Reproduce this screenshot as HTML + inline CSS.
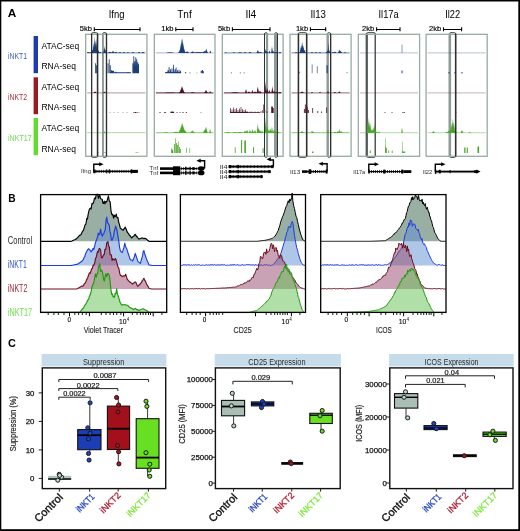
<!DOCTYPE html>
<html><head><meta charset="utf-8"><style>
html,body{margin:0;padding:0;background:#fff;}
svg{display:block;will-change:transform;}
text{font-family:"Liberation Sans", sans-serif;}
</style></head><body>
<svg width="520" height="531" viewBox="0 0 520 531">
<rect x="0" y="0" width="520" height="531" fill="#fff"/>
<text x="7.80" y="16.70" font-size="11.8" fill="#000" font-weight="bold" >A</text>
<text x="108.75" y="17.75" font-size="10" fill="#000" textLength="15.75" lengthAdjust="spacingAndGlyphs" >Ifng</text>
<text x="92.00" y="31.00" font-size="8.0" fill="#000" text-anchor="end" textLength="12.20" lengthAdjust="spacingAndGlyphs" stroke="#000" stroke-width="0.15">5kb</text>
<line x1="94.30" y1="29.50" x2="140.00" y2="29.50" stroke="#000" stroke-width="1.0" />
<line x1="94.30" y1="27.30" x2="94.30" y2="31.30" stroke="#000" stroke-width="1.1" />
<line x1="140.00" y1="27.30" x2="140.00" y2="31.30" stroke="#000" stroke-width="1.1" />
<text x="177.20" y="17.75" font-size="10" fill="#000" textLength="14.50" lengthAdjust="spacingAndGlyphs" >Tnf</text>
<text x="173.50" y="31.00" font-size="8.0" fill="#000" text-anchor="end" textLength="12.20" lengthAdjust="spacingAndGlyphs" stroke="#000" stroke-width="0.15">1kb</text>
<line x1="175.80" y1="29.50" x2="193.00" y2="29.50" stroke="#000" stroke-width="1.0" />
<line x1="175.80" y1="27.30" x2="175.80" y2="31.30" stroke="#000" stroke-width="1.1" />
<line x1="193.00" y1="27.30" x2="193.00" y2="31.30" stroke="#000" stroke-width="1.1" />
<text x="245.50" y="17.75" font-size="10" fill="#000" textLength="10.80" lengthAdjust="spacingAndGlyphs" >Il4</text>
<text x="230.10" y="31.00" font-size="8.0" fill="#000" text-anchor="end" textLength="12.20" lengthAdjust="spacingAndGlyphs" stroke="#000" stroke-width="0.15">5kb</text>
<line x1="232.40" y1="29.50" x2="270.00" y2="29.50" stroke="#000" stroke-width="1.0" />
<line x1="232.40" y1="27.30" x2="232.40" y2="31.30" stroke="#000" stroke-width="1.1" />
<line x1="270.00" y1="27.30" x2="270.00" y2="31.30" stroke="#000" stroke-width="1.1" />
<text x="310.40" y="17.75" font-size="10" fill="#000" textLength="15.60" lengthAdjust="spacingAndGlyphs" >Il13</text>
<text x="308.10" y="31.00" font-size="8.0" fill="#000" text-anchor="end" textLength="12.20" lengthAdjust="spacingAndGlyphs" stroke="#000" stroke-width="0.15">1kb</text>
<line x1="310.40" y1="29.50" x2="325.70" y2="29.50" stroke="#000" stroke-width="1.0" />
<line x1="310.40" y1="27.30" x2="310.40" y2="31.30" stroke="#000" stroke-width="1.1" />
<line x1="325.70" y1="27.30" x2="325.70" y2="31.30" stroke="#000" stroke-width="1.1" />
<text x="378.50" y="17.75" font-size="10" fill="#000" textLength="20.20" lengthAdjust="spacingAndGlyphs" >Il17a</text>
<text x="374.30" y="31.00" font-size="8.0" fill="#000" text-anchor="end" textLength="12.20" lengthAdjust="spacingAndGlyphs" stroke="#000" stroke-width="0.15">2kb</text>
<line x1="376.60" y1="29.50" x2="400.00" y2="29.50" stroke="#000" stroke-width="1.0" />
<line x1="376.60" y1="27.30" x2="376.60" y2="31.30" stroke="#000" stroke-width="1.1" />
<line x1="400.00" y1="27.30" x2="400.00" y2="31.30" stroke="#000" stroke-width="1.1" />
<text x="445.20" y="17.75" font-size="10" fill="#000" textLength="15.00" lengthAdjust="spacingAndGlyphs" >Il22</text>
<text x="441.20" y="31.00" font-size="8.0" fill="#000" text-anchor="end" textLength="12.20" lengthAdjust="spacingAndGlyphs" stroke="#000" stroke-width="0.15">2kb</text>
<line x1="443.50" y1="29.50" x2="461.60" y2="29.50" stroke="#000" stroke-width="1.0" />
<line x1="443.50" y1="27.30" x2="443.50" y2="31.30" stroke="#000" stroke-width="1.1" />
<line x1="461.60" y1="27.30" x2="461.60" y2="31.30" stroke="#000" stroke-width="1.1" />
<text x="7.90" y="59.00" font-size="9.6" fill="#3f63b8" textLength="19.10" lengthAdjust="spacingAndGlyphs" >iNKT1</text>
<rect x="33.60" y="36.00" width="4.40" height="37.20" fill="#1b3caa" stroke="none" stroke-width="1" rx="0" />
<text x="7.90" y="100.40" font-size="9.6" fill="#a8303f" textLength="19.10" lengthAdjust="spacingAndGlyphs" >iNKT2</text>
<rect x="33.60" y="77.30" width="4.40" height="36.90" fill="#9a1a22" stroke="none" stroke-width="1" rx="0" />
<text x="7.90" y="141.40" font-size="9.6" fill="#77d858" textLength="23.80" lengthAdjust="spacingAndGlyphs" >iNKT17</text>
<rect x="33.60" y="118.00" width="4.40" height="37.20" fill="#5fdc2e" stroke="none" stroke-width="1" rx="0" />
<text x="41.50" y="48.60" font-size="8.7" fill="#000" textLength="37.70" lengthAdjust="spacingAndGlyphs" >ATAC-seq</text>
<text x="41.50" y="69.20" font-size="8.7" fill="#000" textLength="34.40" lengthAdjust="spacingAndGlyphs" >RNA-seq</text>
<text x="41.50" y="89.80" font-size="8.7" fill="#000" textLength="37.70" lengthAdjust="spacingAndGlyphs" >ATAC-seq</text>
<text x="41.50" y="110.40" font-size="8.7" fill="#000" textLength="34.40" lengthAdjust="spacingAndGlyphs" >RNA-seq</text>
<text x="41.50" y="131.00" font-size="8.7" fill="#000" textLength="37.70" lengthAdjust="spacingAndGlyphs" >ATAC-seq</text>
<text x="41.50" y="151.60" font-size="8.7" fill="#000" textLength="34.40" lengthAdjust="spacingAndGlyphs" >RNA-seq</text>
<rect x="91.50" y="32.70" width="6.20" height="124.60" fill="none" stroke="#3a3a3a" stroke-width="1.0" rx="1.4" />
<rect x="102.50" y="32.70" width="4.10" height="124.60" fill="none" stroke="#3a3a3a" stroke-width="1.0" rx="1.4" />
<rect x="102.00" y="33.40" width="1.90" height="123.20" fill="#8c9a98" stroke="none" stroke-width="1" rx="0" />
<rect x="264.50" y="32.70" width="3.05" height="124.60" fill="none" stroke="#3a3a3a" stroke-width="1.0" rx="1.4" />
<rect x="265.95" y="33.40" width="2.10" height="123.20" fill="#8c9a98" stroke="none" stroke-width="1" rx="0" />
<rect x="274.50" y="32.70" width="2.90" height="124.60" fill="none" stroke="#3a3a3a" stroke-width="1.0" rx="1.4" />
<rect x="274.00" y="33.40" width="2.90" height="123.20" fill="#8c9a98" stroke="none" stroke-width="1" rx="0" />
<rect x="298.30" y="32.70" width="8.50" height="124.60" fill="none" stroke="#3a3a3a" stroke-width="1.0" rx="1.4" />
<rect x="327.30" y="32.70" width="3.40" height="124.60" fill="none" stroke="#3a3a3a" stroke-width="1.0" rx="1.4" />
<rect x="326.80" y="33.40" width="2.10" height="123.20" fill="#8c9a98" stroke="none" stroke-width="1" rx="0" />
<rect x="366.30" y="32.70" width="9.20" height="124.60" fill="none" stroke="#3a3a3a" stroke-width="1.0" rx="1.4" />
<rect x="365.80" y="33.40" width="2.10" height="123.20" fill="#505858" stroke="none" stroke-width="1" rx="0" />
<rect x="374.50" y="33.40" width="1.50" height="123.20" fill="#505858" stroke="none" stroke-width="1" rx="0" />
<rect x="449.30" y="32.70" width="6.50" height="124.60" fill="none" stroke="#3a3a3a" stroke-width="1.0" rx="1.4" />
<rect x="448.80" y="33.40" width="2.30" height="123.20" fill="#8c9a98" stroke="none" stroke-width="1" rx="0" />
<line x1="87.20" y1="52.90" x2="145.40" y2="52.90" stroke="#1c3f78" stroke-width="1.3" opacity="0.5"/>
<path d="M87.20,52.90L87.20,52.30L87.45,52.20L87.70,52.13L87.95,52.10L88.20,52.11L88.45,52.17L88.70,52.26L88.95,52.36L89.20,52.48L89.45,52.59L89.70,52.68L89.95,52.74L90.20,52.67L90.45,52.57L90.70,52.35L90.95,51.90L91.20,51.32L91.45,50.68L91.70,50.16L91.95,49.91L92.20,50.02L92.45,50.22L92.70,49.70L92.95,48.58L93.20,45.11L93.45,42.97L93.70,43.95L93.95,46.95L94.20,41.04L94.45,36.07L94.70,38.41L94.95,43.65L95.20,40.26L95.45,40.69L95.70,44.56L95.95,41.22L96.20,37.90L96.45,41.22L96.70,46.67L96.95,44.96L97.20,45.74L97.45,48.34L97.70,50.16L97.95,49.91L98.20,50.02L98.45,50.45L98.70,51.06L98.95,51.68L99.20,52.19L99.45,52.16L99.70,51.99L99.95,51.90L100.20,51.94L100.45,52.08L100.70,52.29L100.95,52.49L101.20,52.66L101.45,52.78L101.45,52.90ZM103.45,52.90L103.45,52.51L103.70,51.24L103.95,48.61L104.20,46.17L104.45,46.50L104.70,49.21L104.95,48.91L105.20,49.09L105.45,49.78L105.70,50.72L105.95,51.59L106.20,52.22L106.45,52.60L106.45,52.90ZM108.20,52.90L108.20,52.77L108.45,52.67L108.70,52.53L108.95,52.34L109.20,52.13L109.45,51.93L109.70,51.77L109.95,51.70L110.20,51.73L110.45,51.86L110.70,52.05L110.95,52.26L111.20,52.46L111.45,52.62L111.70,52.53L111.95,52.24L112.20,51.85L112.45,51.42L112.70,51.07L112.95,50.90L113.20,50.98L113.45,51.27L113.70,51.67L113.95,52.09L114.20,52.43L114.45,52.66L114.70,52.72L114.95,52.57L115.20,52.37L115.45,52.16L115.70,51.99L115.95,51.90L116.20,51.94L116.45,52.08L116.70,52.29L116.95,52.49L117.20,52.66L117.45,52.78L117.45,52.90ZM118.70,52.90L118.70,52.75L118.95,52.63L119.20,52.48L119.45,52.31L119.70,52.17L119.95,52.10L120.20,52.13L120.45,52.25L120.70,52.41L120.95,52.58L121.20,52.71L121.20,52.90ZM122.70,52.90L122.70,52.75L122.95,52.63L123.20,52.48L123.45,52.31L123.70,52.17L123.95,52.10L124.20,52.13L124.45,52.25L124.70,52.41L124.95,52.58L125.20,52.71L125.20,52.90ZM126.95,52.90L126.95,52.70L127.20,52.58L127.45,52.46L127.70,52.35L127.95,52.30L128.20,52.32L128.45,52.41L128.70,52.53L128.95,52.66L129.20,52.76L129.20,52.90ZM131.70,52.90L131.70,52.75L131.95,52.63L132.20,52.48L132.45,52.31L132.70,52.17L132.95,52.10L133.20,52.13L133.45,52.25L133.70,52.41L133.95,52.58L134.20,52.71L134.20,52.90ZM137.70,52.90L137.70,52.75L137.95,52.63L138.20,52.48L138.45,52.31L138.70,52.17L138.95,52.10L139.20,52.13L139.45,52.25L139.70,52.41L139.95,52.58L140.20,52.71L140.20,52.90ZM141.70,52.90L141.70,52.72L141.95,52.57L142.20,52.37L142.45,52.16L142.70,51.99L142.95,51.90L143.20,51.94L143.45,52.08L143.70,52.29L143.95,52.49L144.20,52.66L144.45,52.78L144.45,52.90Z" fill="#1c3f78" opacity="0.7"/>
<path d="M87.20,52.90L87.20,52.47L87.45,52.40L87.70,52.35L87.95,52.32L88.20,52.33L88.45,52.37L88.70,52.44L88.95,52.51L89.20,52.60L89.45,52.67L89.70,52.74L89.95,52.78L90.20,52.73L90.45,52.66L90.70,52.50L90.95,52.18L91.20,51.76L91.45,51.30L91.70,50.93L91.95,50.75L92.20,50.82L92.45,50.97L92.70,50.60L92.95,49.79L93.20,47.29L93.45,45.75L93.70,46.46L93.95,48.62L94.20,44.36L94.45,40.78L94.70,42.47L94.95,46.24L95.20,43.80L95.45,44.11L95.70,46.90L95.95,44.49L96.20,42.10L96.45,44.49L96.70,48.41L96.95,47.18L97.20,47.75L97.45,49.62L97.70,50.93L97.95,50.75L98.20,50.82L98.45,51.14L98.70,51.58L98.95,52.02L99.20,52.39L99.45,52.37L99.70,52.24L99.95,52.18L100.20,52.21L100.45,52.31L100.70,52.46L100.95,52.61L101.20,52.73L101.45,52.81L101.45,52.90ZM103.45,52.90L103.45,52.62L103.70,51.71L103.95,49.81L104.20,48.06L104.45,48.29L104.70,50.24L104.95,50.03L105.20,50.16L105.45,50.66L105.70,51.33L105.95,51.95L106.20,52.41L106.45,52.69L106.45,52.90ZM108.20,52.90L108.20,52.81L108.45,52.74L108.70,52.63L108.95,52.50L109.20,52.35L109.45,52.20L109.70,52.09L109.95,52.04L110.20,52.06L110.45,52.15L110.70,52.29L110.95,52.44L111.20,52.58L111.45,52.70L111.70,52.63L111.95,52.42L112.20,52.14L112.45,51.84L112.70,51.58L112.95,51.46L113.20,51.52L113.45,51.72L113.70,52.02L113.95,52.32L114.20,52.56L114.45,52.72L114.70,52.77L114.95,52.66L115.20,52.52L115.45,52.37L115.70,52.24L115.95,52.18L116.20,52.21L116.45,52.31L116.70,52.46L116.95,52.61L117.20,52.73L117.45,52.81L117.45,52.90ZM118.70,52.90L118.70,52.79L118.95,52.71L119.20,52.60L119.45,52.47L119.70,52.37L119.95,52.33L120.20,52.35L120.45,52.43L120.70,52.55L120.95,52.67L121.20,52.76L121.20,52.90ZM122.70,52.90L122.70,52.79L122.95,52.71L123.20,52.60L123.45,52.47L123.70,52.37L123.95,52.33L124.20,52.35L124.45,52.43L124.70,52.55L124.95,52.67L125.20,52.76L125.20,52.90ZM126.95,52.90L126.95,52.76L127.20,52.67L127.45,52.58L127.70,52.51L127.95,52.47L128.20,52.48L128.45,52.55L128.70,52.64L128.95,52.72L129.20,52.80L129.20,52.90ZM131.70,52.90L131.70,52.79L131.95,52.71L132.20,52.60L132.45,52.47L132.70,52.37L132.95,52.33L133.20,52.35L133.45,52.43L133.70,52.55L133.95,52.67L134.20,52.76L134.20,52.90ZM137.70,52.90L137.70,52.79L137.95,52.71L138.20,52.60L138.45,52.47L138.70,52.37L138.95,52.33L139.20,52.35L139.45,52.43L139.70,52.55L139.95,52.67L140.20,52.76L140.20,52.90ZM141.70,52.90L141.70,52.77L141.95,52.66L142.20,52.52L142.45,52.37L142.70,52.24L142.95,52.18L143.20,52.21L143.45,52.31L143.70,52.46L143.95,52.61L144.20,52.73L144.45,52.81L144.45,52.90Z" fill="#1c3f78" opacity="1"/>
<path d="M95.00,73.20L95.00,63.20L95.10,63.20L95.20,63.20L95.30,63.20L95.40,63.20L95.50,63.20L95.60,63.20L95.70,63.20L95.80,63.20L95.80,73.20ZM96.00,73.20L96.00,65.20L96.10,65.20L96.20,65.20L96.30,65.20L96.40,65.20L96.50,65.20L96.60,65.20L96.70,65.20L96.80,65.20L96.80,73.20ZM107.60,73.20L107.60,63.20L107.70,63.20L107.80,63.20L107.90,63.20L108.00,63.20L108.10,63.20L108.20,63.20L108.30,63.20L108.40,63.20L108.40,73.20ZM108.80,73.20L108.80,59.20L108.90,59.20L109.00,59.20L109.10,59.20L109.20,59.20L109.30,59.20L109.40,59.20L109.50,59.20L109.60,59.20L109.60,73.20ZM109.90,73.20L109.90,65.20L110.00,65.20L110.10,65.20L110.20,65.20L110.30,65.20L110.40,65.20L110.50,65.20L110.60,65.20L110.70,65.20L110.80,72.20L110.90,72.20L111.00,70.20L111.10,70.20L111.20,70.20L111.30,70.20L111.40,70.20L111.50,70.20L111.60,70.20L111.70,70.20L111.80,70.20L111.90,70.20L112.00,70.20L112.10,70.70L112.20,70.70L112.30,70.70L112.40,70.70L112.50,70.70L112.60,70.70L112.70,70.70L112.80,70.70L112.90,70.70L113.00,70.70L113.10,70.70L113.20,70.70L113.30,70.70L113.40,70.70L113.50,70.70L113.60,70.70L113.70,70.70L113.80,70.70L113.90,70.70L114.00,70.70L114.10,72.20L114.20,72.20L114.30,72.20L114.40,72.20L114.50,72.20L114.60,72.20L114.70,72.20L114.80,72.20L114.90,72.20L115.00,72.20L115.10,72.20L115.20,72.20L115.30,72.20L115.40,71.70L115.50,71.70L115.60,71.70L115.70,71.70L115.80,71.70L115.90,71.70L116.00,71.70L116.10,71.70L116.20,71.70L116.30,71.70L116.40,71.70L116.50,71.70L116.60,71.70L116.70,72.20L116.80,72.20L116.90,72.20L117.00,72.20L117.10,72.20L117.20,72.20L117.30,72.20L117.40,72.20L117.50,72.20L117.60,72.20L117.70,72.20L117.80,72.20L117.90,72.20L118.00,72.20L118.10,72.20L118.20,72.20L118.30,72.20L118.40,72.20L118.50,72.20L118.60,72.20L118.70,72.20L118.80,72.20L118.90,72.20L119.00,72.20L119.10,72.20L119.20,72.20L119.30,72.20L119.40,72.20L119.50,72.20L119.60,72.20L119.70,72.20L119.80,72.20L119.90,72.20L120.00,72.20L120.10,72.20L120.20,72.20L120.30,72.20L120.40,72.20L120.50,72.20L120.60,72.20L120.70,72.20L120.80,72.20L120.90,72.20L121.00,72.20L121.10,72.20L121.20,72.20L121.30,72.20L121.40,72.20L121.50,72.20L121.60,72.20L121.70,72.20L121.80,72.20L121.90,72.20L122.00,72.20L122.10,72.20L122.20,72.20L122.30,72.20L122.40,72.20L122.50,72.20L122.60,72.20L122.70,72.20L122.80,72.20L122.90,72.20L123.00,72.20L123.10,72.20L123.20,72.20L123.30,72.20L123.40,72.20L123.50,72.20L123.60,72.20L123.70,72.20L123.80,72.20L123.90,72.20L124.00,72.20L124.10,72.20L124.20,72.20L124.30,72.20L124.40,72.20L124.50,72.20L124.60,72.20L124.70,72.20L124.80,72.20L124.90,72.20L125.00,72.20L125.10,72.20L125.20,72.20L125.30,72.20L125.40,72.20L125.50,72.20L125.60,72.20L125.70,72.20L125.80,72.20L125.90,72.20L126.00,72.20L126.10,72.20L126.20,72.20L126.30,72.20L126.40,72.20L126.50,72.20L126.60,72.20L126.70,72.20L126.80,72.20L126.90,72.20L127.00,72.20L127.10,72.20L127.20,72.20L127.30,72.20L127.40,72.20L127.50,72.00L127.60,72.00L127.70,72.00L127.80,72.00L127.90,72.00L128.00,72.00L128.10,72.00L128.20,72.00L128.30,72.00L128.40,72.00L128.50,72.00L128.60,72.20L128.70,72.20L128.80,72.20L128.90,72.20L129.00,72.20L129.10,72.20L129.20,72.20L129.30,72.20L129.40,72.20L129.50,72.20L129.60,72.20L129.70,72.20L129.80,72.20L129.90,72.20L130.00,72.20L130.10,72.20L130.20,72.20L130.30,72.20L130.40,72.20L130.50,72.20L130.60,72.20L130.70,72.20L130.80,72.20L130.90,72.20L131.00,72.20L131.00,73.20ZM132.40,73.20L132.40,63.20L132.50,63.20L132.60,63.20L132.70,63.20L132.80,63.20L132.90,63.20L133.00,63.20L133.10,63.20L133.20,63.20L133.30,67.20L133.40,56.20L133.50,56.20L133.60,56.20L133.70,56.20L133.80,56.20L133.90,56.20L134.00,56.20L134.10,56.20L134.20,56.20L134.30,67.20L134.40,61.20L134.50,61.20L134.60,61.20L134.70,61.20L134.80,61.20L134.90,61.20L135.00,61.20L135.10,61.20L135.20,61.20L135.30,67.20L135.40,57.20L135.50,57.20L135.60,57.20L135.70,57.20L135.80,57.20L135.90,57.20L136.00,57.20L136.10,57.20L136.20,57.20L136.30,67.20L136.40,59.20L136.50,59.20L136.60,59.20L136.70,59.20L136.80,59.20L136.90,59.20L137.00,59.20L137.10,59.20L137.20,59.20L137.30,67.20L137.40,62.20L137.50,62.20L137.60,62.20L137.70,62.20L137.80,62.20L137.90,62.20L138.00,62.20L138.10,62.20L138.20,62.20L138.30,64.20L138.40,64.20L138.50,64.20L138.60,64.20L138.70,64.20L138.80,64.20L138.90,64.20L139.00,64.20L139.00,73.20Z" fill="#1c3f78" opacity="1.0"/>
<line x1="87.20" y1="92.90" x2="145.40" y2="92.90" stroke="#4d1224" stroke-width="1.3" opacity="0.35"/>
<path d="M93.45,92.90L93.45,92.76L93.70,92.62L93.95,92.40L94.20,92.11L94.45,91.79L94.70,91.53L94.95,91.40L95.20,91.46L95.45,91.67L95.70,91.98L95.95,92.29L96.20,92.54L96.45,92.72L96.45,92.90ZM103.45,92.90L103.45,92.69L103.70,92.46L103.95,92.15L104.20,91.86L104.45,91.70L104.70,91.77L104.95,92.03L105.20,92.34L105.45,92.61L105.70,92.77L105.70,92.90Z" fill="#4d1224" opacity="0.7"/>
<path d="M93.45,92.90L93.45,92.80L93.70,92.70L93.95,92.54L94.20,92.33L94.45,92.10L94.70,91.91L94.95,91.82L95.20,91.86L95.45,92.02L95.70,92.24L95.95,92.46L96.20,92.64L96.45,92.77L96.45,92.90ZM103.45,92.90L103.45,92.75L103.70,92.58L103.95,92.36L104.20,92.15L104.45,92.04L104.70,92.09L104.95,92.27L105.20,92.50L105.45,92.69L105.70,92.81L105.70,92.90Z" fill="#4d1224" opacity="1"/>
<path d="M97.60,112.90L97.60,112.50L97.70,112.50L97.80,112.50L97.90,112.50L98.00,112.50L98.10,112.50L98.20,112.50L98.30,112.50L98.40,112.50L98.40,112.90ZM109.60,112.90L109.60,112.40L109.70,112.40L109.80,112.40L109.90,112.40L110.00,112.40L110.10,112.40L110.20,112.40L110.30,112.40L110.40,112.40L110.40,112.90ZM113.60,112.90L113.60,112.50L113.70,112.50L113.80,112.50L113.90,112.50L114.00,112.50L114.10,112.50L114.20,112.50L114.30,112.50L114.40,112.50L114.40,112.90ZM117.60,112.90L117.60,112.50L117.70,112.50L117.80,112.50L117.90,112.50L118.00,112.50L118.10,112.50L118.20,112.50L118.30,112.50L118.40,112.50L118.40,112.90ZM122.60,112.90L122.60,112.50L122.70,112.50L122.80,112.50L122.90,112.50L123.00,112.50L123.10,112.50L123.20,112.50L123.30,112.50L123.40,112.50L123.40,112.90ZM126.60,112.90L126.60,112.50L126.70,112.50L126.80,112.50L126.90,112.50L127.00,112.50L127.10,112.50L127.20,112.50L127.30,112.50L127.40,112.50L127.40,112.90ZM133.50,112.90L133.50,112.10L133.60,112.10L133.70,112.10L133.80,112.10L133.90,112.10L134.00,112.10L134.10,112.10L134.20,112.10L134.30,112.10L134.40,112.10L134.50,112.10L134.50,112.90ZM135.00,112.90L135.00,111.90L135.10,111.90L135.20,111.90L135.30,111.90L135.40,111.90L135.50,111.90L135.60,111.90L135.70,111.90L135.80,111.90L135.90,111.90L136.00,111.90L136.00,112.90ZM136.50,112.90L136.50,112.10L136.60,112.10L136.70,112.10L136.80,112.10L136.90,112.10L137.00,112.10L137.10,112.10L137.20,112.10L137.30,112.10L137.40,112.10L137.50,112.10L137.50,112.90ZM138.50,112.90L138.50,112.40L138.60,112.40L138.70,112.40L138.80,112.40L138.90,112.40L139.00,112.40L139.10,112.40L139.20,112.40L139.30,112.40L139.40,112.40L139.50,112.40L139.50,112.90Z" fill="#4d1224" opacity="1.0"/>
<line x1="87.20" y1="132.70" x2="145.40" y2="132.70" stroke="#48a626" stroke-width="1.3" opacity="0.35"/>
<path d="M103.95,132.70L103.95,132.25L104.20,131.65L104.45,131.21L104.70,131.42L104.95,132.03L105.20,132.49L105.20,132.70Z" fill="#48a626" opacity="0.7"/>
<path d="M103.95,132.70L103.95,132.38L104.20,131.95L104.45,131.63L104.70,131.78L104.95,132.22L105.20,132.55L105.20,132.70Z" fill="#48a626" opacity="1"/>
<path d="M97.00,152.90L97.00,152.60L97.10,152.60L97.20,152.60L97.30,152.60L97.40,152.60L97.50,152.60L97.60,152.60L97.70,152.60L97.80,152.60L97.90,152.60L98.00,152.60L98.10,152.60L98.20,152.60L98.30,152.60L98.40,152.60L98.50,152.60L98.60,152.60L98.70,152.60L98.80,152.60L98.90,152.60L99.00,152.60L99.00,152.90ZM104.00,152.90L104.00,152.60L104.10,152.60L104.20,152.60L104.30,152.60L104.40,152.60L104.50,152.60L104.60,152.60L104.70,152.60L104.80,152.60L104.90,152.60L105.00,152.60L105.10,152.60L105.20,152.60L105.30,152.60L105.40,152.60L105.50,152.60L105.60,152.60L105.70,152.60L105.80,152.60L105.90,152.60L106.00,152.60L106.00,152.90ZM135.50,152.90L135.50,152.60L135.60,152.60L135.70,152.60L135.80,152.60L135.90,152.60L136.00,152.60L136.10,152.60L136.20,152.60L136.30,152.60L136.40,152.60L136.50,152.60L136.60,152.60L136.70,152.60L136.80,152.60L136.90,152.60L137.00,152.60L137.10,152.60L137.20,152.60L137.30,152.60L137.40,152.60L137.50,152.60L137.60,152.60L137.70,152.60L137.80,152.60L137.90,152.60L138.00,152.60L138.10,152.60L138.20,152.60L138.30,152.60L138.40,152.60L138.50,152.60L138.50,152.90Z" fill="#48a626" opacity="1.0"/>
<rect x="85.70" y="34.30" width="61.20" height="122.00" fill="none" stroke="#97aca2" stroke-width="1.3" rx="0" />
<line x1="155.80" y1="52.90" x2="213.50" y2="52.90" stroke="#1c3f78" stroke-width="1.3" opacity="0.3"/>
<path d="M166.55,52.90L166.55,52.77L166.80,52.74L167.05,52.71L167.30,52.68L167.55,52.64L167.80,52.61L168.05,52.57L168.30,52.54L168.55,52.50L168.80,52.47L169.05,52.45L169.30,52.43L169.55,52.41L169.80,52.40L170.05,52.40L170.30,52.40L170.55,52.42L170.80,52.43L171.05,52.46L171.30,52.49L171.55,52.52L171.80,52.55L172.05,52.59L172.30,52.62L172.55,52.66L172.80,52.69L173.05,52.72L173.30,52.75L173.55,52.78L173.55,52.90ZM178.05,52.90L178.05,52.75L178.30,52.65L178.55,52.48L178.80,52.22L179.05,51.85L179.30,51.33L179.55,50.62L179.80,49.71L180.05,48.59L180.30,47.28L180.55,45.81L180.80,44.26L181.05,42.73L181.30,41.34L181.55,40.21L181.80,39.44L182.05,39.11L182.30,39.25L182.55,39.85L182.80,40.85L183.05,42.15L183.30,43.64L183.55,45.19L183.80,46.70L184.05,48.09L184.30,49.01L184.55,50.05L184.80,51.06L185.05,51.66L185.30,52.09L185.55,52.31L185.80,52.11L186.05,51.90L186.30,51.69L186.55,51.53L186.80,51.43L187.05,51.40L187.30,51.46L187.55,51.59L187.80,51.77L188.05,51.98L188.30,52.19L188.55,52.38L188.80,52.54L189.05,52.67L189.30,52.76L189.30,52.90ZM190.30,52.90L190.30,52.76L190.55,52.67L190.80,52.54L191.05,52.38L191.30,52.19L191.55,51.98L191.80,51.77L192.05,51.59L192.30,51.46L192.55,51.40L192.80,51.43L193.05,51.53L193.30,51.69L193.55,51.90L193.80,52.11L194.05,52.31L194.30,52.48L194.55,52.45L194.80,52.41L195.05,52.36L195.30,52.32L195.55,52.28L195.80,52.24L196.05,52.19L196.30,52.15L196.55,52.11L196.80,52.08L197.05,52.04L197.30,52.01L197.55,51.98L197.80,51.96L198.05,51.94L198.30,51.92L198.55,51.91L198.80,51.90L199.05,51.90L199.30,51.90L199.55,51.91L199.80,51.93L200.05,51.94L200.30,51.97L200.55,51.99L200.80,52.02L201.05,52.05L201.30,52.09L201.55,52.13L201.80,52.17L202.05,52.21L202.30,52.25L202.55,52.30L202.80,52.34L203.05,52.32L203.30,52.05L203.55,51.73L203.80,51.40L204.05,51.13L204.30,50.95L204.55,50.90L204.80,51.00L205.05,51.23L205.30,51.53L205.55,50.85L205.80,49.89L206.05,49.10L206.30,48.80L206.55,49.10L206.80,49.89L207.05,50.85L207.30,51.71L207.55,52.30L207.80,52.65L207.80,52.90ZM209.55,52.90L209.55,52.76L209.80,52.31L210.05,51.37L210.30,50.50L210.55,50.62L210.80,51.58L211.05,52.44L211.05,52.90Z" fill="#1c3f78" opacity="0.7"/>
<path d="M166.55,52.90L166.55,52.80L166.80,52.78L167.05,52.76L167.30,52.74L167.55,52.72L167.80,52.69L168.05,52.66L168.30,52.64L168.55,52.61L168.80,52.59L169.05,52.57L169.30,52.56L169.55,52.55L169.80,52.54L170.05,52.54L170.30,52.54L170.55,52.55L170.80,52.56L171.05,52.58L171.30,52.60L171.55,52.62L171.80,52.65L172.05,52.67L172.30,52.70L172.55,52.73L172.80,52.75L173.05,52.77L173.30,52.79L173.55,52.81L173.55,52.90ZM178.05,52.90L178.05,52.79L178.30,52.72L178.55,52.60L178.80,52.41L179.05,52.14L179.30,51.77L179.55,51.26L179.80,50.60L180.05,49.80L180.30,48.85L180.55,47.79L180.80,46.68L181.05,45.58L181.30,44.58L181.55,43.76L181.80,43.21L182.05,42.97L182.30,43.07L182.55,43.51L182.80,44.23L183.05,45.16L183.30,46.23L183.55,47.35L183.80,48.44L184.05,49.43L184.30,50.10L184.55,50.85L184.80,51.58L185.05,52.01L185.30,52.32L185.55,52.48L185.80,52.33L186.05,52.18L186.30,52.03L186.55,51.91L186.80,51.84L187.05,51.82L187.30,51.86L187.55,51.96L187.80,52.09L188.05,52.24L188.30,52.39L188.55,52.53L188.80,52.64L189.05,52.73L189.30,52.80L189.30,52.90ZM190.30,52.90L190.30,52.80L190.55,52.73L190.80,52.64L191.05,52.53L191.30,52.39L191.55,52.24L191.80,52.09L192.05,51.96L192.30,51.86L192.55,51.82L192.80,51.84L193.05,51.91L193.30,52.03L193.55,52.18L193.80,52.33L194.05,52.48L194.30,52.60L194.55,52.57L194.80,52.54L195.05,52.51L195.30,52.48L195.55,52.45L195.80,52.42L196.05,52.39L196.30,52.36L196.55,52.33L196.80,52.31L197.05,52.28L197.30,52.26L197.55,52.24L197.80,52.22L198.05,52.21L198.30,52.19L198.55,52.19L198.80,52.18L199.05,52.18L199.30,52.18L199.55,52.19L199.80,52.20L200.05,52.21L200.30,52.23L200.55,52.25L200.80,52.27L201.05,52.29L201.30,52.32L201.55,52.34L201.80,52.37L202.05,52.40L202.30,52.43L202.55,52.47L202.80,52.50L203.05,52.48L203.30,52.29L203.55,52.06L203.80,51.82L204.05,51.62L204.30,51.49L204.55,51.46L204.80,51.53L205.05,51.70L205.30,51.91L205.55,51.43L205.80,50.73L206.05,50.17L206.30,49.95L206.55,50.17L206.80,50.73L207.05,51.43L207.30,52.04L207.55,52.47L207.80,52.72L207.80,52.90ZM209.55,52.90L209.55,52.80L209.80,52.47L210.05,51.80L210.30,51.17L210.55,51.25L210.80,51.95L211.05,52.57L211.05,52.90Z" fill="#1c3f78" opacity="1"/>
<path d="M165.00,73.20L165.00,72.20L165.10,72.20L165.20,72.20L165.30,72.20L165.40,72.20L165.50,72.20L165.60,72.20L165.70,72.20L165.80,72.20L165.90,72.00L166.00,72.00L166.10,72.00L166.20,72.00L166.30,72.00L166.40,72.00L166.50,72.00L166.60,72.00L166.70,72.00L166.80,72.00L166.90,72.00L167.00,72.00L167.10,72.00L167.20,72.00L167.30,72.00L167.40,72.00L167.50,70.20L167.60,70.20L167.70,70.20L167.80,70.20L167.90,70.20L168.00,70.20L168.10,70.20L168.20,70.20L168.30,70.20L168.40,70.20L168.50,70.20L168.60,72.00L168.70,66.90L168.80,66.90L168.90,66.90L169.00,66.90L169.10,66.90L169.20,66.90L169.30,66.90L169.40,66.90L169.50,66.90L169.60,72.00L169.70,72.00L169.80,72.00L169.90,72.00L170.00,72.00L170.10,69.20L170.20,69.20L170.30,69.20L170.40,69.20L170.50,69.20L170.60,69.20L170.70,69.20L170.80,69.20L170.90,69.20L171.00,72.00L171.10,72.00L171.20,72.00L171.30,72.00L171.40,72.00L171.50,72.00L171.60,68.20L171.70,68.20L171.80,68.20L171.90,68.20L172.00,68.20L172.10,68.20L172.20,68.20L172.30,68.20L172.40,68.20L172.50,72.00L172.60,72.00L172.70,72.00L172.80,72.00L172.90,72.00L173.00,72.00L173.10,72.00L173.20,64.70L173.30,64.70L173.40,64.70L173.50,64.70L173.60,64.70L173.70,64.70L173.80,64.70L173.90,64.70L174.00,64.70L174.10,72.00L174.20,72.00L174.30,72.00L174.40,72.00L174.50,72.00L174.60,69.20L174.70,69.20L174.80,69.20L174.90,69.20L175.00,69.20L175.10,69.20L175.20,69.20L175.30,69.20L175.40,69.20L175.50,72.00L175.60,72.00L175.70,67.50L175.80,67.50L175.90,67.50L176.00,67.50L176.10,67.50L176.20,67.50L176.30,67.50L176.40,67.50L176.50,67.50L176.60,72.00L176.70,72.00L176.80,72.00L176.90,72.00L177.00,72.00L177.10,70.20L177.20,70.20L177.30,70.20L177.40,70.20L177.50,70.20L177.60,70.20L177.70,70.20L177.80,70.20L177.90,70.20L178.00,72.00L178.10,72.00L178.20,72.00L178.30,72.00L178.40,72.00L178.50,72.00L178.60,69.70L178.70,69.70L178.80,69.70L178.90,69.70L179.00,69.70L179.10,69.70L179.20,69.70L179.30,69.70L179.40,69.70L179.50,72.00L179.60,72.00L179.70,72.00L179.80,72.00L179.90,72.00L180.00,72.00L180.10,70.70L180.20,70.70L180.30,70.70L180.40,70.70L180.50,70.70L180.60,70.70L180.70,70.70L180.80,70.70L180.90,70.70L181.00,72.00L181.10,72.00L181.10,73.20ZM185.10,73.20L185.10,72.00L185.20,72.00L185.30,72.00L185.40,72.00L185.50,72.00L185.60,72.00L185.70,72.00L185.80,72.00L185.90,72.00L186.00,72.00L186.10,72.00L186.10,73.20ZM189.50,73.20L189.50,72.40L189.60,72.40L189.70,72.40L189.80,72.40L189.90,72.40L190.00,72.40L190.10,72.40L190.20,72.40L190.30,72.40L190.40,72.40L190.50,72.40L190.50,73.20ZM196.50,73.20L196.50,72.70L196.60,72.70L196.70,72.70L196.80,72.70L196.90,72.70L197.00,72.70L197.10,72.70L197.20,72.70L197.30,72.70L197.40,72.70L197.50,72.70L197.50,73.20ZM200.70,73.20L200.70,70.70L200.80,70.70L200.90,70.70L201.00,70.70L201.10,70.70L201.20,70.70L201.30,70.70L201.40,70.70L201.50,70.70L201.60,70.70L201.70,70.70L201.70,73.20ZM201.90,73.20L201.90,70.00L202.00,70.00L202.10,70.00L202.20,70.00L202.30,70.00L202.40,70.00L202.50,70.00L202.60,70.00L202.70,70.00L202.80,70.00L202.90,70.00L203.00,71.20L203.10,71.20L203.20,71.20L203.30,71.20L203.40,71.20L203.50,71.20L203.60,71.20L203.70,71.20L203.80,71.20L203.80,73.20Z" fill="#1c3f78" opacity="1.0"/>
<line x1="155.80" y1="92.90" x2="213.50" y2="92.90" stroke="#4d1224" stroke-width="1.3" opacity="0.75"/>
<path d="M165.05,92.90L165.05,92.77L165.30,92.76L165.55,92.74L165.80,92.73L166.05,92.71L166.30,92.70L166.55,92.68L166.80,92.67L167.05,92.65L167.30,92.64L167.55,92.62L167.80,92.61L168.05,92.60L168.30,92.59L168.55,92.58L168.80,92.57L169.05,92.56L169.30,92.56L169.55,92.55L169.80,92.55L170.05,92.55L170.30,92.55L170.55,92.55L170.80,92.56L171.05,92.57L171.30,92.57L171.55,92.58L171.80,92.59L172.05,92.60L172.30,92.62L172.55,92.63L172.80,92.64L173.05,92.66L173.30,92.67L173.55,92.69L173.80,92.70L174.05,92.72L174.30,92.73L174.55,92.75L174.80,92.76L175.05,92.77L175.05,92.90ZM178.80,92.90L178.80,92.72L179.05,92.55L179.30,92.29L179.55,91.95L179.80,91.57L180.05,91.21L180.30,90.83L180.55,90.08L180.80,89.25L181.05,88.40L181.30,87.61L181.55,86.99L181.80,86.60L182.05,86.51L182.30,86.72L182.55,87.21L182.80,87.92L183.05,88.74L183.30,89.59L183.55,90.40L183.80,91.09L184.05,91.66L184.30,92.09L184.55,92.40L184.80,92.60L185.05,92.73L185.05,92.90ZM190.80,92.90L190.80,92.76L191.05,92.69L191.30,92.62L191.55,92.53L191.80,92.45L192.05,92.38L192.30,92.32L192.55,92.30L192.80,92.31L193.05,92.35L193.30,92.42L193.55,92.50L193.80,92.58L194.05,92.66L194.30,92.73L194.30,92.90ZM204.05,92.90L204.05,92.77L204.30,92.63L204.55,92.39L204.80,92.02L205.05,91.52L205.30,90.97L205.55,90.45L205.80,90.09L206.05,90.01L206.30,90.21L206.55,90.64L206.80,91.19L207.05,91.73L207.30,92.18L207.55,92.50L207.80,92.70L207.80,92.90ZM209.30,92.90L209.30,92.66L209.55,92.16L209.80,91.41L210.05,90.92L210.30,91.15L210.55,91.88L210.80,92.50L210.80,92.90Z" fill="#4d1224" opacity="0.7"/>
<path d="M165.05,92.90L165.05,92.81L165.30,92.80L165.55,92.79L165.80,92.78L166.05,92.76L166.30,92.75L166.55,92.74L166.80,92.73L167.05,92.72L167.30,92.71L167.55,92.70L167.80,92.69L168.05,92.68L168.30,92.68L168.55,92.67L168.80,92.66L169.05,92.66L169.30,92.65L169.55,92.65L169.80,92.65L170.05,92.65L170.30,92.65L170.55,92.65L170.80,92.65L171.05,92.66L171.30,92.66L171.55,92.67L171.80,92.68L172.05,92.69L172.30,92.70L172.55,92.71L172.80,92.72L173.05,92.73L173.30,92.74L173.55,92.75L173.80,92.76L174.05,92.77L174.30,92.78L174.55,92.79L174.80,92.80L175.05,92.81L175.05,92.90ZM178.80,92.90L178.80,92.77L179.05,92.65L179.30,92.46L179.55,92.22L179.80,91.94L180.05,91.68L180.30,91.41L180.55,90.87L180.80,90.27L181.05,89.66L181.30,89.09L181.55,88.64L181.80,88.36L182.05,88.30L182.30,88.45L182.55,88.81L182.80,89.31L183.05,89.90L183.30,90.52L183.55,91.10L183.80,91.60L184.05,92.01L184.30,92.32L184.55,92.54L184.80,92.68L185.05,92.78L185.05,92.90ZM190.80,92.90L190.80,92.80L191.05,92.75L191.30,92.70L191.55,92.64L191.80,92.57L192.05,92.52L192.30,92.48L192.55,92.47L192.80,92.48L193.05,92.51L193.30,92.55L193.55,92.61L193.80,92.67L194.05,92.73L194.30,92.78L194.30,92.90ZM204.05,92.90L204.05,92.81L204.30,92.71L204.55,92.53L204.80,92.26L205.05,91.91L205.30,91.51L205.55,91.13L205.80,90.88L206.05,90.82L206.30,90.96L206.55,91.27L206.80,91.67L207.05,92.06L207.30,92.38L207.55,92.61L207.80,92.76L207.80,92.90ZM209.30,92.90L209.30,92.73L209.55,92.37L209.80,91.83L210.05,91.47L210.30,91.64L210.55,92.16L210.80,92.61L210.80,92.90Z" fill="#4d1224" opacity="1"/>
<path d="M159.00,112.90L159.00,112.40L159.10,112.40L159.20,112.40L159.30,112.40L159.40,112.40L159.50,112.40L159.60,112.40L159.70,112.40L159.80,112.40L159.90,112.40L160.00,112.40L160.10,112.40L160.20,112.40L160.30,112.40L160.40,112.40L160.50,112.40L160.60,112.40L160.70,112.40L160.80,112.40L160.90,112.40L161.00,112.40L161.00,112.90ZM164.00,112.90L164.00,112.30L164.10,112.30L164.20,112.30L164.30,112.30L164.40,112.30L164.50,112.30L164.60,112.30L164.70,112.30L164.80,112.30L164.90,112.30L165.00,112.30L165.10,112.30L165.20,112.30L165.30,112.30L165.40,112.30L165.50,112.30L165.60,112.30L165.70,112.30L165.80,112.30L165.90,112.30L166.00,112.30L166.00,112.90ZM170.40,112.90L170.40,111.70L170.50,111.70L170.60,111.70L170.70,111.70L170.80,111.70L170.90,111.70L171.00,111.70L171.10,111.70L171.20,111.70L171.30,111.70L171.40,111.70L171.50,111.70L171.60,111.70L171.70,111.40L171.80,111.40L171.90,111.40L172.00,111.40L172.10,111.40L172.20,111.40L172.30,111.40L172.40,111.40L172.50,111.40L172.60,111.40L172.70,111.40L172.80,111.40L172.90,111.40L173.00,111.70L173.10,111.70L173.20,111.70L173.30,111.70L173.40,111.70L173.50,111.70L173.60,111.70L173.70,111.70L173.80,111.70L173.90,111.70L174.00,111.70L174.10,111.70L174.10,112.90ZM176.50,112.90L176.50,112.30L176.60,112.30L176.70,112.30L176.80,112.30L176.90,112.30L177.00,112.30L177.10,112.30L177.20,112.30L177.30,112.30L177.40,112.30L177.50,112.30L177.50,112.90ZM179.50,112.90L179.50,112.20L179.60,112.20L179.70,112.20L179.80,112.20L179.90,112.20L180.00,112.20L180.10,112.20L180.20,112.20L180.30,112.20L180.40,112.20L180.50,112.20L180.50,112.90ZM182.50,112.90L182.50,112.10L182.60,112.10L182.70,112.10L182.80,112.10L182.90,112.10L183.00,112.10L183.10,112.10L183.20,112.10L183.30,112.10L183.40,112.10L183.50,112.10L183.50,112.90ZM185.80,112.90L185.80,112.10L185.90,112.10L186.00,112.10L186.10,112.10L186.20,112.10L186.30,112.10L186.40,112.10L186.50,112.10L186.60,112.10L186.70,112.10L186.80,112.10L186.80,112.90ZM200.50,112.90L200.50,112.40L200.60,112.40L200.70,112.40L200.80,112.40L200.90,112.40L201.00,112.40L201.10,112.40L201.20,112.40L201.30,112.40L201.40,112.40L201.50,112.40L201.50,112.90Z" fill="#4d1224" opacity="1.0"/>
<line x1="155.80" y1="132.70" x2="213.50" y2="132.70" stroke="#48a626" stroke-width="1.3" opacity="0.5"/>
<path d="M164.05,132.70L164.05,132.55L164.30,132.51L164.55,132.46L164.80,132.42L165.05,132.38L165.30,132.35L165.55,132.32L165.80,132.30L166.05,132.30L166.30,132.31L166.55,132.33L166.80,132.36L167.05,132.40L167.30,132.44L167.55,132.48L167.80,132.52L168.05,132.56L168.05,132.70ZM173.30,132.70L173.30,132.54L173.55,132.48L173.80,132.40L174.05,132.31L174.30,132.21L174.55,132.11L174.80,132.00L175.05,131.90L175.30,131.82L175.55,131.75L175.80,131.71L176.05,131.70L176.30,131.72L176.55,131.77L176.80,131.85L177.05,131.94L177.30,132.04L177.55,132.15L177.80,132.26L178.05,132.35L178.30,132.43L178.55,132.28L178.80,131.98L179.05,131.55L179.30,130.99L179.55,130.36L179.80,129.71L180.05,129.15L180.30,128.79L180.55,128.04L180.80,127.06L181.05,126.09L181.30,125.19L181.55,124.42L181.80,123.86L182.05,123.55L182.30,123.52L182.55,123.78L182.80,124.29L183.05,125.02L183.30,125.90L183.55,126.87L183.80,127.85L184.05,128.79L184.30,129.65L184.55,129.70L184.80,129.86L185.05,130.19L185.30,130.65L185.55,131.14L185.80,131.60L186.05,131.98L186.30,132.26L186.55,132.45L186.80,132.57L186.80,132.70ZM190.30,132.70L190.30,132.55L190.55,132.42L190.80,132.24L191.05,131.99L191.30,131.67L191.55,131.33L191.80,131.00L192.05,130.75L192.30,130.61L192.55,130.63L192.80,130.79L193.05,131.06L193.30,131.40L193.55,131.74L193.80,132.04L194.05,132.28L194.30,132.45L194.55,132.56L194.55,132.70ZM203.05,132.70L203.05,132.48L203.30,132.19L203.55,131.72L203.80,131.06L204.05,130.36L204.30,129.84L204.55,129.71L204.80,130.02L205.05,130.31L205.30,129.09L205.55,127.88L205.80,127.03L206.05,126.81L206.30,127.31L206.55,128.34L206.80,129.59L207.05,130.74L207.30,131.61L207.55,132.17L207.80,132.47L207.80,132.70ZM209.30,132.70L209.30,132.53L209.55,131.80L209.80,130.14L210.05,128.75L210.30,129.42L210.55,131.23L210.80,132.34L210.80,132.70Z" fill="#48a626" opacity="0.7"/>
<path d="M164.05,132.70L164.05,132.59L164.30,132.56L164.55,132.53L164.80,132.50L165.05,132.47L165.30,132.45L165.55,132.43L165.80,132.41L166.05,132.41L166.30,132.42L166.55,132.43L166.80,132.45L167.05,132.48L167.30,132.51L167.55,132.54L167.80,132.57L168.05,132.60L168.05,132.70ZM173.30,132.70L173.30,132.58L173.55,132.54L173.80,132.49L174.05,132.42L174.30,132.35L174.55,132.27L174.80,132.20L175.05,132.13L175.30,132.06L175.55,132.02L175.80,131.99L176.05,131.98L176.30,132.00L176.55,132.03L176.80,132.09L177.05,132.15L177.30,132.23L177.55,132.31L177.80,132.38L178.05,132.45L178.30,132.51L178.55,132.40L178.80,132.18L179.05,131.87L179.30,131.47L179.55,131.01L179.80,130.54L180.05,130.15L180.30,129.89L180.55,129.35L180.80,128.64L181.05,127.94L181.30,127.29L181.55,126.74L181.80,126.34L182.05,126.11L182.30,126.09L182.55,126.28L182.80,126.65L183.05,127.17L183.30,127.81L183.55,128.50L183.80,129.21L184.05,129.88L184.30,130.50L184.55,130.54L184.80,130.65L185.05,130.89L185.30,131.22L185.55,131.58L185.80,131.91L186.05,132.18L186.30,132.38L186.55,132.52L186.80,132.61L186.80,132.70ZM190.30,132.70L190.30,132.59L190.55,132.50L190.80,132.37L191.05,132.19L191.30,131.96L191.55,131.71L191.80,131.48L192.05,131.29L192.30,131.20L192.55,131.21L192.80,131.32L193.05,131.52L193.30,131.76L193.55,132.01L193.80,132.23L194.05,132.40L194.30,132.52L194.55,132.60L194.55,132.70ZM203.05,132.70L203.05,132.54L203.30,132.33L203.55,131.99L203.80,131.52L204.05,131.02L204.30,130.64L204.55,130.55L204.80,130.77L205.05,130.98L205.30,130.10L205.55,129.23L205.80,128.62L206.05,128.46L206.30,128.82L206.55,129.56L206.80,130.46L207.05,131.29L207.30,131.92L207.55,132.32L207.80,132.53L207.80,132.70ZM209.30,132.70L209.30,132.58L209.55,132.05L209.80,130.85L210.05,129.86L210.30,130.34L210.55,131.64L210.80,132.44L210.80,132.70Z" fill="#48a626" opacity="1"/>
<path d="M171.20,152.90L171.20,148.50L171.30,148.50L171.40,148.50L171.50,148.50L171.60,148.50L171.70,148.50L171.80,148.50L171.90,148.50L172.00,148.50L172.10,148.50L172.20,148.50L172.30,149.90L172.40,149.90L172.50,149.90L172.60,149.90L172.70,149.90L172.80,149.90L172.90,149.90L173.00,149.90L173.10,149.90L173.20,149.90L173.20,152.90ZM174.10,152.90L174.10,143.90L174.20,143.90L174.30,143.90L174.40,143.90L174.50,143.90L174.60,143.90L174.70,143.90L174.80,143.90L174.90,143.90L174.90,152.90ZM175.20,152.90L175.20,138.30L175.30,138.30L175.40,138.30L175.50,138.30L175.60,138.30L175.70,138.30L175.80,138.30L175.80,152.90ZM176.10,152.90L176.10,142.90L176.20,142.90L176.30,142.90L176.40,142.90L176.50,142.90L176.60,142.90L176.70,142.90L176.80,142.90L176.90,142.90L176.90,152.90ZM177.10,152.90L177.10,144.90L177.20,144.90L177.30,144.90L177.40,144.90L177.50,144.90L177.60,144.90L177.70,144.90L177.80,144.90L177.90,144.90L177.90,152.90ZM178.30,152.90L178.30,141.50L178.40,141.50L178.50,141.50L178.60,141.50L178.70,141.50L178.80,141.50L178.90,141.50L178.90,152.90ZM179.10,152.90L179.10,146.90L179.20,146.90L179.30,146.90L179.40,146.90L179.50,146.90L179.60,146.90L179.70,146.90L179.80,146.90L179.90,146.90L179.90,152.90ZM180.10,152.90L180.10,148.90L180.20,148.90L180.30,148.90L180.40,148.90L180.50,148.90L180.60,148.90L180.70,148.90L180.80,148.90L180.90,148.90L180.90,152.90ZM186.00,152.90L186.00,147.40L186.10,147.40L186.20,147.40L186.30,147.40L186.40,147.40L186.50,147.40L186.60,147.40L186.60,152.90ZM189.50,152.90L189.50,148.00L189.60,148.00L189.70,148.00L189.80,148.00L189.90,148.00L190.00,148.00L190.10,148.00L190.10,152.90Z" fill="#48a626" opacity="1.0"/>
<rect x="154.30" y="34.30" width="60.70" height="122.00" fill="none" stroke="#97aca2" stroke-width="1.3" rx="0" />
<line x1="223.80" y1="52.90" x2="281.60" y2="52.90" stroke="#1c3f78" stroke-width="1.3" opacity="0.5"/>
<path d="M225.30,52.90L225.30,52.75L225.55,52.56L225.80,52.36L226.05,52.30L226.30,52.43L226.55,52.64L226.55,52.90ZM233.05,52.90L233.05,52.70L233.30,52.59L233.55,52.49L233.80,52.42L234.05,52.40L234.30,52.44L234.55,52.53L234.80,52.64L235.05,52.73L235.05,52.90ZM238.30,52.90L238.30,52.73L238.55,52.66L238.80,52.58L239.05,52.50L239.30,52.42L239.55,52.35L239.80,52.31L240.05,52.30L240.30,52.32L240.55,52.38L240.80,52.45L241.05,52.53L241.30,52.62L241.55,52.69L241.80,52.76L241.80,52.90ZM243.80,52.90L243.80,52.71L244.05,52.58L244.30,52.41L244.55,52.25L244.80,52.13L245.05,52.10L245.30,52.17L245.55,52.31L245.80,52.48L246.05,52.63L246.30,52.75L246.30,52.90ZM248.55,52.90L248.55,52.78L248.80,52.66L249.05,52.49L249.30,52.29L249.55,52.08L249.80,51.94L250.05,51.90L250.30,51.99L250.55,52.16L250.80,52.37L251.05,52.57L251.30,52.72L251.30,52.90ZM256.55,52.90L256.55,52.66L256.80,52.31L257.05,51.74L257.30,51.01L257.55,50.36L257.80,50.10L258.05,50.36L258.30,51.01L258.55,51.74L258.80,52.31L259.05,52.23L259.30,52.10L259.55,51.99L259.80,51.92L260.05,51.90L260.30,51.94L260.55,52.03L260.80,52.15L261.05,52.29L261.30,52.43L261.55,52.56L261.80,52.66L262.05,52.75L262.05,52.90ZM264.80,52.90L264.80,52.74L265.05,52.16L265.30,50.79L265.55,49.24L265.80,49.06L266.05,50.45L266.30,50.98L266.55,50.90L266.80,51.07L267.05,51.42L267.30,51.85L267.55,52.24L267.80,52.53L268.05,52.72L268.05,52.90ZM268.55,52.90L268.55,52.70L268.80,52.28L269.05,51.53L269.30,50.75L269.55,50.52L269.80,51.03L270.05,51.86L270.30,52.49L270.30,52.90ZM271.30,52.90L271.30,52.26L271.55,50.25L271.80,46.99L272.05,45.79L272.30,48.28L272.55,51.27L272.80,50.98L273.05,50.90L273.30,51.07L273.55,51.42L273.80,51.85L274.05,52.24L274.30,52.53L274.55,52.72L274.80,52.66L275.05,52.49L275.30,52.29L275.55,52.08L275.80,51.94L276.05,51.90L276.30,51.99L276.55,52.16L276.80,52.37L277.05,52.57L277.30,52.72L277.30,52.90ZM278.80,52.90L278.80,52.71L279.05,52.58L279.30,52.41L279.55,52.25L279.80,52.13L280.05,52.10L280.30,52.17L280.55,52.31L280.80,52.48L281.05,52.63L281.30,52.75L281.30,52.90Z" fill="#1c3f78" opacity="0.7"/>
<path d="M225.30,52.90L225.30,52.79L225.55,52.65L225.80,52.51L226.05,52.47L226.30,52.56L226.55,52.71L226.55,52.90ZM233.05,52.90L233.05,52.75L233.30,52.68L233.55,52.61L233.80,52.55L234.05,52.54L234.30,52.57L234.55,52.63L234.80,52.71L235.05,52.78L235.05,52.90ZM238.30,52.90L238.30,52.78L238.55,52.73L238.80,52.67L239.05,52.61L239.30,52.55L239.55,52.51L239.80,52.48L240.05,52.47L240.30,52.48L240.55,52.52L240.80,52.57L241.05,52.64L241.30,52.70L241.55,52.75L241.80,52.80L241.80,52.90ZM243.80,52.90L243.80,52.76L244.05,52.67L244.30,52.55L244.55,52.43L244.80,52.35L245.05,52.33L245.30,52.37L245.55,52.47L245.80,52.60L246.05,52.71L246.30,52.79L246.30,52.90ZM248.55,52.90L248.55,52.81L248.80,52.73L249.05,52.61L249.30,52.46L249.55,52.31L249.80,52.21L250.05,52.18L250.30,52.24L250.55,52.37L250.80,52.52L251.05,52.66L251.30,52.77L251.30,52.90ZM256.55,52.90L256.55,52.72L256.80,52.48L257.05,52.06L257.30,51.54L257.55,51.07L257.80,50.88L258.05,51.07L258.30,51.54L258.55,52.06L258.80,52.48L259.05,52.42L259.30,52.32L259.55,52.24L259.80,52.19L260.05,52.18L260.30,52.21L260.55,52.27L260.80,52.36L261.05,52.46L261.30,52.56L261.55,52.65L261.80,52.73L262.05,52.79L262.05,52.90ZM264.80,52.90L264.80,52.79L265.05,52.37L265.30,51.38L265.55,50.27L265.80,50.13L266.05,51.14L266.30,51.52L266.55,51.46L266.80,51.58L267.05,51.84L267.30,52.14L267.55,52.42L267.80,52.63L268.05,52.77L268.05,52.90ZM268.55,52.90L268.55,52.76L268.80,52.46L269.05,51.92L269.30,51.35L269.55,51.18L269.80,51.55L270.05,52.15L270.30,52.61L270.30,52.90ZM271.30,52.90L271.30,52.44L271.55,50.99L271.80,48.65L272.05,47.78L272.30,49.58L272.55,51.72L272.80,51.52L273.05,51.46L273.30,51.58L273.55,51.84L273.80,52.14L274.05,52.42L274.30,52.63L274.55,52.77L274.80,52.73L275.05,52.61L275.30,52.46L275.55,52.31L275.80,52.21L276.05,52.18L276.30,52.24L276.55,52.37L276.80,52.52L277.05,52.66L277.30,52.77L277.30,52.90ZM278.80,52.90L278.80,52.76L279.05,52.67L279.30,52.55L279.55,52.43L279.80,52.35L280.05,52.33L280.30,52.37L280.55,52.47L280.80,52.60L281.05,52.71L281.30,52.79L281.30,52.90Z" fill="#1c3f78" opacity="1"/>
<path d="M230.90,73.20L230.90,72.40L231.00,72.40L231.10,72.40L231.20,72.40L231.30,72.40L231.40,72.40L231.50,72.40L231.60,72.40L231.70,72.40L231.80,72.40L231.90,72.40L231.90,73.20ZM239.80,73.20L239.80,72.40L239.90,72.40L240.00,72.40L240.10,72.40L240.20,72.40L240.30,72.40L240.40,72.40L240.50,72.40L240.60,72.40L240.70,72.40L240.80,72.40L240.80,73.20ZM243.60,73.20L243.60,72.40L243.70,72.40L243.80,72.40L243.90,72.40L244.00,72.40L244.10,72.40L244.20,72.40L244.30,72.40L244.40,72.40L244.50,72.40L244.60,72.40L244.60,73.20Z" fill="#1c3f78" opacity="1.0"/>
<line x1="223.80" y1="92.90" x2="281.60" y2="92.90" stroke="#4d1224" stroke-width="1.3" opacity="0.75"/>
<path d="M231.30,92.90L231.30,92.77L231.55,92.74L231.80,92.71L232.05,92.67L232.30,92.63L232.55,92.59L232.80,92.55L233.05,92.51L233.30,92.46L233.55,92.42L233.80,92.39L234.05,92.36L234.30,92.33L234.55,92.31L234.80,92.30L235.05,92.30L235.30,92.31L235.55,92.32L235.80,92.34L236.05,92.37L236.30,92.40L236.55,92.44L236.80,92.48L237.05,92.52L237.30,92.57L237.55,92.61L237.80,92.65L238.05,92.69L238.30,92.72L238.55,92.75L238.80,92.78L238.80,92.90ZM245.05,92.90L245.05,92.58L245.30,91.90L245.55,90.68L245.80,89.41L246.05,89.03L246.30,89.86L246.55,91.22L246.80,92.24L247.05,92.72L247.05,92.90ZM247.55,92.90L247.55,92.72L247.80,92.54L248.05,92.29L248.30,91.98L248.55,91.67L248.80,91.46L249.05,91.40L249.30,91.53L249.55,91.79L249.80,92.11L250.05,92.40L250.30,92.62L250.55,92.76L250.55,92.90ZM251.55,92.90L251.55,92.47L251.80,91.72L252.05,90.62L252.30,89.79L252.55,89.89L252.80,90.85L253.05,91.91L253.30,92.56L253.55,92.72L253.80,92.54L254.05,92.29L254.30,91.98L254.55,91.67L254.80,91.46L255.05,91.40L255.30,91.53L255.55,91.79L255.80,92.11L256.05,92.40L256.30,92.62L256.55,92.64L256.80,92.07L257.05,90.87L257.30,89.06L257.55,87.27L257.80,86.50L258.05,87.27L258.30,89.06L258.55,90.87L258.80,92.07L259.05,92.09L259.30,91.67L259.55,91.27L259.80,90.98L260.05,90.90L260.30,91.07L260.55,91.42L260.80,91.85L261.05,92.24L261.30,92.53L261.55,92.72L261.55,92.90ZM264.55,92.90L264.55,92.76L264.80,92.58L265.05,92.04L265.30,88.49L265.55,82.47L265.80,81.63L266.05,87.32L266.30,89.90L266.55,90.08L266.80,90.56L267.05,91.19L267.30,89.41L267.55,87.95L267.80,88.64L268.05,90.68L268.30,92.20L268.55,92.66L268.80,92.13L269.05,91.19L269.30,90.22L269.55,89.92L269.80,90.56L270.05,91.61L270.30,92.39L270.55,92.76L270.55,92.90ZM271.30,92.90L271.30,92.77L271.55,92.16L271.80,90.32L272.05,87.45L272.30,85.90L272.55,87.45L272.80,90.32L273.05,92.16L273.30,92.26L273.55,91.48L273.80,90.66L274.05,90.42L274.30,90.95L274.55,91.82L274.80,92.48L274.80,92.90ZM275.55,92.90L275.55,92.72L275.80,92.54L276.05,92.29L276.30,91.98L276.55,91.67L276.80,91.46L277.05,91.40L277.30,91.53L277.55,91.79L277.80,92.11L278.05,92.40L278.30,92.62L278.55,92.76L278.80,92.66L279.05,92.49L279.30,92.29L279.55,92.08L279.80,91.94L280.05,91.90L280.30,91.99L280.55,92.16L280.80,92.37L281.05,92.57L281.30,92.72L281.30,92.90Z" fill="#4d1224" opacity="0.7"/>
<path d="M231.30,92.90L231.30,92.81L231.55,92.78L231.80,92.76L232.05,92.74L232.30,92.71L232.55,92.68L232.80,92.65L233.05,92.62L233.30,92.59L233.55,92.56L233.80,92.53L234.05,92.51L234.30,92.49L234.55,92.48L234.80,92.47L235.05,92.47L235.30,92.47L235.55,92.48L235.80,92.50L236.05,92.52L236.30,92.54L236.55,92.57L236.80,92.60L237.05,92.63L237.30,92.66L237.55,92.69L237.80,92.72L238.05,92.75L238.30,92.77L238.55,92.79L238.80,92.81L238.80,92.90ZM245.05,92.90L245.05,92.67L245.30,92.18L245.55,91.30L245.80,90.39L246.05,90.11L246.30,90.71L246.55,91.69L246.80,92.43L247.05,92.77L247.05,92.90ZM247.55,92.90L247.55,92.77L247.80,92.64L248.05,92.46L248.30,92.24L248.55,92.02L248.80,91.86L249.05,91.82L249.30,91.91L249.55,92.10L249.80,92.33L250.05,92.54L250.30,92.70L250.55,92.80L250.55,92.90ZM251.55,92.90L251.55,92.59L251.80,92.05L252.05,91.26L252.30,90.66L252.55,90.74L252.80,91.42L253.05,92.19L253.30,92.66L253.55,92.77L253.80,92.64L254.05,92.46L254.30,92.24L254.55,92.02L254.80,91.86L255.05,91.82L255.30,91.91L255.55,92.10L255.80,92.33L256.05,92.54L256.30,92.70L256.55,92.71L256.80,92.30L257.05,91.44L257.30,90.13L257.55,88.84L257.80,88.29L258.05,88.84L258.30,90.13L258.55,91.44L258.80,92.30L259.05,92.32L259.30,92.02L259.55,91.72L259.80,91.52L260.05,91.46L260.30,91.58L260.55,91.84L260.80,92.14L261.05,92.42L261.30,92.63L261.55,92.77L261.55,92.90ZM264.55,92.90L264.55,92.80L264.80,92.67L265.05,92.28L265.30,89.72L265.55,85.39L265.80,84.78L266.05,88.88L266.30,90.74L266.55,90.87L266.80,91.22L267.05,91.67L267.30,90.39L267.55,89.34L267.80,89.83L268.05,91.30L268.30,92.39L268.55,92.72L268.80,92.35L269.05,91.67L269.30,90.97L269.55,90.75L269.80,91.22L270.05,91.97L270.30,92.53L270.55,92.80L270.55,92.90ZM271.30,92.90L271.30,92.81L271.55,92.37L271.80,91.05L272.05,88.97L272.30,87.86L272.55,88.97L272.80,91.05L273.05,92.37L273.30,92.44L273.55,91.87L273.80,91.29L274.05,91.11L274.30,91.50L274.55,92.12L274.80,92.60L274.80,92.90ZM275.55,92.90L275.55,92.77L275.80,92.64L276.05,92.46L276.30,92.24L276.55,92.02L276.80,91.86L277.05,91.82L277.30,91.91L277.55,92.10L277.80,92.33L278.05,92.54L278.30,92.70L278.55,92.80L278.80,92.73L279.05,92.61L279.30,92.46L279.55,92.31L279.80,92.21L280.05,92.18L280.30,92.24L280.55,92.37L280.80,92.52L281.05,92.66L281.30,92.77L281.30,92.90Z" fill="#4d1224" opacity="1"/>
<path d="M230.00,112.90L230.00,112.00L230.10,112.00L230.20,112.00L230.30,107.90L230.40,107.90L230.50,107.90L230.60,107.90L230.70,107.90L230.80,107.90L230.90,107.90L231.00,112.00L231.10,112.00L231.20,112.00L231.30,112.00L231.40,112.00L231.50,112.00L231.60,112.00L231.70,109.40L231.80,109.40L231.90,109.40L232.00,109.40L232.10,109.40L232.20,109.40L232.30,109.40L232.40,112.00L232.50,112.00L232.60,112.00L232.70,112.00L232.80,112.00L232.90,112.00L233.00,112.00L233.10,112.00L233.20,107.40L233.30,107.40L233.40,107.40L233.50,107.40L233.60,107.40L233.70,107.40L233.80,107.40L233.90,112.00L234.00,112.00L234.10,112.00L234.20,112.00L234.30,112.00L234.40,112.00L234.50,112.00L234.60,112.00L234.70,108.90L234.80,108.90L234.90,108.90L235.00,108.90L235.10,108.90L235.20,108.90L235.30,108.90L235.40,112.00L235.50,112.00L235.60,112.00L235.70,112.00L235.80,112.00L235.90,112.00L236.00,112.00L236.10,112.00L236.20,107.90L236.30,107.90L236.40,107.90L236.50,107.90L236.60,107.90L236.70,107.90L236.80,107.90L236.90,112.00L237.00,112.00L237.10,112.00L237.20,112.00L237.30,112.00L237.40,112.00L237.50,112.00L237.60,112.00L237.70,109.90L237.80,109.90L237.90,109.90L238.00,109.90L238.10,109.90L238.20,109.90L238.30,109.90L238.40,112.00L238.50,112.00L238.60,112.00L238.70,112.00L238.80,112.00L238.90,112.00L239.00,112.00L239.10,112.00L239.20,108.40L239.30,108.40L239.40,108.40L239.50,108.40L239.60,108.40L239.70,108.40L239.80,108.40L239.90,112.00L240.00,112.00L240.10,112.00L240.20,112.00L240.30,112.00L240.40,112.00L240.50,112.00L240.60,112.00L240.70,107.00L240.80,107.00L240.90,107.00L241.00,107.00L241.10,107.00L241.20,107.00L241.30,107.00L241.40,112.00L241.50,112.00L241.60,112.00L241.70,112.00L241.80,112.00L241.90,112.00L242.00,112.00L242.10,112.00L242.20,108.90L242.30,108.90L242.40,108.90L242.50,108.90L242.60,108.90L242.70,108.90L242.80,108.90L242.90,112.00L243.00,112.00L243.10,112.00L243.20,112.00L243.30,112.00L243.40,112.00L243.50,112.00L243.60,112.00L243.70,109.90L243.80,109.90L243.90,109.90L244.00,109.90L244.10,109.90L244.20,109.90L244.30,109.90L244.40,112.00L244.50,112.00L244.60,112.00L244.70,112.00L244.80,112.00L244.90,112.00L245.00,112.00L245.10,112.00L245.20,109.40L245.30,109.40L245.40,109.40L245.50,109.40L245.60,109.40L245.70,109.40L245.80,109.40L245.90,112.00L246.00,112.00L246.10,112.00L246.20,112.00L246.30,112.00L246.40,112.00L246.50,112.00L246.60,112.00L246.70,110.90L246.80,110.90L246.90,110.90L247.00,110.90L247.10,110.90L247.20,110.90L247.30,110.90L247.40,112.00L247.50,112.00L247.60,112.00L247.70,112.00L247.80,112.00L247.90,112.00L248.00,112.00L248.10,112.20L248.20,112.20L248.30,112.20L248.40,112.20L248.50,112.20L248.60,112.20L248.70,112.20L248.80,112.20L248.90,112.20L249.00,112.20L249.10,112.20L249.20,112.20L249.30,112.20L249.40,112.20L249.50,112.20L249.60,112.20L249.70,111.40L249.80,111.40L249.90,111.40L250.00,111.40L250.10,111.40L250.20,111.40L250.30,111.40L250.40,112.20L250.50,112.20L250.60,112.20L250.70,112.20L250.80,112.20L250.90,112.20L251.00,112.20L251.10,112.20L251.20,112.20L251.30,112.20L251.40,112.20L251.50,112.20L251.60,112.20L251.70,111.40L251.80,111.40L251.90,111.40L252.00,111.40L252.10,111.40L252.20,111.40L252.30,111.40L252.40,112.20L252.50,112.20L252.60,112.20L252.70,112.20L252.80,112.20L252.90,112.20L253.00,112.20L253.10,112.20L253.20,112.20L253.30,112.20L253.40,112.20L253.50,112.20L253.60,112.20L253.70,112.20L253.80,112.20L253.90,112.20L254.00,112.20L254.10,112.20L254.20,112.20L254.30,112.20L254.40,112.20L254.50,112.20L254.60,112.20L254.70,111.60L254.80,111.60L254.90,111.60L255.00,111.60L255.10,111.60L255.20,111.60L255.30,111.60L255.40,112.20L255.50,112.20L255.60,112.20L255.70,112.20L255.80,112.20L255.90,112.20L256.00,112.20L256.10,112.20L256.20,112.20L256.30,112.20L256.40,112.20L256.50,112.20L256.60,112.20L256.70,112.20L256.80,112.20L256.90,112.20L257.00,112.20L257.10,112.20L257.20,112.20L257.30,112.20L257.40,112.20L257.50,112.20L257.60,112.20L257.70,111.40L257.80,111.40L257.90,111.40L258.00,111.40L258.10,111.40L258.20,111.40L258.30,111.40L258.40,112.20L258.50,112.20L258.60,112.20L258.70,112.20L258.80,112.20L258.90,112.20L259.00,112.20L259.10,112.20L259.20,112.20L259.30,112.20L259.40,112.20L259.50,112.20L259.60,112.20L259.70,112.20L259.80,112.20L259.90,112.20L260.00,112.20L260.10,112.20L260.20,112.20L260.20,112.90ZM260.70,112.90L260.70,110.90L260.80,110.90L260.90,110.90L261.00,110.90L261.10,110.90L261.20,110.90L261.30,110.90L261.30,112.90ZM262.30,112.90L262.30,109.90L262.40,109.90L262.50,109.90L262.60,109.90L262.70,109.90L262.80,109.90L262.90,109.90L262.90,112.90ZM263.40,112.90L263.40,104.50L263.50,104.50L263.60,104.50L263.70,104.50L263.80,104.50L263.90,104.50L264.00,104.50L264.10,104.50L264.20,104.50L264.20,112.90ZM264.50,112.90L264.50,108.90L264.60,108.90L264.70,108.90L264.80,108.90L264.90,108.90L265.00,108.90L265.10,108.90L265.10,112.90ZM266.70,112.90L266.70,110.90L266.80,110.90L266.90,110.90L267.00,110.90L267.10,110.90L267.20,110.90L267.30,110.90L267.30,112.90ZM271.00,112.90L271.00,106.40L271.10,106.40L271.20,106.40L271.30,106.40L271.40,106.40L271.50,106.40L271.60,106.40L271.70,106.40L271.80,106.40L271.80,112.90ZM272.00,112.90L272.00,106.40L272.10,106.40L272.20,106.40L272.30,106.40L272.40,106.40L272.50,106.40L272.60,106.40L272.70,106.40L272.80,106.40L272.90,107.90L273.00,107.90L273.10,107.90L273.20,107.90L273.30,107.90L273.40,107.90L273.50,107.90L273.60,107.90L273.70,107.90L273.70,112.90Z" fill="#4d1224" opacity="1.0"/>
<line x1="223.80" y1="132.70" x2="281.60" y2="132.70" stroke="#48a626" stroke-width="1.3" opacity="0.5"/>
<path d="M226.05,132.70L226.05,132.57L226.30,132.51L226.55,132.43L226.80,132.33L227.05,132.23L227.30,132.14L227.55,132.06L227.80,132.01L228.05,132.00L228.30,132.03L228.55,132.09L228.80,132.17L229.05,132.27L229.30,132.37L229.55,132.46L229.80,132.53L229.80,132.70ZM232.80,132.70L232.80,132.55L233.05,132.51L233.30,132.46L233.55,132.40L233.80,132.35L234.05,132.30L234.30,132.26L234.55,132.22L234.80,132.20L235.05,132.20L235.30,132.21L235.55,132.24L235.80,132.27L236.05,132.32L236.30,132.37L236.55,132.43L236.80,132.48L237.05,132.53L237.30,132.57L237.55,132.52L237.80,132.46L238.05,132.39L238.30,132.31L238.55,132.23L238.80,132.14L239.05,132.06L239.30,131.99L239.55,131.94L239.80,131.91L240.05,131.90L240.30,131.92L240.55,131.96L240.80,132.02L241.05,132.09L241.30,132.18L241.55,132.26L241.80,132.34L242.05,132.42L242.30,132.49L242.55,132.54L242.55,132.70ZM243.80,132.70L243.80,132.49L244.05,132.21L244.30,131.77L244.55,131.24L244.80,130.82L245.05,130.71L245.30,130.96L245.55,131.45L245.80,131.96L246.05,132.22L246.30,131.60L246.55,130.72L246.80,129.94L247.05,129.72L247.30,130.20L247.55,131.08L247.80,131.89L248.05,132.38L248.05,132.70ZM248.80,132.70L248.80,132.44L249.05,132.09L249.30,131.54L249.55,130.88L249.80,130.35L250.05,130.21L250.30,130.53L250.55,131.14L250.80,131.78L251.05,132.25L251.30,132.51L251.55,132.15L251.80,131.41L252.05,130.38L252.30,129.47L252.55,129.22L252.80,129.79L253.05,130.81L253.30,131.75L253.55,132.33L253.80,132.44L254.05,132.09L254.30,131.54L254.55,130.88L254.80,130.35L255.05,130.21L255.30,130.53L255.55,131.14L255.80,131.78L256.05,132.25L256.30,132.52L256.30,132.70ZM256.80,132.70L256.80,132.52L257.05,131.69L257.30,129.17L257.55,125.22L257.80,123.10L258.05,125.22L258.30,129.17L258.55,128.50L258.80,127.70L259.05,128.50L259.30,130.20L259.55,130.88L259.80,130.35L260.05,130.21L260.30,130.53L260.55,131.14L260.80,131.78L261.05,132.21L261.30,131.77L261.55,131.24L261.80,130.82L262.05,130.71L262.30,130.96L262.55,131.45L262.80,131.96L263.05,132.34L263.30,132.56L263.30,132.70ZM264.80,132.70L264.80,132.41L265.05,130.30L265.30,123.64L265.55,117.05L265.80,120.32L266.05,128.17L266.30,127.70L266.55,128.17L266.80,129.32L267.05,130.62L267.30,127.76L267.55,125.09L267.80,126.38L268.05,129.87L268.30,131.67L268.55,130.42L268.80,129.12L269.05,128.73L269.30,129.58L269.55,130.97L269.80,131.67L270.05,130.42L270.30,129.12L270.55,128.73L270.80,129.58L271.05,130.97L271.30,131.80L271.55,129.85L271.80,127.25L272.05,126.36L272.30,128.23L272.55,130.79L272.80,132.21L273.05,131.97L273.30,131.30L273.55,130.51L273.80,129.88L274.05,129.71L274.30,130.09L274.55,130.83L274.80,131.60L275.05,132.09L275.30,131.78L275.55,131.47L275.80,131.26L276.05,131.20L276.30,131.33L276.55,131.59L276.80,131.91L277.05,132.20L277.30,132.09L277.55,131.88L277.80,131.74L278.05,131.70L278.30,131.79L278.55,131.96L278.80,132.17L279.05,132.37L279.30,132.52L279.30,132.70Z" fill="#48a626" opacity="0.7"/>
<path d="M226.05,132.70L226.05,132.61L226.30,132.56L226.55,132.50L226.80,132.43L227.05,132.36L227.30,132.29L227.55,132.24L227.80,132.20L228.05,132.20L228.30,132.22L228.55,132.26L228.80,132.32L229.05,132.39L229.30,132.46L229.55,132.53L229.80,132.58L229.80,132.70ZM232.80,132.70L232.80,132.59L233.05,132.56L233.30,132.53L233.55,132.49L233.80,132.45L234.05,132.41L234.30,132.38L234.55,132.36L234.80,132.34L235.05,132.34L235.30,132.35L235.55,132.37L235.80,132.39L236.05,132.43L236.30,132.46L236.55,132.50L236.80,132.54L237.05,132.57L237.30,132.60L237.55,132.57L237.80,132.53L238.05,132.48L238.30,132.42L238.55,132.36L238.80,132.30L239.05,132.24L239.30,132.19L239.55,132.15L239.80,132.13L240.05,132.12L240.30,132.14L240.55,132.17L240.80,132.21L241.05,132.26L241.30,132.32L241.55,132.38L241.80,132.44L242.05,132.50L242.30,132.55L242.55,132.59L242.55,132.70ZM243.80,132.70L243.80,132.55L244.05,132.35L244.30,132.03L244.55,131.65L244.80,131.35L245.05,131.27L245.30,131.45L245.55,131.80L245.80,132.17L246.05,132.36L246.30,131.91L246.55,131.27L246.80,130.71L247.05,130.55L247.30,130.90L247.55,131.53L247.80,132.11L248.05,132.47L248.05,132.70ZM248.80,132.70L248.80,132.51L249.05,132.26L249.30,131.86L249.55,131.39L249.80,131.01L250.05,130.91L250.30,131.14L250.55,131.58L250.80,132.04L251.05,132.38L251.30,132.57L251.55,132.30L251.80,131.77L252.05,131.03L252.30,130.38L252.55,130.19L252.80,130.60L253.05,131.34L253.30,132.02L253.55,132.43L253.80,132.51L254.05,132.26L254.30,131.86L254.55,131.39L254.80,131.01L255.05,130.91L255.30,131.14L255.55,131.58L255.80,132.04L256.05,132.38L256.30,132.57L256.30,132.70ZM256.80,132.70L256.80,132.57L257.05,131.97L257.30,130.16L257.55,127.32L257.80,125.79L258.05,127.32L258.30,130.16L258.55,129.67L258.80,129.10L259.05,129.67L259.30,130.90L259.55,131.39L259.80,131.01L260.05,130.91L260.30,131.14L260.55,131.58L260.80,132.04L261.05,132.35L261.30,132.03L261.55,131.65L261.80,131.35L262.05,131.27L262.30,131.45L262.55,131.80L262.80,132.17L263.05,132.44L263.30,132.60L263.30,132.70ZM264.80,132.70L264.80,132.49L265.05,130.97L265.30,126.18L265.55,121.43L265.80,123.78L266.05,129.43L266.30,129.10L266.55,129.43L266.80,130.26L267.05,131.21L267.30,129.15L267.55,127.22L267.80,128.15L268.05,130.66L268.30,131.96L268.55,131.06L268.80,130.12L269.05,129.84L269.30,130.46L269.55,131.46L269.80,131.96L270.05,131.06L270.30,130.12L270.55,129.84L270.80,130.46L271.05,131.46L271.30,132.05L271.55,130.65L271.80,128.77L272.05,128.14L272.30,129.49L272.55,131.33L272.80,132.34L273.05,132.17L273.30,131.70L273.55,131.13L273.80,130.67L274.05,130.55L274.30,130.82L274.55,131.35L274.80,131.91L275.05,132.26L275.30,132.04L275.55,131.82L275.80,131.66L276.05,131.62L276.30,131.71L276.55,131.90L276.80,132.13L277.05,132.34L277.30,132.26L277.55,132.11L277.80,132.01L278.05,131.98L278.30,132.04L278.55,132.17L278.80,132.32L279.05,132.46L279.30,132.57L279.30,132.70Z" fill="#48a626" opacity="1"/>
<path d="M234.80,152.90L234.80,147.20L234.90,147.20L235.00,147.20L235.10,147.20L235.20,147.20L235.30,147.20L235.40,147.20L235.50,147.20L235.60,147.20L235.60,152.90ZM241.10,152.90L241.10,140.00L241.20,140.00L241.30,140.00L241.40,140.00L241.50,140.00L241.60,140.00L241.70,140.00L241.80,140.00L241.90,140.00L242.00,140.00L242.10,140.00L242.10,152.90ZM244.30,152.90L244.30,140.40L244.40,140.40L244.50,140.40L244.60,140.40L244.70,140.40L244.80,140.40L244.90,140.40L245.00,140.40L245.10,140.40L245.20,140.40L245.30,140.40L245.40,140.40L245.50,140.40L245.60,140.40L245.70,140.40L245.80,140.40L245.90,140.40L245.90,152.90ZM253.10,152.90L253.10,147.20L253.20,147.20L253.30,147.20L253.40,147.20L253.50,147.20L253.60,147.20L253.70,147.20L253.80,147.20L253.90,147.20L254.00,147.20L254.10,147.20L254.10,152.90ZM262.60,152.90L262.60,148.30L262.70,148.30L262.80,148.30L262.90,148.30L263.00,148.30L263.10,148.30L263.20,148.30L263.30,148.30L263.40,148.30L263.50,148.30L263.60,148.30L263.60,152.90Z" fill="#48a626" opacity="1.0"/>
<rect x="222.30" y="34.30" width="60.80" height="122.00" fill="none" stroke="#97aca2" stroke-width="1.3" rx="0" />
<line x1="291.50" y1="52.90" x2="349.60" y2="52.90" stroke="#1c3f78" stroke-width="1.3" opacity="0.5"/>
<path d="M294.75,52.90L294.75,52.77L295.00,52.68L295.25,52.56L295.50,52.43L295.75,52.34L296.00,52.30L296.25,52.34L296.50,52.43L296.75,52.56L297.00,52.68L297.25,52.77L297.25,52.90ZM299.25,52.90L299.25,52.74L299.50,52.51L299.75,52.04L300.00,51.24L300.25,50.06L300.50,48.61L300.75,47.18L301.00,46.17L301.25,45.92L301.50,46.50L301.75,44.33L302.00,42.43L302.25,41.93L302.50,43.06L302.75,45.33L303.00,47.15L303.25,46.09L303.50,45.99L303.75,46.88L304.00,48.41L304.25,50.03L304.50,49.90L304.75,50.18L305.00,50.87L305.25,51.65L305.50,52.27L305.75,52.64L305.75,52.90ZM310.75,52.90L310.75,52.75L311.00,52.64L311.25,52.50L311.50,52.35L311.75,52.24L312.00,52.20L312.25,52.24L312.50,52.35L312.75,52.50L313.00,52.64L313.25,52.75L313.25,52.90ZM314.75,52.90L314.75,52.75L315.00,52.64L315.25,52.50L315.50,52.35L315.75,52.24L316.00,52.20L316.25,52.24L316.50,52.35L316.75,52.50L317.00,52.64L317.25,52.75L317.25,52.90ZM318.75,52.90L318.75,52.77L319.00,52.68L319.25,52.56L319.50,52.43L319.75,52.34L320.00,52.30L320.25,52.34L320.50,52.43L320.75,52.56L321.00,52.68L321.25,52.77L321.25,52.90ZM325.50,52.90L325.50,52.75L325.75,52.64L326.00,52.48L326.25,52.25L326.50,51.97L326.75,51.65L327.00,51.31L327.25,51.01L327.50,50.80L327.75,50.70L328.00,47.38L328.25,41.63L328.50,44.60L328.75,50.18L329.00,49.90L329.25,50.18L329.50,50.87L329.75,51.65L330.00,52.27L330.25,52.64L330.25,52.90ZM332.00,52.90L332.00,52.73L332.25,52.57L332.50,52.36L332.75,52.17L333.00,52.10L333.25,52.17L333.50,52.36L333.75,52.57L334.00,52.59L334.25,52.28L334.50,51.89L334.75,51.54L335.00,51.40L335.25,51.54L335.50,51.89L335.75,52.28L336.00,52.59L336.25,52.77L336.25,52.90ZM338.00,52.90L338.00,52.74L338.25,52.47L338.50,51.94L338.75,51.14L339.00,50.25L339.25,49.62L339.50,49.55L339.75,50.09L340.00,50.96L340.25,51.02L340.50,50.90L340.75,51.02L341.00,51.34L341.25,51.76L341.50,52.16L341.75,52.48L342.00,52.69L342.00,52.90ZM344.00,52.90L344.00,52.72L344.25,52.62L344.50,52.51L344.75,52.43L345.00,52.40L345.25,52.43L345.50,52.51L345.75,52.62L346.00,52.72L346.00,52.90Z" fill="#1c3f78" opacity="0.7"/>
<path d="M294.75,52.90L294.75,52.81L295.00,52.74L295.25,52.65L295.50,52.56L295.75,52.49L296.00,52.47L296.25,52.49L296.50,52.56L296.75,52.65L297.00,52.74L297.25,52.81L297.25,52.90ZM299.25,52.90L299.25,52.79L299.50,52.62L299.75,52.28L300.00,51.71L300.25,50.86L300.50,49.81L300.75,48.78L301.00,48.06L301.25,47.87L301.50,48.29L301.75,46.73L302.00,45.36L302.25,45.00L302.50,45.81L302.75,47.45L303.00,48.76L303.25,48.00L303.50,47.92L303.75,48.57L304.00,49.67L304.25,50.83L304.50,50.74L304.75,50.94L305.00,51.44L305.25,52.00L305.50,52.45L305.75,52.71L305.75,52.90ZM310.75,52.90L310.75,52.79L311.00,52.71L311.25,52.61L311.50,52.51L311.75,52.43L312.00,52.40L312.25,52.43L312.50,52.51L312.75,52.61L313.00,52.71L313.25,52.79L313.25,52.90ZM314.75,52.90L314.75,52.79L315.00,52.71L315.25,52.61L315.50,52.51L315.75,52.43L316.00,52.40L316.25,52.43L316.50,52.51L316.75,52.61L317.00,52.71L317.25,52.79L317.25,52.90ZM318.75,52.90L318.75,52.81L319.00,52.74L319.25,52.65L319.50,52.56L319.75,52.49L320.00,52.47L320.25,52.49L320.50,52.56L320.75,52.65L321.00,52.74L321.25,52.81L321.25,52.90ZM325.50,52.90L325.50,52.79L325.75,52.71L326.00,52.60L326.25,52.44L326.50,52.23L326.75,52.00L327.00,51.76L327.25,51.54L327.50,51.39L327.75,51.32L328.00,48.93L328.25,44.79L328.50,46.93L328.75,50.94L329.00,50.74L329.25,50.94L329.50,51.44L329.75,52.00L330.00,52.45L330.25,52.71L330.25,52.90ZM332.00,52.90L332.00,52.78L332.25,52.66L332.50,52.51L332.75,52.38L333.00,52.32L333.25,52.38L333.50,52.51L333.75,52.66L334.00,52.67L334.25,52.45L334.50,52.17L334.75,51.92L335.00,51.82L335.25,51.92L335.50,52.17L335.75,52.45L336.00,52.67L336.25,52.81L336.25,52.90ZM338.00,52.90L338.00,52.79L338.25,52.59L338.50,52.21L338.75,51.63L339.00,50.99L339.25,50.54L339.50,50.49L339.75,50.88L340.00,51.51L340.25,51.55L340.50,51.46L340.75,51.55L341.00,51.78L341.25,52.08L341.50,52.37L341.75,52.60L342.00,52.75L342.00,52.90ZM344.00,52.90L344.00,52.77L344.25,52.69L344.50,52.62L344.75,52.56L345.00,52.54L345.25,52.56L345.50,52.62L345.75,52.69L346.00,52.77L346.00,52.90Z" fill="#1c3f78" opacity="1"/>
<path d="M298.80,73.20L298.80,71.70L298.90,71.70L299.00,71.70L299.10,71.70L299.20,71.70L299.30,71.70L299.40,71.70L299.50,71.70L299.60,71.70L299.60,73.20ZM311.80,73.20L311.80,64.40L311.90,64.40L312.00,64.40L312.10,64.40L312.20,64.40L312.30,64.40L312.40,64.40L312.40,73.20ZM316.90,73.20L316.90,66.30L317.00,66.30L317.10,66.30L317.20,66.30L317.30,66.30L317.40,66.30L317.50,66.30L317.50,73.20ZM326.50,73.20L326.50,65.20L326.60,65.20L326.70,65.20L326.80,65.20L326.90,65.20L327.00,65.20L327.10,65.20L327.20,65.20L327.30,65.20L327.40,65.20L327.50,65.20L327.60,65.20L327.70,65.20L327.70,73.20ZM346.60,73.20L346.60,72.20L346.70,72.20L346.80,72.20L346.90,72.20L347.00,72.20L347.10,72.20L347.20,72.20L347.30,72.20L347.40,72.20L347.40,73.20Z" fill="#1c3f78" opacity="1.0"/>
<line x1="291.50" y1="92.90" x2="349.60" y2="92.90" stroke="#4d1224" stroke-width="1.3" opacity="0.5"/>
<path d="M300.25,92.90L300.25,92.72L300.50,92.59L300.75,92.39L301.00,92.15L301.25,91.89L301.50,91.64L301.75,91.46L302.00,91.40L302.25,91.46L302.50,91.64L302.75,91.89L303.00,92.15L303.25,92.39L303.50,92.59L303.75,92.72L303.75,92.90ZM311.00,92.90L311.00,92.72L311.25,92.62L311.50,92.51L311.75,92.43L312.00,92.40L312.25,92.43L312.50,92.51L312.75,92.62L313.00,92.72L313.00,92.90ZM319.00,92.90L319.00,92.72L319.25,92.62L319.50,92.51L319.75,92.43L320.00,92.40L320.25,92.43L320.50,92.51L320.75,92.62L321.00,92.72L321.00,92.90ZM327.25,92.90L327.25,92.69L327.50,92.16L327.75,91.34L328.00,90.90L328.25,91.34L328.50,92.16L328.75,92.69L328.75,92.90ZM333.75,92.90L333.75,92.73L334.00,92.61L334.25,92.44L334.50,92.28L334.75,92.15L335.00,92.10L335.25,92.15L335.50,92.28L335.75,92.44L336.00,92.61L336.25,92.73L336.25,92.90ZM338.25,92.90L338.25,92.71L338.50,92.48L338.75,92.12L339.00,91.73L339.25,91.45L339.50,91.42L339.75,91.66L340.00,92.05L340.25,92.41L340.50,92.67L340.50,92.90Z" fill="#4d1224" opacity="0.7"/>
<path d="M300.25,92.90L300.25,92.77L300.50,92.67L300.75,92.54L301.00,92.36L301.25,92.17L301.50,91.99L301.75,91.87L302.00,91.82L302.25,91.87L302.50,91.99L302.75,92.17L303.00,92.36L303.25,92.54L303.50,92.67L303.75,92.77L303.75,92.90ZM311.00,92.90L311.00,92.77L311.25,92.69L311.50,92.62L311.75,92.56L312.00,92.54L312.25,92.56L312.50,92.62L312.75,92.69L313.00,92.77L313.00,92.90ZM319.00,92.90L319.00,92.77L319.25,92.69L319.50,92.62L319.75,92.56L320.00,92.54L320.25,92.56L320.50,92.62L320.75,92.69L321.00,92.77L321.00,92.90ZM327.25,92.90L327.25,92.75L327.50,92.37L327.75,91.78L328.00,91.46L328.25,91.78L328.50,92.37L328.75,92.75L328.75,92.90ZM333.75,92.90L333.75,92.78L334.00,92.69L334.25,92.57L334.50,92.45L334.75,92.36L335.00,92.32L335.25,92.36L335.50,92.45L335.75,92.57L336.00,92.69L336.25,92.78L336.25,92.90ZM338.25,92.90L338.25,92.76L338.50,92.60L338.75,92.34L339.00,92.06L339.25,91.86L339.50,91.84L339.75,92.01L340.00,92.28L340.25,92.55L340.50,92.74L340.50,92.90Z" fill="#4d1224" opacity="1"/>
<path d="M303.90,112.90L303.90,108.90L304.00,108.90L304.10,108.90L304.20,108.90L304.30,108.90L304.40,108.90L304.50,108.90L304.60,108.90L304.70,108.90L304.70,112.90ZM304.90,112.90L304.90,104.50L305.00,104.50L305.10,104.50L305.20,104.50L305.30,104.50L305.40,104.50L305.50,104.50L305.60,104.50L305.70,104.50L305.70,112.90ZM305.90,112.90L305.90,107.90L306.00,107.90L306.10,107.90L306.20,107.90L306.30,107.90L306.40,107.90L306.50,107.90L306.60,107.90L306.70,107.90L306.70,112.90ZM306.90,112.90L306.90,106.90L307.00,106.90L307.10,106.90L307.20,106.90L307.30,106.90L307.40,106.90L307.50,106.90L307.60,106.90L307.70,106.90L307.70,112.90ZM308.10,112.90L308.10,109.90L308.20,109.90L308.30,109.90L308.40,109.90L308.50,109.90L308.60,109.90L308.70,109.90L308.80,109.90L308.90,109.90L308.90,112.90ZM312.30,112.90L312.30,107.90L312.40,107.90L312.50,107.90L312.60,107.90L312.70,107.90L312.80,107.90L312.90,107.90L313.00,107.90L313.10,107.90L313.10,112.90ZM317.40,112.90L317.40,110.90L317.50,110.90L317.60,110.90L317.70,110.90L317.80,110.90L317.90,110.90L318.00,110.90L318.10,110.90L318.20,110.90L318.20,112.90ZM321.20,112.90L321.20,111.40L321.30,111.40L321.40,111.40L321.50,111.40L321.60,111.40L321.70,111.40L321.80,111.40L321.90,111.40L322.00,111.40L322.00,112.90ZM326.30,112.90L326.30,107.40L326.40,107.40L326.50,107.40L326.60,107.40L326.70,107.40L326.80,107.40L326.90,107.40L327.00,107.40L327.10,107.40L327.10,112.90Z" fill="#4d1224" opacity="1.0"/>
<line x1="291.50" y1="132.70" x2="349.60" y2="132.70" stroke="#48a626" stroke-width="1.3" opacity="0.5"/>
<path d="M300.25,132.70L300.25,132.52L300.50,132.39L300.75,132.19L301.00,131.95L301.25,131.69L301.50,131.44L301.75,131.26L302.00,131.20L302.25,131.26L302.50,131.44L302.75,131.69L303.00,131.95L303.25,132.19L303.50,132.39L303.75,132.52L303.75,132.70ZM311.50,132.70L311.50,132.18L311.75,131.01L312.00,130.20L312.25,131.01L312.50,131.92L312.75,131.76L313.00,131.70L313.25,131.76L313.50,131.92L313.75,132.13L314.00,132.33L314.25,132.49L314.25,132.70ZM327.25,132.70L327.25,132.28L327.50,131.23L327.75,129.58L328.00,128.70L328.25,129.58L328.50,131.23L328.75,132.28L328.75,132.70ZM333.75,132.70L333.75,132.49L334.00,132.33L334.25,132.13L334.50,131.92L334.75,131.76L335.00,131.70L335.25,131.76L335.50,131.92L335.75,132.13L336.00,132.33L336.25,132.49L336.50,132.54L336.75,132.39L337.00,132.15L337.25,131.85L337.50,131.53L337.75,131.29L338.00,131.20L338.25,131.29L338.50,131.53L338.75,131.85L339.00,131.92L339.25,129.12L339.50,128.58L339.75,131.52L340.00,132.15L340.25,131.85L340.50,131.53L340.75,131.29L341.00,131.20L341.25,131.29L341.50,131.53L341.75,131.85L342.00,132.15L342.25,132.39L342.50,132.54L342.50,132.70Z" fill="#48a626" opacity="0.7"/>
<path d="M300.25,132.70L300.25,132.57L300.50,132.47L300.75,132.34L301.00,132.16L301.25,131.97L301.50,131.79L301.75,131.67L302.00,131.62L302.25,131.67L302.50,131.79L302.75,131.97L303.00,132.16L303.25,132.34L303.50,132.47L303.75,132.57L303.75,132.70ZM311.50,132.70L311.50,132.32L311.75,131.48L312.00,130.90L312.25,131.48L312.50,132.14L312.75,132.02L313.00,131.98L313.25,132.02L313.50,132.14L313.75,132.29L314.00,132.44L314.25,132.55L314.25,132.70ZM327.25,132.70L327.25,132.40L327.50,131.64L327.75,130.46L328.00,129.82L328.25,130.46L328.50,131.64L328.75,132.40L328.75,132.70ZM333.75,132.70L333.75,132.55L334.00,132.44L334.25,132.29L334.50,132.14L334.75,132.02L335.00,131.98L335.25,132.02L335.50,132.14L335.75,132.29L336.00,132.44L336.25,132.55L336.50,132.59L336.75,132.47L337.00,132.30L337.25,132.08L337.50,131.86L337.75,131.69L338.00,131.62L338.25,131.69L338.50,131.86L338.75,132.08L339.00,132.14L339.25,130.12L339.50,129.74L339.75,131.85L340.00,132.30L340.25,132.08L340.50,131.86L340.75,131.69L341.00,131.62L341.25,131.69L341.50,131.86L341.75,132.08L342.00,132.30L342.25,132.47L342.50,132.59L342.50,132.70Z" fill="#48a626" opacity="1"/>
<path d="M312.00,152.90L312.00,151.60L312.10,151.60L312.20,151.60L312.30,151.60L312.40,151.60L312.50,151.60L312.60,151.60L312.70,151.60L312.80,151.60L312.90,151.60L313.00,151.60L313.10,151.60L313.20,151.60L313.30,151.60L313.40,151.60L313.40,152.90Z" fill="#48a626" opacity="1.0"/>
<rect x="290.00" y="34.30" width="61.10" height="122.00" fill="none" stroke="#97aca2" stroke-width="1.3" rx="0" />
<line x1="359.80" y1="52.90" x2="418.10" y2="52.90" stroke="#1c3f78" stroke-width="1.3" opacity="0.25"/>
<path d="M401.50,52.90L401.50,44.60L401.60,44.60L401.70,44.60L401.80,44.60L401.90,44.60L402.00,44.60L402.10,44.60L402.20,44.60L402.30,44.60L402.40,44.60L402.50,44.60L402.50,52.90Z" fill="#1c3f78" opacity="0.5"/>
<path d="M401.50,73.20L401.50,70.40L401.60,70.40L401.70,70.40L401.80,70.40L401.90,70.40L402.00,70.40L402.10,70.40L402.20,70.40L402.30,70.40L402.40,70.40L402.50,70.40L402.50,73.20Z" fill="#1c3f78" opacity="1.0"/>
<line x1="359.80" y1="92.90" x2="418.10" y2="92.90" stroke="#4d1224" stroke-width="1.3" opacity="0.25"/>
<path d="M384.50,112.90L384.50,112.30L384.60,112.30L384.70,112.30L384.80,112.30L384.90,112.30L385.00,112.30L385.10,112.30L385.20,112.30L385.30,112.30L385.40,112.30L385.50,112.30L385.50,112.90ZM391.50,112.90L391.50,112.30L391.60,112.30L391.70,112.30L391.80,112.30L391.90,112.30L392.00,112.30L392.10,112.30L392.20,112.30L392.30,112.30L392.40,112.30L392.50,112.30L392.50,112.90ZM402.50,112.90L402.50,112.10L402.60,112.10L402.70,112.10L402.80,112.10L402.90,112.10L403.00,112.10L403.10,112.10L403.20,112.10L403.30,112.10L403.40,112.10L403.50,112.10L403.50,112.90ZM404.00,112.90L404.00,112.30L404.10,112.30L404.20,112.30L404.30,112.30L404.40,112.30L404.50,112.30L404.60,112.30L404.70,112.30L404.80,112.30L404.90,112.30L405.00,112.30L405.00,112.90Z" fill="#4d1224" opacity="1.0"/>
<line x1="359.80" y1="132.70" x2="418.10" y2="132.70" stroke="#48a626" stroke-width="1.3" opacity="0.32"/>
<path d="M366.55,132.70L366.55,132.54L366.80,131.95L367.05,130.18L367.30,126.71L367.55,122.61L367.80,120.70L368.05,122.61L368.30,117.76L368.55,118.89L368.80,125.01L369.05,121.43L369.30,121.03L369.55,124.16L369.80,126.29L370.05,123.31L370.30,122.97L370.55,125.58L370.80,129.02L371.05,131.36L371.30,130.42L371.55,129.40L371.80,128.76L372.05,128.84L372.30,129.58L372.55,130.63L372.80,129.54L373.05,127.22L373.30,126.94L373.55,129.02L373.80,130.52L374.05,127.06L374.30,123.86L374.55,124.29L374.80,127.85L375.05,127.75L375.30,129.21L375.55,131.21L375.80,132.23L376.05,131.97L376.30,131.76L376.55,131.70L376.80,131.83L377.05,132.08L377.30,132.33L377.55,132.52L377.80,132.51L378.05,132.38L378.30,132.21L378.55,132.05L378.80,131.93L379.05,131.90L379.30,131.97L379.55,132.11L379.80,132.28L380.05,132.43L380.30,132.55L380.30,132.70ZM401.55,132.70L401.55,131.59L401.80,128.52L402.05,127.02L402.30,129.92L402.55,132.21L402.55,132.70Z" fill="#48a626" opacity="0.7"/>
<path d="M366.55,132.70L366.55,132.59L366.80,132.16L367.05,130.89L367.30,128.39L367.55,125.44L367.80,124.06L368.05,125.44L368.30,121.95L368.55,122.75L368.80,127.16L369.05,124.58L369.30,124.30L369.55,126.55L369.80,128.08L370.05,125.94L370.30,125.70L370.55,127.58L370.80,130.05L371.05,131.73L371.30,131.06L371.55,130.32L371.80,129.86L372.05,129.92L372.30,130.46L372.55,131.21L372.80,130.42L373.05,128.75L373.30,128.55L373.55,130.05L373.80,131.13L374.05,128.64L374.30,126.34L374.55,126.65L374.80,129.21L375.05,129.14L375.30,130.19L375.55,131.63L375.80,132.37L376.05,132.18L376.30,132.02L376.55,131.98L376.80,132.07L377.05,132.25L377.30,132.44L377.55,132.57L377.80,132.56L378.05,132.47L378.30,132.35L378.55,132.23L378.80,132.15L379.05,132.13L379.30,132.17L379.55,132.27L379.80,132.40L380.05,132.51L380.30,132.59L380.30,132.70ZM401.55,132.70L401.55,131.90L401.80,129.69L402.05,128.61L402.30,130.70L402.55,132.35L402.55,132.70Z" fill="#48a626" opacity="1"/>
<path d="M369.80,152.90L369.80,150.40L369.90,150.40L370.00,150.40L370.10,150.40L370.20,150.40L370.30,150.40L370.40,150.40L370.50,150.40L370.60,150.40L370.70,150.40L370.80,150.40L370.80,152.90ZM385.10,152.90L385.10,146.90L385.20,146.90L385.30,146.90L385.40,146.90L385.50,146.90L385.60,138.10L385.70,138.10L385.80,138.10L385.90,138.10L386.00,138.10L386.10,147.90L386.20,147.90L386.30,147.90L386.40,147.90L386.50,147.90L386.60,147.90L386.70,147.90L386.80,147.90L386.80,152.90ZM388.30,152.90L388.30,150.60L388.40,150.60L388.50,150.60L388.60,150.60L388.70,150.60L388.80,150.60L388.90,150.60L389.00,150.60L389.10,150.60L389.10,152.90ZM391.80,152.90L391.80,150.60L391.90,150.60L392.00,150.60L392.10,150.60L392.20,150.60L392.30,150.60L392.40,150.60L392.50,150.60L392.60,150.60L392.60,152.90ZM402.10,152.90L402.10,141.30L402.20,141.30L402.30,141.30L402.40,141.30L402.50,141.30L402.60,150.90L402.70,150.90L402.80,150.90L402.90,150.90L403.00,151.40L403.10,151.40L403.20,151.40L403.30,151.40L403.40,151.40L403.50,151.40L403.60,151.40L403.70,151.40L403.80,151.40L403.90,151.40L404.00,151.40L404.00,152.90ZM404.20,152.90L404.20,151.40L404.30,151.40L404.40,151.40L404.50,151.40L404.60,151.40L404.70,151.40L404.80,151.40L404.90,151.40L405.00,151.40L405.10,151.40L405.20,151.40L405.20,152.90Z" fill="#48a626" opacity="1.0"/>
<rect x="358.30" y="34.30" width="61.30" height="122.00" fill="none" stroke="#97aca2" stroke-width="1.3" rx="0" />
<line x1="427.60" y1="52.90" x2="485.70" y2="52.90" stroke="#1c3f78" stroke-width="1.3" opacity="0.25"/>
<path d="M448.00,73.20L448.00,72.60L448.10,72.60L448.20,72.60L448.30,72.60L448.40,72.60L448.50,72.60L448.60,72.60L448.70,72.60L448.80,72.60L448.90,72.60L449.00,72.60L449.10,72.60L449.20,72.60L449.30,72.60L449.40,72.60L449.50,72.60L449.60,72.60L449.70,72.60L449.80,72.60L449.90,72.60L450.00,72.60L450.00,73.20ZM454.00,73.20L454.00,72.60L454.10,72.60L454.20,72.60L454.30,72.60L454.40,72.60L454.50,72.60L454.60,72.60L454.70,72.60L454.80,72.60L454.90,72.60L455.00,72.60L455.10,72.60L455.20,72.60L455.30,72.60L455.40,72.60L455.50,72.60L455.60,72.60L455.70,72.60L455.80,72.60L455.90,72.60L456.00,72.60L456.00,73.20ZM461.00,73.20L461.00,72.40L461.10,72.40L461.20,72.40L461.30,72.40L461.40,72.40L461.50,72.40L461.60,72.40L461.70,72.40L461.80,72.40L461.90,72.40L462.00,72.40L462.10,72.40L462.20,72.40L462.30,72.40L462.40,72.40L462.50,72.40L462.60,72.40L462.70,72.40L462.80,72.40L462.90,72.40L463.00,72.40L463.00,73.20Z" fill="#1c3f78" opacity="1.0"/>
<line x1="427.60" y1="92.90" x2="485.70" y2="92.90" stroke="#4d1224" stroke-width="1.3" opacity="0.25"/>
<path d="M455.50,112.90L455.50,112.50L455.60,112.50L455.70,112.50L455.80,112.50L455.90,112.50L456.00,112.50L456.10,112.50L456.20,112.50L456.30,112.50L456.40,112.50L456.50,112.50L456.50,112.90Z" fill="#4d1224" opacity="1.0"/>
<line x1="427.60" y1="132.70" x2="485.70" y2="132.70" stroke="#48a626" stroke-width="1.3" opacity="0.32"/>
<path d="M432.10,132.70L432.10,132.49L432.35,132.30L432.60,132.03L432.85,131.72L433.10,131.42L433.35,131.23L433.60,131.21L433.85,131.37L434.10,131.65L434.35,131.97L434.60,132.25L434.85,132.46L434.85,132.70ZM445.35,132.70L445.35,132.58L445.60,132.46L445.85,132.29L446.10,132.09L446.35,131.88L446.60,131.74L446.85,131.70L447.10,131.79L447.35,131.96L447.60,132.14L447.85,131.67L448.10,131.14L448.35,130.77L448.60,130.73L448.85,131.05L449.10,131.56L449.35,131.97L449.60,131.30L449.85,130.51L450.10,129.88L450.35,129.71L450.60,130.09L450.85,129.75L451.10,127.79L451.35,125.69L451.60,124.13L451.85,123.73L452.10,124.65L452.35,122.12L452.60,119.45L452.85,118.75L453.10,120.34L453.35,123.49L453.60,123.31L453.85,122.74L454.10,124.01L454.35,126.47L454.60,129.02L454.85,130.91L455.10,130.46L455.35,129.41L455.60,129.30L455.85,130.21L456.10,131.41L456.35,132.23L456.60,132.58L456.60,132.70ZM460.85,132.70L460.85,132.38L461.10,131.99L461.35,131.41L461.60,130.75L461.85,130.29L462.10,130.24L462.35,130.64L462.60,131.28L462.85,131.89L463.10,132.32L463.35,132.56L463.35,132.70ZM468.85,132.70L468.85,132.57L469.10,132.48L469.35,132.37L469.60,132.27L469.85,132.21L470.10,132.20L470.35,132.26L470.60,132.35L470.85,132.46L471.10,132.55L471.10,132.70Z" fill="#48a626" opacity="0.7"/>
<path d="M432.10,132.70L432.10,132.55L432.35,132.41L432.60,132.22L432.85,131.99L433.10,131.78L433.35,131.64L433.60,131.63L433.85,131.74L434.10,131.95L434.35,132.18L434.60,132.38L434.85,132.53L434.85,132.70ZM445.35,132.70L445.35,132.61L445.60,132.53L445.85,132.41L446.10,132.26L446.35,132.11L446.60,132.01L446.85,131.98L447.10,132.04L447.35,132.17L447.60,132.29L447.85,131.96L448.10,131.58L448.35,131.31L448.60,131.28L448.85,131.51L449.10,131.88L449.35,132.17L449.60,131.70L449.85,131.13L450.10,130.67L450.35,130.55L450.60,130.82L450.85,130.57L451.10,129.16L451.35,127.65L451.60,126.53L451.85,126.24L452.10,126.90L452.35,125.08L452.60,123.16L452.85,122.65L453.10,123.80L453.35,126.07L453.60,125.94L453.85,125.53L454.10,126.44L454.35,128.21L454.60,130.05L454.85,131.41L455.10,131.08L455.35,130.33L455.60,130.25L455.85,130.91L456.10,131.77L456.35,132.36L456.60,132.61L456.60,132.70ZM460.85,132.70L460.85,132.47L461.10,132.19L461.35,131.77L461.60,131.30L461.85,130.96L462.10,130.93L462.35,131.21L462.60,131.67L462.85,132.12L463.10,132.43L463.35,132.60L463.35,132.70ZM468.85,132.70L468.85,132.60L469.10,132.54L469.35,132.46L469.60,132.39L469.85,132.35L470.10,132.34L470.35,132.38L470.60,132.45L470.85,132.53L471.10,132.59L471.10,132.70Z" fill="#48a626" opacity="1"/>
<path d="M464.00,152.90L464.00,147.60L464.10,147.60L464.20,147.60L464.30,147.60L464.40,147.60L464.50,147.60L464.60,147.60L464.70,147.60L464.80,147.60L464.80,152.90ZM465.50,152.90L465.50,147.60L465.60,147.60L465.70,147.60L465.80,147.60L465.90,147.60L466.00,147.60L466.10,147.60L466.20,147.60L466.30,147.60L466.30,152.90ZM467.00,152.90L467.00,147.60L467.10,147.60L467.20,147.60L467.30,147.60L467.40,147.60L467.50,147.60L467.60,147.60L467.70,147.60L467.80,147.60L467.80,152.90ZM477.50,152.90L477.50,146.40L477.60,146.40L477.70,146.40L477.80,146.40L477.90,146.40L478.00,146.40L478.10,146.40L478.20,146.40L478.30,146.40L478.40,146.40L478.50,146.40L478.60,146.40L478.70,146.40L478.80,146.40L478.90,146.40L479.00,146.40L479.10,146.40L479.10,152.90Z" fill="#48a626" opacity="1.0"/>
<rect x="426.10" y="34.30" width="61.10" height="122.00" fill="none" stroke="#97aca2" stroke-width="1.3" rx="0" />
<rect x="91.00" y="33.40" width="1.30" height="123.20" fill="#2e3030" stroke="none" stroke-width="1" rx="0" />
<rect x="96.80" y="33.40" width="1.40" height="123.20" fill="#2e3030" stroke="none" stroke-width="1" rx="0" />
<rect x="105.80" y="33.40" width="1.30" height="123.20" fill="#2e3030" stroke="none" stroke-width="1" rx="0" />
<rect x="264.00" y="33.40" width="1.00" height="123.20" fill="#2e3030" stroke="none" stroke-width="1" rx="0" />
<rect x="276.90" y="33.40" width="1.00" height="123.20" fill="#2e3030" stroke="none" stroke-width="1" rx="0" />
<rect x="297.80" y="33.40" width="1.40" height="123.20" fill="#2e3030" stroke="none" stroke-width="1" rx="0" />
<rect x="305.90" y="33.40" width="1.40" height="123.20" fill="#2e3030" stroke="none" stroke-width="1" rx="0" />
<rect x="330.00" y="33.40" width="1.20" height="123.20" fill="#2e3030" stroke="none" stroke-width="1" rx="0" />
<rect x="454.90" y="33.40" width="1.40" height="123.20" fill="#2e3030" stroke="none" stroke-width="1" rx="0" />
<text x="81.00" y="172.60" font-size="6.2" fill="#2a2a2a" textLength="10.00" lengthAdjust="spacingAndGlyphs" >Ifng</text>
<line x1="93.50" y1="171.40" x2="137.50" y2="171.40" stroke="#000" stroke-width="1.2" />
<line x1="94.40" y1="169.90" x2="94.40" y2="172.90" stroke="#000" stroke-width="0.75" />
<line x1="96.20" y1="169.90" x2="96.20" y2="172.90" stroke="#000" stroke-width="0.75" />
<line x1="98.00" y1="169.90" x2="98.00" y2="172.90" stroke="#000" stroke-width="0.75" />
<line x1="99.80" y1="169.90" x2="99.80" y2="172.90" stroke="#000" stroke-width="0.75" />
<line x1="101.60" y1="169.90" x2="101.60" y2="172.90" stroke="#000" stroke-width="0.75" />
<line x1="103.40" y1="169.90" x2="103.40" y2="172.90" stroke="#000" stroke-width="0.75" />
<line x1="105.20" y1="169.90" x2="105.20" y2="172.90" stroke="#000" stroke-width="0.75" />
<line x1="107.00" y1="169.90" x2="107.00" y2="172.90" stroke="#000" stroke-width="0.75" />
<line x1="108.80" y1="169.90" x2="108.80" y2="172.90" stroke="#000" stroke-width="0.75" />
<line x1="110.60" y1="169.90" x2="110.60" y2="172.90" stroke="#000" stroke-width="0.75" />
<line x1="112.40" y1="169.90" x2="112.40" y2="172.90" stroke="#000" stroke-width="0.75" />
<line x1="114.20" y1="169.90" x2="114.20" y2="172.90" stroke="#000" stroke-width="0.75" />
<line x1="116.00" y1="169.90" x2="116.00" y2="172.90" stroke="#000" stroke-width="0.75" />
<line x1="117.80" y1="169.90" x2="117.80" y2="172.90" stroke="#000" stroke-width="0.75" />
<line x1="119.60" y1="169.90" x2="119.60" y2="172.90" stroke="#000" stroke-width="0.75" />
<line x1="121.40" y1="169.90" x2="121.40" y2="172.90" stroke="#000" stroke-width="0.75" />
<line x1="123.20" y1="169.90" x2="123.20" y2="172.90" stroke="#000" stroke-width="0.75" />
<line x1="125.00" y1="169.90" x2="125.00" y2="172.90" stroke="#000" stroke-width="0.75" />
<line x1="126.80" y1="169.90" x2="126.80" y2="172.90" stroke="#000" stroke-width="0.75" />
<line x1="128.60" y1="169.90" x2="128.60" y2="172.90" stroke="#000" stroke-width="0.75" />
<line x1="130.40" y1="169.90" x2="130.40" y2="172.90" stroke="#000" stroke-width="0.75" />
<line x1="132.20" y1="169.90" x2="132.20" y2="172.90" stroke="#000" stroke-width="0.75" />
<line x1="134.00" y1="169.90" x2="134.00" y2="172.90" stroke="#000" stroke-width="0.75" />
<line x1="135.80" y1="169.90" x2="135.80" y2="172.90" stroke="#000" stroke-width="0.75" />
<rect x="93.20" y="169.60" width="2.40" height="3.60" fill="#000" stroke="none" stroke-width="1" rx="0" />
<rect x="106.40" y="169.20" width="0.80" height="4.40" fill="#000" stroke="none" stroke-width="1" rx="0" />
<rect x="108.90" y="169.20" width="0.90" height="4.40" fill="#000" stroke="none" stroke-width="1" rx="0" />
<rect x="130.80" y="169.30" width="1.40" height="4.20" fill="#000" stroke="none" stroke-width="1" rx="0" />
<rect x="132.20" y="169.90" width="5.70" height="3.00" fill="#000" stroke="none" stroke-width="1" rx="0" />
<path d="M93.80,171.00 L93.80,164.20 L100.00,164.20" fill="none" stroke="#000" stroke-width="1.4"/>
<path d="M103.60,164.20 L99.20,162.20 L99.20,166.20Z" fill="#000"/>
<text x="149.50" y="170.30" font-size="5.8" fill="#2a2a2a" textLength="8.60" lengthAdjust="spacingAndGlyphs" >Tnf</text>
<text x="149.50" y="174.80" font-size="5.8" fill="#2a2a2a" textLength="8.60" lengthAdjust="spacingAndGlyphs" >Tnf</text>
<rect x="160.00" y="167.30" width="13.00" height="2.60" fill="#000" stroke="none" stroke-width="1" rx="0" />
<rect x="173.00" y="166.30" width="7.30" height="4.60" fill="#000" stroke="none" stroke-width="1" rx="0" />
<line x1="180.30" y1="168.60" x2="197.50" y2="168.60" stroke="#000" stroke-width="1.2" />
<line x1="181.40" y1="167.10" x2="181.40" y2="170.10" stroke="#000" stroke-width="0.75" />
<line x1="183.60" y1="167.10" x2="183.60" y2="170.10" stroke="#000" stroke-width="0.75" />
<line x1="185.80" y1="167.10" x2="185.80" y2="170.10" stroke="#000" stroke-width="0.75" />
<line x1="188.00" y1="167.10" x2="188.00" y2="170.10" stroke="#000" stroke-width="0.75" />
<line x1="190.20" y1="167.10" x2="190.20" y2="170.10" stroke="#000" stroke-width="0.75" />
<line x1="192.40" y1="167.10" x2="192.40" y2="170.10" stroke="#000" stroke-width="0.75" />
<line x1="194.60" y1="167.10" x2="194.60" y2="170.10" stroke="#000" stroke-width="0.75" />
<line x1="196.80" y1="167.10" x2="196.80" y2="170.10" stroke="#000" stroke-width="0.75" />
<rect x="185.00" y="166.80" width="1.50" height="3.60" fill="#000" stroke="none" stroke-width="1" rx="0" />
<rect x="189.50" y="166.80" width="1.10" height="3.60" fill="#000" stroke="none" stroke-width="1" rx="0" />
<rect x="193.00" y="167.10" width="1.00" height="3.00" fill="#000" stroke="none" stroke-width="1" rx="0" />
<ellipse cx="201.2" cy="168.6" rx="3.3" ry="2.4" fill="#000"/>
<rect x="160.00" y="171.60" width="13.00" height="2.60" fill="#000" stroke="none" stroke-width="1" rx="0" />
<rect x="173.00" y="170.60" width="7.30" height="4.60" fill="#000" stroke="none" stroke-width="1" rx="0" />
<line x1="180.30" y1="172.90" x2="197.50" y2="172.90" stroke="#000" stroke-width="1.2" />
<line x1="181.40" y1="171.40" x2="181.40" y2="174.40" stroke="#000" stroke-width="0.75" />
<line x1="183.60" y1="171.40" x2="183.60" y2="174.40" stroke="#000" stroke-width="0.75" />
<line x1="185.80" y1="171.40" x2="185.80" y2="174.40" stroke="#000" stroke-width="0.75" />
<line x1="188.00" y1="171.40" x2="188.00" y2="174.40" stroke="#000" stroke-width="0.75" />
<line x1="190.20" y1="171.40" x2="190.20" y2="174.40" stroke="#000" stroke-width="0.75" />
<line x1="192.40" y1="171.40" x2="192.40" y2="174.40" stroke="#000" stroke-width="0.75" />
<line x1="194.60" y1="171.40" x2="194.60" y2="174.40" stroke="#000" stroke-width="0.75" />
<line x1="196.80" y1="171.40" x2="196.80" y2="174.40" stroke="#000" stroke-width="0.75" />
<rect x="185.00" y="171.10" width="1.50" height="3.60" fill="#000" stroke="none" stroke-width="1" rx="0" />
<rect x="189.50" y="171.10" width="1.10" height="3.60" fill="#000" stroke="none" stroke-width="1" rx="0" />
<rect x="193.00" y="171.40" width="1.00" height="3.00" fill="#000" stroke="none" stroke-width="1" rx="0" />
<ellipse cx="201.2" cy="172.9" rx="3.3" ry="2.4" fill="#000"/>
<path d="M204.60,168.60 L204.60,160.70 L199.00,160.70" fill="none" stroke="#000" stroke-width="1.4"/>
<path d="M196.30,160.70 L200.70,158.70 L200.70,162.70Z" fill="#000"/>
<text x="219.80" y="168.70" font-size="5.8" fill="#2a2a2a" textLength="7.90" lengthAdjust="spacingAndGlyphs" >Il4</text>
<line x1="228.70" y1="166.60" x2="273.40" y2="166.60" stroke="#000" stroke-width="1.2" />
<line x1="229.40" y1="165.10" x2="229.40" y2="168.10" stroke="#000" stroke-width="0.8" />
<line x1="230.80" y1="165.10" x2="230.80" y2="168.10" stroke="#000" stroke-width="0.8" />
<line x1="232.20" y1="165.10" x2="232.20" y2="168.10" stroke="#000" stroke-width="0.8" />
<line x1="233.60" y1="165.10" x2="233.60" y2="168.10" stroke="#000" stroke-width="0.8" />
<line x1="235.00" y1="165.10" x2="235.00" y2="168.10" stroke="#000" stroke-width="0.8" />
<line x1="236.40" y1="165.10" x2="236.40" y2="168.10" stroke="#000" stroke-width="0.8" />
<line x1="237.80" y1="165.10" x2="237.80" y2="168.10" stroke="#000" stroke-width="0.8" />
<line x1="239.20" y1="165.10" x2="239.20" y2="168.10" stroke="#000" stroke-width="0.8" />
<line x1="240.60" y1="165.10" x2="240.60" y2="168.10" stroke="#000" stroke-width="0.8" />
<line x1="242.00" y1="165.10" x2="242.00" y2="168.10" stroke="#000" stroke-width="0.8" />
<line x1="243.40" y1="165.10" x2="243.40" y2="168.10" stroke="#000" stroke-width="0.8" />
<line x1="244.80" y1="165.10" x2="244.80" y2="168.10" stroke="#000" stroke-width="0.8" />
<line x1="246.20" y1="165.10" x2="246.20" y2="168.10" stroke="#000" stroke-width="0.8" />
<line x1="247.60" y1="165.10" x2="247.60" y2="168.10" stroke="#000" stroke-width="0.8" />
<line x1="249.00" y1="165.10" x2="249.00" y2="168.10" stroke="#000" stroke-width="0.8" />
<line x1="250.40" y1="165.10" x2="250.40" y2="168.10" stroke="#000" stroke-width="0.8" />
<line x1="251.80" y1="165.10" x2="251.80" y2="168.10" stroke="#000" stroke-width="0.8" />
<line x1="253.20" y1="165.10" x2="253.20" y2="168.10" stroke="#000" stroke-width="0.8" />
<line x1="254.60" y1="165.10" x2="254.60" y2="168.10" stroke="#000" stroke-width="0.8" />
<line x1="256.00" y1="165.10" x2="256.00" y2="168.10" stroke="#000" stroke-width="0.8" />
<line x1="257.40" y1="165.10" x2="257.40" y2="168.10" stroke="#000" stroke-width="0.8" />
<line x1="258.80" y1="165.10" x2="258.80" y2="168.10" stroke="#000" stroke-width="0.8" />
<line x1="260.20" y1="165.10" x2="260.20" y2="168.10" stroke="#000" stroke-width="0.8" />
<line x1="261.60" y1="165.10" x2="261.60" y2="168.10" stroke="#000" stroke-width="0.8" />
<line x1="263.00" y1="165.10" x2="263.00" y2="168.10" stroke="#000" stroke-width="0.8" />
<line x1="264.40" y1="165.10" x2="264.40" y2="168.10" stroke="#000" stroke-width="0.8" />
<line x1="265.80" y1="165.10" x2="265.80" y2="168.10" stroke="#000" stroke-width="0.8" />
<line x1="267.20" y1="165.10" x2="267.20" y2="168.10" stroke="#000" stroke-width="0.8" />
<line x1="268.60" y1="165.10" x2="268.60" y2="168.10" stroke="#000" stroke-width="0.8" />
<line x1="270.00" y1="165.10" x2="270.00" y2="168.10" stroke="#000" stroke-width="0.8" />
<line x1="271.40" y1="165.10" x2="271.40" y2="168.10" stroke="#000" stroke-width="0.8" />
<line x1="272.80" y1="165.10" x2="272.80" y2="168.10" stroke="#000" stroke-width="0.8" />
<rect x="228.70" y="165.00" width="2.50" height="3.20" fill="#000" stroke="none" stroke-width="1" rx="0" />
<rect x="237.30" y="164.90" width="1.70" height="3.40" fill="#000" stroke="none" stroke-width="1" rx="0" />
<rect x="271.40" y="165.10" width="2.00" height="3.00" fill="#000" stroke="none" stroke-width="1" rx="0" />
<text x="219.80" y="173.70" font-size="5.8" fill="#2a2a2a" textLength="7.90" lengthAdjust="spacingAndGlyphs" >Il4</text>
<line x1="228.70" y1="171.60" x2="270.50" y2="171.60" stroke="#000" stroke-width="1.2" />
<line x1="229.40" y1="170.10" x2="229.40" y2="173.10" stroke="#000" stroke-width="0.8" />
<line x1="230.80" y1="170.10" x2="230.80" y2="173.10" stroke="#000" stroke-width="0.8" />
<line x1="232.20" y1="170.10" x2="232.20" y2="173.10" stroke="#000" stroke-width="0.8" />
<line x1="233.60" y1="170.10" x2="233.60" y2="173.10" stroke="#000" stroke-width="0.8" />
<line x1="235.00" y1="170.10" x2="235.00" y2="173.10" stroke="#000" stroke-width="0.8" />
<line x1="236.40" y1="170.10" x2="236.40" y2="173.10" stroke="#000" stroke-width="0.8" />
<line x1="237.80" y1="170.10" x2="237.80" y2="173.10" stroke="#000" stroke-width="0.8" />
<line x1="239.20" y1="170.10" x2="239.20" y2="173.10" stroke="#000" stroke-width="0.8" />
<line x1="240.60" y1="170.10" x2="240.60" y2="173.10" stroke="#000" stroke-width="0.8" />
<line x1="242.00" y1="170.10" x2="242.00" y2="173.10" stroke="#000" stroke-width="0.8" />
<line x1="243.40" y1="170.10" x2="243.40" y2="173.10" stroke="#000" stroke-width="0.8" />
<line x1="244.80" y1="170.10" x2="244.80" y2="173.10" stroke="#000" stroke-width="0.8" />
<line x1="246.20" y1="170.10" x2="246.20" y2="173.10" stroke="#000" stroke-width="0.8" />
<line x1="247.60" y1="170.10" x2="247.60" y2="173.10" stroke="#000" stroke-width="0.8" />
<line x1="249.00" y1="170.10" x2="249.00" y2="173.10" stroke="#000" stroke-width="0.8" />
<line x1="250.40" y1="170.10" x2="250.40" y2="173.10" stroke="#000" stroke-width="0.8" />
<line x1="251.80" y1="170.10" x2="251.80" y2="173.10" stroke="#000" stroke-width="0.8" />
<line x1="253.20" y1="170.10" x2="253.20" y2="173.10" stroke="#000" stroke-width="0.8" />
<line x1="254.60" y1="170.10" x2="254.60" y2="173.10" stroke="#000" stroke-width="0.8" />
<line x1="256.00" y1="170.10" x2="256.00" y2="173.10" stroke="#000" stroke-width="0.8" />
<line x1="257.40" y1="170.10" x2="257.40" y2="173.10" stroke="#000" stroke-width="0.8" />
<line x1="258.80" y1="170.10" x2="258.80" y2="173.10" stroke="#000" stroke-width="0.8" />
<line x1="260.20" y1="170.10" x2="260.20" y2="173.10" stroke="#000" stroke-width="0.8" />
<line x1="261.60" y1="170.10" x2="261.60" y2="173.10" stroke="#000" stroke-width="0.8" />
<line x1="263.00" y1="170.10" x2="263.00" y2="173.10" stroke="#000" stroke-width="0.8" />
<line x1="264.40" y1="170.10" x2="264.40" y2="173.10" stroke="#000" stroke-width="0.8" />
<line x1="265.80" y1="170.10" x2="265.80" y2="173.10" stroke="#000" stroke-width="0.8" />
<line x1="267.20" y1="170.10" x2="267.20" y2="173.10" stroke="#000" stroke-width="0.8" />
<line x1="268.60" y1="170.10" x2="268.60" y2="173.10" stroke="#000" stroke-width="0.8" />
<line x1="270.00" y1="170.10" x2="270.00" y2="173.10" stroke="#000" stroke-width="0.8" />
<rect x="228.70" y="170.00" width="2.50" height="3.20" fill="#000" stroke="none" stroke-width="1" rx="0" />
<rect x="237.30" y="169.90" width="1.70" height="3.40" fill="#000" stroke="none" stroke-width="1" rx="0" />
<rect x="268.50" y="170.10" width="2.00" height="3.00" fill="#000" stroke="none" stroke-width="1" rx="0" />
<text x="219.80" y="178.70" font-size="5.8" fill="#2a2a2a" textLength="7.90" lengthAdjust="spacingAndGlyphs" >Il4</text>
<line x1="228.70" y1="176.60" x2="262.60" y2="176.60" stroke="#000" stroke-width="1.2" />
<line x1="229.40" y1="175.10" x2="229.40" y2="178.10" stroke="#000" stroke-width="0.8" />
<line x1="230.80" y1="175.10" x2="230.80" y2="178.10" stroke="#000" stroke-width="0.8" />
<line x1="232.20" y1="175.10" x2="232.20" y2="178.10" stroke="#000" stroke-width="0.8" />
<line x1="233.60" y1="175.10" x2="233.60" y2="178.10" stroke="#000" stroke-width="0.8" />
<line x1="235.00" y1="175.10" x2="235.00" y2="178.10" stroke="#000" stroke-width="0.8" />
<line x1="236.40" y1="175.10" x2="236.40" y2="178.10" stroke="#000" stroke-width="0.8" />
<line x1="237.80" y1="175.10" x2="237.80" y2="178.10" stroke="#000" stroke-width="0.8" />
<line x1="239.20" y1="175.10" x2="239.20" y2="178.10" stroke="#000" stroke-width="0.8" />
<line x1="240.60" y1="175.10" x2="240.60" y2="178.10" stroke="#000" stroke-width="0.8" />
<line x1="242.00" y1="175.10" x2="242.00" y2="178.10" stroke="#000" stroke-width="0.8" />
<line x1="243.40" y1="175.10" x2="243.40" y2="178.10" stroke="#000" stroke-width="0.8" />
<line x1="244.80" y1="175.10" x2="244.80" y2="178.10" stroke="#000" stroke-width="0.8" />
<line x1="246.20" y1="175.10" x2="246.20" y2="178.10" stroke="#000" stroke-width="0.8" />
<line x1="247.60" y1="175.10" x2="247.60" y2="178.10" stroke="#000" stroke-width="0.8" />
<line x1="249.00" y1="175.10" x2="249.00" y2="178.10" stroke="#000" stroke-width="0.8" />
<line x1="250.40" y1="175.10" x2="250.40" y2="178.10" stroke="#000" stroke-width="0.8" />
<line x1="251.80" y1="175.10" x2="251.80" y2="178.10" stroke="#000" stroke-width="0.8" />
<line x1="253.20" y1="175.10" x2="253.20" y2="178.10" stroke="#000" stroke-width="0.8" />
<line x1="254.60" y1="175.10" x2="254.60" y2="178.10" stroke="#000" stroke-width="0.8" />
<line x1="256.00" y1="175.10" x2="256.00" y2="178.10" stroke="#000" stroke-width="0.8" />
<line x1="257.40" y1="175.10" x2="257.40" y2="178.10" stroke="#000" stroke-width="0.8" />
<line x1="258.80" y1="175.10" x2="258.80" y2="178.10" stroke="#000" stroke-width="0.8" />
<line x1="260.20" y1="175.10" x2="260.20" y2="178.10" stroke="#000" stroke-width="0.8" />
<line x1="261.60" y1="175.10" x2="261.60" y2="178.10" stroke="#000" stroke-width="0.8" />
<rect x="228.70" y="175.00" width="2.50" height="3.20" fill="#000" stroke="none" stroke-width="1" rx="0" />
<rect x="237.30" y="174.90" width="1.70" height="3.40" fill="#000" stroke="none" stroke-width="1" rx="0" />
<rect x="260.60" y="175.10" width="2.00" height="3.00" fill="#000" stroke="none" stroke-width="1" rx="0" />
<path d="M273.40,166.60 L273.40,160.00 L269.50,160.00" fill="none" stroke="#000" stroke-width="1.4"/>
<path d="M266.50,159.20 L270.90,157.20 L270.90,161.20Z" fill="#000"/>
<text x="289.90" y="173.50" font-size="6.2" fill="#2a2a2a" textLength="10.30" lengthAdjust="spacingAndGlyphs" >Il13</text>
<line x1="307.00" y1="171.60" x2="326.50" y2="171.60" stroke="#000" stroke-width="1.2" />
<line x1="307.95" y1="170.10" x2="307.95" y2="173.10" stroke="#000" stroke-width="0.75" />
<line x1="309.85" y1="170.10" x2="309.85" y2="173.10" stroke="#000" stroke-width="0.75" />
<line x1="311.75" y1="170.10" x2="311.75" y2="173.10" stroke="#000" stroke-width="0.75" />
<line x1="313.65" y1="170.10" x2="313.65" y2="173.10" stroke="#000" stroke-width="0.75" />
<line x1="315.55" y1="170.10" x2="315.55" y2="173.10" stroke="#000" stroke-width="0.75" />
<line x1="317.45" y1="170.10" x2="317.45" y2="173.10" stroke="#000" stroke-width="0.75" />
<line x1="319.35" y1="170.10" x2="319.35" y2="173.10" stroke="#000" stroke-width="0.75" />
<line x1="321.25" y1="170.10" x2="321.25" y2="173.10" stroke="#000" stroke-width="0.75" />
<line x1="323.15" y1="170.10" x2="323.15" y2="173.10" stroke="#000" stroke-width="0.75" />
<line x1="325.05" y1="170.10" x2="325.05" y2="173.10" stroke="#000" stroke-width="0.75" />
<rect x="302.00" y="170.30" width="5.00" height="2.60" fill="#000" stroke="none" stroke-width="1" rx="0" />
<rect x="308.60" y="169.30" width="2.60" height="4.60" fill="#000" stroke="none" stroke-width="1" rx="0" />
<rect x="315.00" y="170.10" width="1.00" height="3.00" fill="#000" stroke="none" stroke-width="1" rx="0" />
<rect x="325.80" y="169.60" width="1.80" height="4.00" fill="#000" stroke="none" stroke-width="1" rx="0" />
<path d="M327.10,171.40 L327.10,163.80 L321.50,163.80" fill="none" stroke="#000" stroke-width="1.4"/>
<path d="M318.50,163.80 L322.90,161.80 L322.90,165.80Z" fill="#000"/>
<text x="353.20" y="173.50" font-size="6.2" fill="#2a2a2a" textLength="12.00" lengthAdjust="spacingAndGlyphs" >Il17a</text>
<line x1="368.50" y1="171.60" x2="402.00" y2="171.60" stroke="#000" stroke-width="1.2" />
<line x1="369.50" y1="170.10" x2="369.50" y2="173.10" stroke="#000" stroke-width="0.75" />
<line x1="371.50" y1="170.10" x2="371.50" y2="173.10" stroke="#000" stroke-width="0.75" />
<line x1="373.50" y1="170.10" x2="373.50" y2="173.10" stroke="#000" stroke-width="0.75" />
<line x1="375.50" y1="170.10" x2="375.50" y2="173.10" stroke="#000" stroke-width="0.75" />
<line x1="377.50" y1="170.10" x2="377.50" y2="173.10" stroke="#000" stroke-width="0.75" />
<line x1="379.50" y1="170.10" x2="379.50" y2="173.10" stroke="#000" stroke-width="0.75" />
<line x1="381.50" y1="170.10" x2="381.50" y2="173.10" stroke="#000" stroke-width="0.75" />
<line x1="383.50" y1="170.10" x2="383.50" y2="173.10" stroke="#000" stroke-width="0.75" />
<line x1="385.50" y1="170.10" x2="385.50" y2="173.10" stroke="#000" stroke-width="0.75" />
<line x1="387.50" y1="170.10" x2="387.50" y2="173.10" stroke="#000" stroke-width="0.75" />
<line x1="389.50" y1="170.10" x2="389.50" y2="173.10" stroke="#000" stroke-width="0.75" />
<line x1="391.50" y1="170.10" x2="391.50" y2="173.10" stroke="#000" stroke-width="0.75" />
<line x1="393.50" y1="170.10" x2="393.50" y2="173.10" stroke="#000" stroke-width="0.75" />
<line x1="395.50" y1="170.10" x2="395.50" y2="173.10" stroke="#000" stroke-width="0.75" />
<line x1="397.50" y1="170.10" x2="397.50" y2="173.10" stroke="#000" stroke-width="0.75" />
<line x1="399.50" y1="170.10" x2="399.50" y2="173.10" stroke="#000" stroke-width="0.75" />
<line x1="401.50" y1="170.10" x2="401.50" y2="173.10" stroke="#000" stroke-width="0.75" />
<rect x="368.20" y="169.60" width="1.40" height="4.00" fill="#000" stroke="none" stroke-width="1" rx="0" />
<rect x="383.30" y="169.60" width="1.90" height="4.00" fill="#000" stroke="none" stroke-width="1" rx="0" />
<rect x="401.30" y="169.60" width="2.00" height="4.00" fill="#000" stroke="none" stroke-width="1" rx="0" />
<rect x="403.30" y="170.20" width="8.00" height="2.80" fill="#000" stroke="none" stroke-width="1" rx="0" />
<path d="M368.80,171.40 L368.80,164.20 L376.00,164.20" fill="none" stroke="#000" stroke-width="1.4"/>
<path d="M379.00,164.20 L374.60,162.20 L374.60,166.20Z" fill="#000"/>
<text x="422.90" y="173.50" font-size="6.2" fill="#2a2a2a" textLength="9.30" lengthAdjust="spacingAndGlyphs" >Il22</text>
<line x1="435.00" y1="171.60" x2="478.00" y2="171.60" stroke="#000" stroke-width="1.2" />
<line x1="436.00" y1="170.10" x2="436.00" y2="173.10" stroke="#000" stroke-width="0.75" />
<line x1="438.00" y1="170.10" x2="438.00" y2="173.10" stroke="#000" stroke-width="0.75" />
<line x1="440.00" y1="170.10" x2="440.00" y2="173.10" stroke="#000" stroke-width="0.75" />
<line x1="442.00" y1="170.10" x2="442.00" y2="173.10" stroke="#000" stroke-width="0.75" />
<line x1="444.00" y1="170.10" x2="444.00" y2="173.10" stroke="#000" stroke-width="0.75" />
<line x1="446.00" y1="170.10" x2="446.00" y2="173.10" stroke="#000" stroke-width="0.75" />
<line x1="448.00" y1="170.10" x2="448.00" y2="173.10" stroke="#000" stroke-width="0.75" />
<line x1="450.00" y1="170.10" x2="450.00" y2="173.10" stroke="#000" stroke-width="0.75" />
<line x1="452.00" y1="170.10" x2="452.00" y2="173.10" stroke="#000" stroke-width="0.75" />
<line x1="454.00" y1="170.10" x2="454.00" y2="173.10" stroke="#000" stroke-width="0.75" />
<line x1="456.00" y1="170.10" x2="456.00" y2="173.10" stroke="#000" stroke-width="0.75" />
<line x1="458.00" y1="170.10" x2="458.00" y2="173.10" stroke="#000" stroke-width="0.75" />
<line x1="460.00" y1="170.10" x2="460.00" y2="173.10" stroke="#000" stroke-width="0.75" />
<line x1="462.00" y1="170.10" x2="462.00" y2="173.10" stroke="#000" stroke-width="0.75" />
<line x1="464.00" y1="170.10" x2="464.00" y2="173.10" stroke="#000" stroke-width="0.75" />
<line x1="466.00" y1="170.10" x2="466.00" y2="173.10" stroke="#000" stroke-width="0.75" />
<line x1="468.00" y1="170.10" x2="468.00" y2="173.10" stroke="#000" stroke-width="0.75" />
<line x1="470.00" y1="170.10" x2="470.00" y2="173.10" stroke="#000" stroke-width="0.75" />
<line x1="472.00" y1="170.10" x2="472.00" y2="173.10" stroke="#000" stroke-width="0.75" />
<line x1="474.00" y1="170.10" x2="474.00" y2="173.10" stroke="#000" stroke-width="0.75" />
<line x1="476.00" y1="170.10" x2="476.00" y2="173.10" stroke="#000" stroke-width="0.75" />
<rect x="434.80" y="169.30" width="1.50" height="4.60" fill="#000" stroke="none" stroke-width="1" rx="0" />
<rect x="438.70" y="169.80" width="2.10" height="3.60" fill="#000" stroke="none" stroke-width="1" rx="0" />
<rect x="449.60" y="170.00" width="1.00" height="3.20" fill="#000" stroke="none" stroke-width="1" rx="0" />
<rect x="474.00" y="170.30" width="3.00" height="2.60" fill="#000" stroke="none" stroke-width="1" rx="0" />
<path d="M476.5,169.4 L480.5,171.6 L476.5,173.79999999999998Z" fill="#000"/>
<path d="M435.30,171.40 L435.30,164.20 L442.50,164.20" fill="none" stroke="#000" stroke-width="1.4"/>
<path d="M445.50,164.20 L441.10,162.20 L441.10,166.20Z" fill="#000"/>
<text x="8.30" y="201.50" font-size="10.2" fill="#000" font-weight="bold" >B</text>
<text x="7.80" y="243.60" font-size="10" fill="#2a2a2a" textLength="24.30" lengthAdjust="spacingAndGlyphs" >Control</text>
<text x="7.80" y="267.60" font-size="10" fill="#3355bb" textLength="19.00" lengthAdjust="spacingAndGlyphs" >iNKT1</text>
<text x="7.80" y="292.30" font-size="10" fill="#a3283a" textLength="19.50" lengthAdjust="spacingAndGlyphs" >iNKT2</text>
<text x="7.80" y="316.10" font-size="10" fill="#6ee04a" textLength="24.30" lengthAdjust="spacingAndGlyphs" >iNKT17</text>
<path d="M40.60,241.30 L41.25,241.30 L41.90,241.30 L42.55,241.30 L43.20,241.30 L43.86,241.30 L44.51,241.30 L45.16,241.30 L45.81,241.30 L46.46,241.30 L47.11,241.30 L47.76,241.30 L48.41,241.30 L49.06,241.30 L49.71,241.30 L50.37,241.30 L51.02,241.30 L51.67,241.30 L52.32,241.30 L52.97,241.30 L53.62,241.30 L54.27,241.30 L54.92,241.30 L55.57,241.30 L56.23,241.30 L56.88,241.30 L57.53,241.30 L58.18,241.30 L58.83,241.30 L59.48,241.30 L60.13,241.30 L60.78,241.30 L61.43,241.30 L62.09,241.30 L62.74,241.30 L63.39,241.30 L64.04,241.30 L64.69,241.30 L65.34,241.30 L65.99,241.30 L66.64,241.30 L67.29,241.30 L67.94,241.30 L68.60,241.30 L69.25,241.30 L69.90,241.30 L70.55,241.30 L71.20,241.30 L71.85,240.99 L72.50,240.66 L73.15,240.42 L73.80,240.01 L74.45,239.81 L75.10,239.46 L75.75,239.04 L76.40,238.90 L77.14,237.91 L77.89,237.37 L78.63,236.33 L79.37,235.55 L80.11,235.11 L80.86,234.82 L81.60,233.21 L82.25,231.77 L82.90,230.93 L83.55,230.12 L84.20,227.88 L85.07,224.82 L85.93,224.02 L86.80,218.25 L87.45,219.16 L88.10,214.63 L88.75,211.69 L89.40,209.24 L90.27,208.15 L91.13,209.03 L92.00,203.24 L92.83,203.70 L93.67,202.08 L94.50,198.18 L95.37,198.88 L96.23,194.75 L97.10,194.11 L97.75,194.97 L98.40,198.31 L99.05,196.18 L99.70,195.08 L100.57,198.60 L101.43,199.10 L102.30,199.52 L102.95,203.52 L103.60,203.47 L104.25,201.10 L104.90,203.88 L105.77,201.57 L106.63,202.07 L107.50,199.11 L108.40,195.82 L109.30,200.98 L110.15,201.90 L111.00,210.78 L111.87,214.75 L112.73,214.36 L113.60,218.16 L114.25,215.20 L114.90,216.72 L115.55,216.09 L116.20,214.14 L117.05,217.61 L117.90,217.47 L118.77,222.29 L119.63,225.33 L120.50,228.67 L121.37,228.71 L122.23,229.81 L123.10,230.30 L123.75,228.92 L124.40,228.91 L125.05,227.14 L125.70,228.17 L126.35,229.50 L127.00,231.59 L127.65,232.70 L128.30,233.42 L128.98,234.43 L129.66,235.59 L130.34,235.87 L131.02,237.11 L131.70,237.81 L132.40,237.06 L133.10,236.29 L133.80,236.20 L134.50,234.90 L135.20,234.31 L135.90,235.35 L136.60,236.63 L137.30,236.89 L138.00,238.01 L138.70,238.92 L139.38,238.89 L140.06,238.69 L140.74,238.54 L141.42,238.06 L142.10,237.95 L142.80,238.04 L143.50,238.44 L144.20,238.59 L144.90,238.31 L145.60,238.45 L146.28,239.04 L146.96,239.61 L147.64,240.22 L148.32,240.77 L149.00,241.30 L149.66,241.30 L150.31,241.30 L150.97,241.30 L151.62,241.30 L152.28,241.30 L152.93,241.30 L153.59,241.30 L154.24,241.30 L154.90,241.30 L155.56,241.30 L156.21,241.30 L156.87,241.30 L157.52,241.30 L158.18,241.30 L158.83,241.30 L159.49,241.30 L160.14,241.30 L160.80,241.30 L161.46,241.30 L162.11,241.30 L162.77,241.30 L163.42,241.30 L164.08,241.30 L164.73,241.30 L165.39,241.30 L166.04,241.30 L166.70,241.30 L166.70,241.30 L40.60,241.30Z" fill="#9aafa3" opacity="1.0"/>
<path d="M40.60,241.30 L41.25,241.30 L41.90,241.30 L42.55,241.30 L43.20,241.30 L43.86,241.30 L44.51,241.30 L45.16,241.30 L45.81,241.30 L46.46,241.30 L47.11,241.30 L47.76,241.30 L48.41,241.30 L49.06,241.30 L49.71,241.30 L50.37,241.30 L51.02,241.30 L51.67,241.30 L52.32,241.30 L52.97,241.30 L53.62,241.30 L54.27,241.30 L54.92,241.30 L55.57,241.30 L56.23,241.30 L56.88,241.30 L57.53,241.30 L58.18,241.30 L58.83,241.30 L59.48,241.30 L60.13,241.30 L60.78,241.30 L61.43,241.30 L62.09,241.30 L62.74,241.30 L63.39,241.30 L64.04,241.30 L64.69,241.30 L65.34,241.30 L65.99,241.30 L66.64,241.30 L67.29,241.30 L67.94,241.30 L68.60,241.30 L69.25,241.30 L69.90,241.30 L70.55,241.30 L71.20,241.30 L71.85,240.99 L72.50,240.66 L73.15,240.42 L73.80,240.01 L74.45,239.81 L75.10,239.46 L75.75,239.04 L76.40,238.90 L77.14,237.91 L77.89,237.37 L78.63,236.33 L79.37,235.55 L80.11,235.11 L80.86,234.82 L81.60,233.21 L82.25,231.77 L82.90,230.93 L83.55,230.12 L84.20,227.88 L85.07,224.82 L85.93,224.02 L86.80,218.25 L87.45,219.16 L88.10,214.63 L88.75,211.69 L89.40,209.24 L90.27,208.15 L91.13,209.03 L92.00,203.24 L92.83,203.70 L93.67,202.08 L94.50,198.18 L95.37,198.88 L96.23,194.75 L97.10,194.11 L97.75,194.97 L98.40,198.31 L99.05,196.18 L99.70,195.08 L100.57,198.60 L101.43,199.10 L102.30,199.52 L102.95,203.52 L103.60,203.47 L104.25,201.10 L104.90,203.88 L105.77,201.57 L106.63,202.07 L107.50,199.11 L108.40,195.82 L109.30,200.98 L110.15,201.90 L111.00,210.78 L111.87,214.75 L112.73,214.36 L113.60,218.16 L114.25,215.20 L114.90,216.72 L115.55,216.09 L116.20,214.14 L117.05,217.61 L117.90,217.47 L118.77,222.29 L119.63,225.33 L120.50,228.67 L121.37,228.71 L122.23,229.81 L123.10,230.30 L123.75,228.92 L124.40,228.91 L125.05,227.14 L125.70,228.17 L126.35,229.50 L127.00,231.59 L127.65,232.70 L128.30,233.42 L128.98,234.43 L129.66,235.59 L130.34,235.87 L131.02,237.11 L131.70,237.81 L132.40,237.06 L133.10,236.29 L133.80,236.20 L134.50,234.90 L135.20,234.31 L135.90,235.35 L136.60,236.63 L137.30,236.89 L138.00,238.01 L138.70,238.92 L139.38,238.89 L140.06,238.69 L140.74,238.54 L141.42,238.06 L142.10,237.95 L142.80,238.04 L143.50,238.44 L144.20,238.59 L144.90,238.31 L145.60,238.45 L146.28,239.04 L146.96,239.61 L147.64,240.22 L148.32,240.77 L149.00,241.30 L149.66,241.30 L150.31,241.30 L150.97,241.30 L151.62,241.30 L152.28,241.30 L152.93,241.30 L153.59,241.30 L154.24,241.30 L154.90,241.30 L155.56,241.30 L156.21,241.30 L156.87,241.30 L157.52,241.30 L158.18,241.30 L158.83,241.30 L159.49,241.30 L160.14,241.30 L160.80,241.30 L161.46,241.30 L162.11,241.30 L162.77,241.30 L163.42,241.30 L164.08,241.30 L164.73,241.30 L165.39,241.30 L166.04,241.30 L166.70,241.30" fill="none" stroke="#000" stroke-width="1.15" stroke-linejoin="round"/>
<path d="M40.60,265.50 L41.25,265.50 L41.90,265.50 L42.55,265.50 L43.20,265.50 L43.86,265.50 L44.51,265.50 L45.16,265.50 L45.81,265.50 L46.46,265.50 L47.11,265.50 L47.76,265.50 L48.41,265.50 L49.06,265.50 L49.71,265.50 L50.37,265.50 L51.02,265.50 L51.67,265.50 L52.32,265.50 L52.97,265.50 L53.62,265.50 L54.27,265.50 L54.92,265.50 L55.57,265.50 L56.23,265.50 L56.88,265.50 L57.53,265.50 L58.18,265.50 L58.83,265.50 L59.48,265.50 L60.13,265.50 L60.78,265.50 L61.43,265.50 L62.09,265.50 L62.74,265.50 L63.39,265.50 L64.04,265.50 L64.69,265.50 L65.34,265.50 L65.99,265.50 L66.64,265.50 L67.29,265.50 L67.94,265.50 L68.60,265.50 L69.25,265.50 L69.90,265.50 L70.55,265.50 L71.20,265.50 L71.89,265.35 L72.58,265.19 L73.27,265.01 L73.96,264.89 L74.65,264.73 L75.34,264.61 L76.03,264.53 L76.72,264.34 L77.41,264.15 L78.10,264.03 L78.75,263.52 L79.40,262.73 L80.05,262.60 L80.70,262.02 L81.35,261.58 L82.00,261.01 L82.65,260.14 L83.30,259.60 L84.00,257.64 L84.70,256.78 L85.40,254.24 L86.10,252.57 L86.80,251.23 L87.65,249.74 L88.50,248.86 L89.37,249.32 L90.23,250.46 L91.10,252.05 L91.75,250.79 L92.40,250.31 L93.05,248.29 L93.70,249.58 L94.57,246.57 L95.43,242.61 L96.30,240.59 L96.95,238.75 L97.60,236.60 L98.25,233.12 L98.90,234.83 L99.75,234.03 L100.60,229.19 L101.45,233.66 L102.30,236.17 L103.00,234.40 L103.70,233.81 L104.40,231.60 L105.25,229.81 L106.10,220.03 L106.80,217.18 L107.50,222.66 L108.40,223.60 L109.30,225.43 L109.97,231.98 L110.63,233.38 L111.30,239.92 L112.07,240.30 L112.83,238.13 L113.60,235.63 L114.25,231.11 L114.90,229.50 L115.55,226.04 L116.20,227.83 L117.05,230.50 L117.90,236.07 L118.75,240.86 L119.60,247.70 L120.25,250.21 L120.90,251.46 L121.55,251.92 L122.20,252.61 L123.07,250.18 L123.93,247.47 L124.80,243.11 L125.45,246.11 L126.10,247.57 L126.75,248.70 L127.40,250.81 L128.27,253.81 L129.13,256.20 L130.00,259.12 L130.87,259.93 L131.73,259.98 L132.60,260.96 L133.47,258.90 L134.33,256.73 L135.20,253.43 L135.85,255.16 L136.50,257.18 L137.15,259.16 L137.80,261.19 L138.67,262.07 L139.53,262.80 L140.40,263.33 L141.10,260.58 L141.80,258.20 L142.50,255.91 L143.20,251.90 L143.90,250.62 L144.77,253.96 L145.63,256.46 L146.50,259.18 L147.33,260.88 L148.17,262.76 L149.00,264.93 L149.70,265.01 L150.40,265.16 L151.10,265.26 L151.80,265.38 L152.50,265.50 L153.18,265.50 L153.85,265.50 L154.53,265.50 L155.20,265.50 L155.88,265.50 L156.56,265.50 L157.23,265.50 L157.91,265.50 L158.59,265.50 L159.26,265.50 L159.94,265.50 L160.61,265.50 L161.29,265.50 L161.97,265.50 L162.64,265.50 L163.32,265.50 L164.00,265.50 L164.67,265.50 L165.35,265.50 L166.02,265.50 L166.70,265.50 L166.70,265.50 L40.60,265.50Z" fill="#5d8dd1" opacity="0.5"/>
<path d="M40.60,265.50 L41.25,265.50 L41.90,265.50 L42.55,265.50 L43.20,265.50 L43.86,265.50 L44.51,265.50 L45.16,265.50 L45.81,265.50 L46.46,265.50 L47.11,265.50 L47.76,265.50 L48.41,265.50 L49.06,265.50 L49.71,265.50 L50.37,265.50 L51.02,265.50 L51.67,265.50 L52.32,265.50 L52.97,265.50 L53.62,265.50 L54.27,265.50 L54.92,265.50 L55.57,265.50 L56.23,265.50 L56.88,265.50 L57.53,265.50 L58.18,265.50 L58.83,265.50 L59.48,265.50 L60.13,265.50 L60.78,265.50 L61.43,265.50 L62.09,265.50 L62.74,265.50 L63.39,265.50 L64.04,265.50 L64.69,265.50 L65.34,265.50 L65.99,265.50 L66.64,265.50 L67.29,265.50 L67.94,265.50 L68.60,265.50 L69.25,265.50 L69.90,265.50 L70.55,265.50 L71.20,265.50 L71.89,265.35 L72.58,265.19 L73.27,265.01 L73.96,264.89 L74.65,264.73 L75.34,264.61 L76.03,264.53 L76.72,264.34 L77.41,264.15 L78.10,264.03 L78.75,263.52 L79.40,262.73 L80.05,262.60 L80.70,262.02 L81.35,261.58 L82.00,261.01 L82.65,260.14 L83.30,259.60 L84.00,257.64 L84.70,256.78 L85.40,254.24 L86.10,252.57 L86.80,251.23 L87.65,249.74 L88.50,248.86 L89.37,249.32 L90.23,250.46 L91.10,252.05 L91.75,250.79 L92.40,250.31 L93.05,248.29 L93.70,249.58 L94.57,246.57 L95.43,242.61 L96.30,240.59 L96.95,238.75 L97.60,236.60 L98.25,233.12 L98.90,234.83 L99.75,234.03 L100.60,229.19 L101.45,233.66 L102.30,236.17 L103.00,234.40 L103.70,233.81 L104.40,231.60 L105.25,229.81 L106.10,220.03 L106.80,217.18 L107.50,222.66 L108.40,223.60 L109.30,225.43 L109.97,231.98 L110.63,233.38 L111.30,239.92 L112.07,240.30 L112.83,238.13 L113.60,235.63 L114.25,231.11 L114.90,229.50 L115.55,226.04 L116.20,227.83 L117.05,230.50 L117.90,236.07 L118.75,240.86 L119.60,247.70 L120.25,250.21 L120.90,251.46 L121.55,251.92 L122.20,252.61 L123.07,250.18 L123.93,247.47 L124.80,243.11 L125.45,246.11 L126.10,247.57 L126.75,248.70 L127.40,250.81 L128.27,253.81 L129.13,256.20 L130.00,259.12 L130.87,259.93 L131.73,259.98 L132.60,260.96 L133.47,258.90 L134.33,256.73 L135.20,253.43 L135.85,255.16 L136.50,257.18 L137.15,259.16 L137.80,261.19 L138.67,262.07 L139.53,262.80 L140.40,263.33 L141.10,260.58 L141.80,258.20 L142.50,255.91 L143.20,251.90 L143.90,250.62 L144.77,253.96 L145.63,256.46 L146.50,259.18 L147.33,260.88 L148.17,262.76 L149.00,264.93 L149.70,265.01 L150.40,265.16 L151.10,265.26 L151.80,265.38 L152.50,265.50 L153.18,265.50 L153.85,265.50 L154.53,265.50 L155.20,265.50 L155.88,265.50 L156.56,265.50 L157.23,265.50 L157.91,265.50 L158.59,265.50 L159.26,265.50 L159.94,265.50 L160.61,265.50 L161.29,265.50 L161.97,265.50 L162.64,265.50 L163.32,265.50 L164.00,265.50 L164.67,265.50 L165.35,265.50 L166.02,265.50 L166.70,265.50" fill="none" stroke="#1f3ce0" stroke-width="1.15" stroke-linejoin="round"/>
<path d="M40.60,289.00 L41.25,289.00 L41.90,289.00 L42.55,289.00 L43.20,289.00 L43.85,289.00 L44.51,289.00 L45.16,289.00 L45.81,289.00 L46.46,289.00 L47.11,289.00 L47.76,289.00 L48.41,289.00 L49.06,289.00 L49.71,289.00 L50.36,289.00 L51.01,289.00 L51.67,289.00 L52.32,289.00 L52.97,289.00 L53.62,289.00 L54.27,289.00 L54.92,289.00 L55.57,289.00 L56.22,289.00 L56.87,289.00 L57.52,289.00 L58.17,289.00 L58.83,289.00 L59.48,289.00 L60.13,289.00 L60.78,289.00 L61.43,289.00 L62.08,289.00 L62.73,289.00 L63.38,289.00 L64.03,289.00 L64.68,289.00 L65.33,289.00 L65.99,289.00 L66.64,289.00 L67.29,289.00 L67.94,289.00 L68.59,289.00 L69.24,289.00 L69.89,289.00 L70.54,289.00 L71.19,289.00 L71.84,289.00 L72.49,289.00 L73.15,289.00 L73.80,289.00 L74.45,289.00 L75.10,289.00 L75.75,289.00 L76.40,289.00 L77.08,288.69 L77.76,288.31 L78.44,287.96 L79.12,287.74 L79.80,287.36 L80.50,286.85 L81.20,286.47 L81.90,286.12 L82.60,286.15 L83.30,285.78 L83.95,284.26 L84.60,283.76 L85.25,282.92 L85.90,281.51 L86.77,279.33 L87.63,277.93 L88.50,275.29 L89.37,272.83 L90.23,273.39 L91.10,270.48 L91.75,268.59 L92.40,268.62 L93.05,265.24 L93.70,265.58 L94.57,263.59 L95.43,258.79 L96.30,257.00 L97.10,252.98 L97.75,251.31 L98.40,252.15 L99.05,248.72 L99.70,248.45 L100.57,249.89 L101.43,257.74 L102.30,257.84 L102.95,256.19 L103.60,254.74 L104.25,254.61 L104.90,249.37 L105.80,249.47 L106.70,243.01 L107.90,241.56 L108.63,246.07 L109.37,247.35 L110.10,254.75 L110.75,254.64 L111.40,255.06 L112.05,260.53 L112.70,258.70 L113.57,259.50 L114.43,260.12 L115.30,258.59 L115.95,259.30 L116.60,262.08 L117.25,264.09 L117.90,266.83 L118.77,267.84 L119.63,272.80 L120.50,275.55 L121.37,275.61 L122.23,276.70 L123.10,276.12 L123.75,275.79 L124.40,275.81 L125.05,275.75 L125.70,274.16 L126.55,277.13 L127.40,279.51 L128.27,280.38 L129.13,281.49 L130.00,282.04 L130.87,282.70 L131.73,283.21 L132.60,284.19 L133.47,283.17 L134.33,282.57 L135.20,281.88 L135.85,282.31 L136.50,283.90 L137.15,285.42 L137.80,286.55 L138.50,285.52 L139.20,284.79 L139.90,284.31 L140.60,283.29 L141.30,282.74 L142.17,280.71 L143.03,279.81 L143.90,278.34 L144.77,280.42 L145.63,281.38 L146.50,283.99 L147.33,285.37 L148.17,286.60 L149.00,288.25 L149.87,288.51 L150.73,288.73 L151.60,289.00 L152.26,289.00 L152.91,289.00 L153.57,289.00 L154.23,289.00 L154.88,289.00 L155.54,289.00 L156.20,289.00 L156.85,289.00 L157.51,289.00 L158.17,289.00 L158.82,289.00 L159.48,289.00 L160.13,289.00 L160.79,289.00 L161.45,289.00 L162.10,289.00 L162.76,289.00 L163.42,289.00 L164.07,289.00 L164.73,289.00 L165.39,289.00 L166.04,289.00 L166.70,289.00 L166.70,289.00 L40.60,289.00Z" fill="#93476b" opacity="0.5"/>
<path d="M40.60,289.00 L41.25,289.00 L41.90,289.00 L42.55,289.00 L43.20,289.00 L43.85,289.00 L44.51,289.00 L45.16,289.00 L45.81,289.00 L46.46,289.00 L47.11,289.00 L47.76,289.00 L48.41,289.00 L49.06,289.00 L49.71,289.00 L50.36,289.00 L51.01,289.00 L51.67,289.00 L52.32,289.00 L52.97,289.00 L53.62,289.00 L54.27,289.00 L54.92,289.00 L55.57,289.00 L56.22,289.00 L56.87,289.00 L57.52,289.00 L58.17,289.00 L58.83,289.00 L59.48,289.00 L60.13,289.00 L60.78,289.00 L61.43,289.00 L62.08,289.00 L62.73,289.00 L63.38,289.00 L64.03,289.00 L64.68,289.00 L65.33,289.00 L65.99,289.00 L66.64,289.00 L67.29,289.00 L67.94,289.00 L68.59,289.00 L69.24,289.00 L69.89,289.00 L70.54,289.00 L71.19,289.00 L71.84,289.00 L72.49,289.00 L73.15,289.00 L73.80,289.00 L74.45,289.00 L75.10,289.00 L75.75,289.00 L76.40,289.00 L77.08,288.69 L77.76,288.31 L78.44,287.96 L79.12,287.74 L79.80,287.36 L80.50,286.85 L81.20,286.47 L81.90,286.12 L82.60,286.15 L83.30,285.78 L83.95,284.26 L84.60,283.76 L85.25,282.92 L85.90,281.51 L86.77,279.33 L87.63,277.93 L88.50,275.29 L89.37,272.83 L90.23,273.39 L91.10,270.48 L91.75,268.59 L92.40,268.62 L93.05,265.24 L93.70,265.58 L94.57,263.59 L95.43,258.79 L96.30,257.00 L97.10,252.98 L97.75,251.31 L98.40,252.15 L99.05,248.72 L99.70,248.45 L100.57,249.89 L101.43,257.74 L102.30,257.84 L102.95,256.19 L103.60,254.74 L104.25,254.61 L104.90,249.37 L105.80,249.47 L106.70,243.01 L107.90,241.56 L108.63,246.07 L109.37,247.35 L110.10,254.75 L110.75,254.64 L111.40,255.06 L112.05,260.53 L112.70,258.70 L113.57,259.50 L114.43,260.12 L115.30,258.59 L115.95,259.30 L116.60,262.08 L117.25,264.09 L117.90,266.83 L118.77,267.84 L119.63,272.80 L120.50,275.55 L121.37,275.61 L122.23,276.70 L123.10,276.12 L123.75,275.79 L124.40,275.81 L125.05,275.75 L125.70,274.16 L126.55,277.13 L127.40,279.51 L128.27,280.38 L129.13,281.49 L130.00,282.04 L130.87,282.70 L131.73,283.21 L132.60,284.19 L133.47,283.17 L134.33,282.57 L135.20,281.88 L135.85,282.31 L136.50,283.90 L137.15,285.42 L137.80,286.55 L138.50,285.52 L139.20,284.79 L139.90,284.31 L140.60,283.29 L141.30,282.74 L142.17,280.71 L143.03,279.81 L143.90,278.34 L144.77,280.42 L145.63,281.38 L146.50,283.99 L147.33,285.37 L148.17,286.60 L149.00,288.25 L149.87,288.51 L150.73,288.73 L151.60,289.00 L152.26,289.00 L152.91,289.00 L153.57,289.00 L154.23,289.00 L154.88,289.00 L155.54,289.00 L156.20,289.00 L156.85,289.00 L157.51,289.00 L158.17,289.00 L158.82,289.00 L159.48,289.00 L160.13,289.00 L160.79,289.00 L161.45,289.00 L162.10,289.00 L162.76,289.00 L163.42,289.00 L164.07,289.00 L164.73,289.00 L165.39,289.00 L166.04,289.00 L166.70,289.00" fill="none" stroke="#6e0f1e" stroke-width="1.15" stroke-linejoin="round"/>
<path d="M40.60,312.40 L41.25,312.40 L41.91,312.40 L42.56,312.40 L43.21,312.40 L43.87,312.40 L44.52,312.40 L45.17,312.40 L45.83,312.40 L46.48,312.40 L47.13,312.40 L47.79,312.40 L48.44,312.40 L49.09,312.40 L49.75,312.40 L50.40,312.40 L51.05,312.40 L51.71,312.40 L52.36,312.40 L53.01,312.40 L53.67,312.40 L54.32,312.40 L54.97,312.40 L55.63,312.40 L56.28,312.40 L56.93,312.40 L57.59,312.40 L58.24,312.40 L58.89,312.40 L59.55,312.40 L60.20,312.40 L60.85,312.40 L61.51,312.40 L62.16,312.40 L62.81,312.40 L63.47,312.40 L64.12,312.40 L64.77,312.40 L65.43,312.40 L66.08,312.40 L66.73,312.40 L67.39,312.40 L68.04,312.40 L68.69,312.40 L69.35,312.40 L70.00,312.40 L70.65,312.40 L71.31,312.40 L71.96,312.40 L72.61,312.40 L73.27,312.40 L73.92,312.40 L74.57,312.40 L75.23,312.40 L75.88,312.40 L76.53,312.40 L77.19,312.40 L77.84,312.40 L78.49,312.40 L79.15,312.40 L79.80,312.40 L80.50,311.44 L81.20,310.70 L81.90,309.59 L82.60,308.71 L83.30,308.18 L84.00,307.08 L84.70,305.34 L85.40,304.59 L86.10,303.66 L86.80,302.33 L87.45,300.73 L88.10,299.62 L88.75,299.22 L89.40,296.17 L90.27,294.66 L91.13,291.39 L92.00,286.76 L92.83,284.76 L93.67,283.00 L94.50,279.27 L95.37,273.95 L96.23,277.17 L97.10,273.41 L97.75,273.70 L98.40,266.35 L99.05,266.41 L99.70,263.55 L100.57,271.44 L101.43,270.11 L102.30,271.58 L103.00,275.25 L103.70,279.91 L104.40,281.00 L105.17,276.03 L105.93,273.55 L106.70,276.74 L107.55,273.62 L108.40,273.67 L109.25,275.49 L110.10,281.33 L110.95,289.89 L111.80,294.58 L112.45,293.98 L113.10,296.90 L113.75,296.45 L114.40,297.32 L115.17,293.23 L115.93,293.71 L116.70,288.89 L117.40,294.29 L118.10,295.57 L118.80,297.91 L119.45,300.14 L120.10,302.52 L120.75,303.12 L121.40,304.75 L122.08,305.23 L122.76,304.88 L123.44,304.72 L124.12,304.79 L124.80,304.65 L125.45,304.83 L126.10,304.97 L126.75,304.96 L127.40,305.52 L128.27,305.84 L129.13,306.93 L130.00,307.55 L130.70,308.03 L131.40,308.16 L132.10,308.67 L132.80,308.89 L133.50,309.61 L134.35,309.08 L135.20,308.40 L135.90,308.95 L136.60,309.55 L137.30,309.50 L138.00,310.17 L138.70,310.38 L139.42,310.10 L140.13,309.95 L140.85,309.45 L141.57,309.20 L142.28,309.01 L143.00,308.91 L143.70,308.87 L144.40,309.49 L145.10,309.78 L145.80,310.09 L146.50,310.37 L147.33,311.03 L148.17,311.68 L149.00,312.40 L149.66,312.40 L150.31,312.40 L150.97,312.40 L151.62,312.40 L152.28,312.40 L152.93,312.40 L153.59,312.40 L154.24,312.40 L154.90,312.40 L155.56,312.40 L156.21,312.40 L156.87,312.40 L157.52,312.40 L158.18,312.40 L158.83,312.40 L159.49,312.40 L160.14,312.40 L160.80,312.40 L161.46,312.40 L162.11,312.40 L162.77,312.40 L163.42,312.40 L164.08,312.40 L164.73,312.40 L165.39,312.40 L166.04,312.40 L166.70,312.40 L166.70,312.40 L40.60,312.40Z" fill="#61c151" opacity="0.5"/>
<path d="M40.60,312.40 L41.25,312.40 L41.91,312.40 L42.56,312.40 L43.21,312.40 L43.87,312.40 L44.52,312.40 L45.17,312.40 L45.83,312.40 L46.48,312.40 L47.13,312.40 L47.79,312.40 L48.44,312.40 L49.09,312.40 L49.75,312.40 L50.40,312.40 L51.05,312.40 L51.71,312.40 L52.36,312.40 L53.01,312.40 L53.67,312.40 L54.32,312.40 L54.97,312.40 L55.63,312.40 L56.28,312.40 L56.93,312.40 L57.59,312.40 L58.24,312.40 L58.89,312.40 L59.55,312.40 L60.20,312.40 L60.85,312.40 L61.51,312.40 L62.16,312.40 L62.81,312.40 L63.47,312.40 L64.12,312.40 L64.77,312.40 L65.43,312.40 L66.08,312.40 L66.73,312.40 L67.39,312.40 L68.04,312.40 L68.69,312.40 L69.35,312.40 L70.00,312.40 L70.65,312.40 L71.31,312.40 L71.96,312.40 L72.61,312.40 L73.27,312.40 L73.92,312.40 L74.57,312.40 L75.23,312.40 L75.88,312.40 L76.53,312.40 L77.19,312.40 L77.84,312.40 L78.49,312.40 L79.15,312.40 L79.80,312.40 L80.50,311.44 L81.20,310.70 L81.90,309.59 L82.60,308.71 L83.30,308.18 L84.00,307.08 L84.70,305.34 L85.40,304.59 L86.10,303.66 L86.80,302.33 L87.45,300.73 L88.10,299.62 L88.75,299.22 L89.40,296.17 L90.27,294.66 L91.13,291.39 L92.00,286.76 L92.83,284.76 L93.67,283.00 L94.50,279.27 L95.37,273.95 L96.23,277.17 L97.10,273.41 L97.75,273.70 L98.40,266.35 L99.05,266.41 L99.70,263.55 L100.57,271.44 L101.43,270.11 L102.30,271.58 L103.00,275.25 L103.70,279.91 L104.40,281.00 L105.17,276.03 L105.93,273.55 L106.70,276.74 L107.55,273.62 L108.40,273.67 L109.25,275.49 L110.10,281.33 L110.95,289.89 L111.80,294.58 L112.45,293.98 L113.10,296.90 L113.75,296.45 L114.40,297.32 L115.17,293.23 L115.93,293.71 L116.70,288.89 L117.40,294.29 L118.10,295.57 L118.80,297.91 L119.45,300.14 L120.10,302.52 L120.75,303.12 L121.40,304.75 L122.08,305.23 L122.76,304.88 L123.44,304.72 L124.12,304.79 L124.80,304.65 L125.45,304.83 L126.10,304.97 L126.75,304.96 L127.40,305.52 L128.27,305.84 L129.13,306.93 L130.00,307.55 L130.70,308.03 L131.40,308.16 L132.10,308.67 L132.80,308.89 L133.50,309.61 L134.35,309.08 L135.20,308.40 L135.90,308.95 L136.60,309.55 L137.30,309.50 L138.00,310.17 L138.70,310.38 L139.42,310.10 L140.13,309.95 L140.85,309.45 L141.57,309.20 L142.28,309.01 L143.00,308.91 L143.70,308.87 L144.40,309.49 L145.10,309.78 L145.80,310.09 L146.50,310.37 L147.33,311.03 L148.17,311.68 L149.00,312.40 L149.66,312.40 L150.31,312.40 L150.97,312.40 L151.62,312.40 L152.28,312.40 L152.93,312.40 L153.59,312.40 L154.24,312.40 L154.90,312.40 L155.56,312.40 L156.21,312.40 L156.87,312.40 L157.52,312.40 L158.18,312.40 L158.83,312.40 L159.49,312.40 L160.14,312.40 L160.80,312.40 L161.46,312.40 L162.11,312.40 L162.77,312.40 L163.42,312.40 L164.08,312.40 L164.73,312.40 L165.39,312.40 L166.04,312.40 L166.70,312.40" fill="none" stroke="#1f9a10" stroke-width="1.15" stroke-linejoin="round"/>
<rect x="40.60" y="194.60" width="126.10" height="117.80" fill="none" stroke="#000" stroke-width="1.3" rx="0" />
<line x1="48.20" y1="312.40" x2="48.20" y2="315.00" stroke="#000" stroke-width="0.9" />
<line x1="53.90" y1="312.40" x2="53.90" y2="315.00" stroke="#000" stroke-width="0.9" />
<line x1="58.30" y1="312.40" x2="58.30" y2="315.00" stroke="#000" stroke-width="0.9" />
<line x1="64.00" y1="312.40" x2="64.00" y2="315.00" stroke="#000" stroke-width="0.9" />
<line x1="74.80" y1="312.40" x2="74.80" y2="315.00" stroke="#000" stroke-width="0.9" />
<line x1="78.60" y1="312.40" x2="78.60" y2="315.00" stroke="#000" stroke-width="0.9" />
<line x1="82.40" y1="312.40" x2="82.40" y2="315.00" stroke="#000" stroke-width="0.9" />
<line x1="86.20" y1="312.40" x2="86.20" y2="315.00" stroke="#000" stroke-width="0.9" />
<line x1="101.30" y1="312.40" x2="101.30" y2="315.00" stroke="#000" stroke-width="0.9" />
<line x1="106.00" y1="312.40" x2="106.00" y2="315.00" stroke="#000" stroke-width="0.9" />
<line x1="110.10" y1="312.40" x2="110.10" y2="315.00" stroke="#000" stroke-width="0.9" />
<line x1="113.50" y1="312.40" x2="113.50" y2="315.00" stroke="#000" stroke-width="0.9" />
<line x1="116.80" y1="312.40" x2="116.80" y2="315.00" stroke="#000" stroke-width="0.9" />
<line x1="120.90" y1="312.40" x2="120.90" y2="315.00" stroke="#000" stroke-width="0.9" />
<line x1="132.30" y1="312.40" x2="132.30" y2="315.00" stroke="#000" stroke-width="0.9" />
<line x1="137.00" y1="312.40" x2="137.00" y2="315.00" stroke="#000" stroke-width="0.9" />
<line x1="140.40" y1="312.40" x2="140.40" y2="315.00" stroke="#000" stroke-width="0.9" />
<line x1="143.10" y1="312.40" x2="143.10" y2="315.00" stroke="#000" stroke-width="0.9" />
<line x1="145.80" y1="312.40" x2="145.80" y2="315.00" stroke="#000" stroke-width="0.9" />
<line x1="148.50" y1="312.40" x2="148.50" y2="315.00" stroke="#000" stroke-width="0.9" />
<line x1="150.50" y1="312.40" x2="150.50" y2="315.00" stroke="#000" stroke-width="0.9" />
<line x1="161.90" y1="312.40" x2="161.90" y2="315.00" stroke="#000" stroke-width="0.9" />
<line x1="69.50" y1="312.40" x2="69.50" y2="316.30" stroke="#000" stroke-width="1.0" />
<line x1="89.40" y1="312.40" x2="89.40" y2="316.30" stroke="#000" stroke-width="1.0" />
<line x1="123.60" y1="312.40" x2="123.60" y2="316.30" stroke="#000" stroke-width="1.0" />
<line x1="153.20" y1="312.40" x2="153.20" y2="316.30" stroke="#000" stroke-width="1.0" />
<text x="69.20" y="322.40" font-size="6.4" fill="#111" text-anchor="middle" stroke="#111" stroke-width="0.15">0</text>
<text x="119.00" y="323.60" font-size="7.6" fill="#111" textLength="7.60" lengthAdjust="spacingAndGlyphs" stroke="#111" stroke-width="0.15">10</text>
<text x="126.70" y="320.90" font-size="4.6" fill="#111" >4</text>
<text x="83.70" y="332.80" font-size="9.2" fill="#2a2a2a" textLength="39.30" lengthAdjust="spacingAndGlyphs" stroke="#2a2a2a" stroke-width="0.15">Violet Tracer</text>
<path d="M180.40,241.30 L181.00,241.30 L181.60,241.30 L182.20,241.30 L182.81,241.30 L183.41,241.30 L184.01,241.30 L184.61,241.30 L185.21,241.30 L185.81,241.30 L186.42,241.30 L187.02,241.30 L187.62,241.30 L188.22,241.30 L188.82,241.30 L189.42,241.30 L190.03,241.30 L190.63,241.30 L191.23,241.30 L191.83,241.30 L192.43,241.30 L193.03,241.30 L193.63,241.30 L194.24,241.30 L194.84,241.30 L195.44,241.30 L196.04,241.30 L196.64,241.30 L197.24,241.30 L197.85,241.30 L198.45,241.30 L199.05,241.30 L199.65,241.30 L200.25,241.30 L200.85,241.30 L201.46,241.30 L202.06,241.30 L202.66,241.30 L203.26,241.30 L203.86,241.30 L204.46,241.30 L205.06,241.30 L205.67,241.30 L206.27,241.30 L206.87,241.30 L207.47,241.30 L208.07,241.30 L208.67,241.30 L209.28,241.30 L209.88,241.30 L210.48,241.30 L211.08,241.30 L211.68,241.30 L212.28,241.30 L212.89,241.30 L213.49,241.30 L214.09,241.30 L214.69,241.30 L215.29,241.30 L215.89,241.30 L216.49,241.30 L217.10,241.30 L217.70,241.30 L218.30,241.30 L218.90,241.30 L219.50,241.30 L220.10,241.30 L220.71,241.30 L221.31,241.30 L221.91,241.30 L222.51,241.30 L223.11,241.30 L223.71,241.30 L224.31,241.30 L224.92,241.30 L225.52,241.30 L226.12,241.30 L226.72,241.30 L227.32,241.30 L227.92,241.30 L228.53,241.30 L229.13,241.30 L229.73,241.30 L230.33,241.30 L230.93,241.30 L231.53,241.30 L232.14,241.30 L232.74,241.30 L233.34,241.30 L233.94,241.30 L234.54,241.30 L235.14,241.30 L235.74,241.30 L236.35,241.30 L236.95,241.30 L237.55,241.30 L238.15,241.30 L238.75,241.30 L239.35,241.30 L239.96,241.30 L240.56,241.30 L241.16,241.30 L241.76,241.30 L242.36,241.30 L242.96,241.30 L243.57,241.30 L244.17,241.30 L244.77,241.30 L245.37,241.30 L245.97,241.30 L246.57,241.30 L247.17,241.30 L247.78,241.30 L248.38,241.30 L248.98,241.30 L249.58,241.30 L250.18,241.30 L250.78,241.30 L251.39,241.30 L251.99,241.30 L252.59,241.30 L253.19,241.30 L253.79,241.30 L254.39,241.30 L255.00,241.30 L255.60,241.30 L256.20,241.30 L256.80,241.30 L257.41,241.23 L258.03,241.15 L258.64,241.08 L259.25,241.01 L259.87,240.92 L260.48,240.84 L261.09,240.80 L261.71,240.70 L262.32,240.62 L262.93,240.54 L263.55,240.52 L264.16,240.45 L264.77,240.36 L265.39,240.25 L266.00,240.17 L266.62,239.99 L267.24,239.83 L267.86,239.60 L268.48,239.47 L269.10,239.25 L269.72,239.22 L270.34,239.05 L270.96,238.77 L271.58,238.51 L272.20,238.54 L272.80,237.86 L273.40,237.38 L274.00,236.74 L274.60,236.42 L275.20,235.99 L275.82,234.94 L276.44,233.66 L277.06,232.82 L277.68,231.29 L278.30,230.45 L279.07,227.59 L279.83,225.41 L280.60,222.16 L281.22,220.18 L281.84,218.85 L282.46,216.78 L283.08,215.78 L283.70,213.78 L284.47,211.89 L285.23,209.08 L286.00,206.76 L286.77,205.86 L287.53,202.51 L288.30,200.71 L289.07,202.86 L289.83,198.97 L290.60,200.83 L291.60,197.83 L292.20,193.10 L292.80,200.61 L293.70,205.94 L294.47,208.52 L295.23,212.39 L296.00,216.11 L296.77,217.54 L297.53,221.48 L298.30,224.51 L299.07,228.03 L299.83,230.96 L300.60,233.95 L301.37,235.81 L302.13,237.97 L302.90,239.93 L303.55,240.27 L304.20,240.58 L304.85,240.93 L305.50,241.30 L305.50,241.30 L180.40,241.30Z" fill="#9aafa3" opacity="1.0"/>
<path d="M180.40,241.30 L181.00,241.30 L181.60,241.30 L182.20,241.30 L182.81,241.30 L183.41,241.30 L184.01,241.30 L184.61,241.30 L185.21,241.30 L185.81,241.30 L186.42,241.30 L187.02,241.30 L187.62,241.30 L188.22,241.30 L188.82,241.30 L189.42,241.30 L190.03,241.30 L190.63,241.30 L191.23,241.30 L191.83,241.30 L192.43,241.30 L193.03,241.30 L193.63,241.30 L194.24,241.30 L194.84,241.30 L195.44,241.30 L196.04,241.30 L196.64,241.30 L197.24,241.30 L197.85,241.30 L198.45,241.30 L199.05,241.30 L199.65,241.30 L200.25,241.30 L200.85,241.30 L201.46,241.30 L202.06,241.30 L202.66,241.30 L203.26,241.30 L203.86,241.30 L204.46,241.30 L205.06,241.30 L205.67,241.30 L206.27,241.30 L206.87,241.30 L207.47,241.30 L208.07,241.30 L208.67,241.30 L209.28,241.30 L209.88,241.30 L210.48,241.30 L211.08,241.30 L211.68,241.30 L212.28,241.30 L212.89,241.30 L213.49,241.30 L214.09,241.30 L214.69,241.30 L215.29,241.30 L215.89,241.30 L216.49,241.30 L217.10,241.30 L217.70,241.30 L218.30,241.30 L218.90,241.30 L219.50,241.30 L220.10,241.30 L220.71,241.30 L221.31,241.30 L221.91,241.30 L222.51,241.30 L223.11,241.30 L223.71,241.30 L224.31,241.30 L224.92,241.30 L225.52,241.30 L226.12,241.30 L226.72,241.30 L227.32,241.30 L227.92,241.30 L228.53,241.30 L229.13,241.30 L229.73,241.30 L230.33,241.30 L230.93,241.30 L231.53,241.30 L232.14,241.30 L232.74,241.30 L233.34,241.30 L233.94,241.30 L234.54,241.30 L235.14,241.30 L235.74,241.30 L236.35,241.30 L236.95,241.30 L237.55,241.30 L238.15,241.30 L238.75,241.30 L239.35,241.30 L239.96,241.30 L240.56,241.30 L241.16,241.30 L241.76,241.30 L242.36,241.30 L242.96,241.30 L243.57,241.30 L244.17,241.30 L244.77,241.30 L245.37,241.30 L245.97,241.30 L246.57,241.30 L247.17,241.30 L247.78,241.30 L248.38,241.30 L248.98,241.30 L249.58,241.30 L250.18,241.30 L250.78,241.30 L251.39,241.30 L251.99,241.30 L252.59,241.30 L253.19,241.30 L253.79,241.30 L254.39,241.30 L255.00,241.30 L255.60,241.30 L256.20,241.30 L256.80,241.30 L257.41,241.23 L258.03,241.15 L258.64,241.08 L259.25,241.01 L259.87,240.92 L260.48,240.84 L261.09,240.80 L261.71,240.70 L262.32,240.62 L262.93,240.54 L263.55,240.52 L264.16,240.45 L264.77,240.36 L265.39,240.25 L266.00,240.17 L266.62,239.99 L267.24,239.83 L267.86,239.60 L268.48,239.47 L269.10,239.25 L269.72,239.22 L270.34,239.05 L270.96,238.77 L271.58,238.51 L272.20,238.54 L272.80,237.86 L273.40,237.38 L274.00,236.74 L274.60,236.42 L275.20,235.99 L275.82,234.94 L276.44,233.66 L277.06,232.82 L277.68,231.29 L278.30,230.45 L279.07,227.59 L279.83,225.41 L280.60,222.16 L281.22,220.18 L281.84,218.85 L282.46,216.78 L283.08,215.78 L283.70,213.78 L284.47,211.89 L285.23,209.08 L286.00,206.76 L286.77,205.86 L287.53,202.51 L288.30,200.71 L289.07,202.86 L289.83,198.97 L290.60,200.83 L291.60,197.83 L292.20,193.10 L292.80,200.61 L293.70,205.94 L294.47,208.52 L295.23,212.39 L296.00,216.11 L296.77,217.54 L297.53,221.48 L298.30,224.51 L299.07,228.03 L299.83,230.96 L300.60,233.95 L301.37,235.81 L302.13,237.97 L302.90,239.93 L303.55,240.27 L304.20,240.58 L304.85,240.93 L305.50,241.30" fill="none" stroke="#000" stroke-width="1.0" stroke-linejoin="round"/>
<path d="M180.40,265.50 L181.00,265.50 L181.61,265.35 L182.21,265.10 L182.82,265.38 L183.42,264.58 L184.02,264.89 L184.63,264.81 L185.23,264.81 L185.84,264.75 L186.44,264.96 L187.04,265.50 L187.65,264.62 L188.25,264.68 L188.86,264.95 L189.46,264.91 L190.06,264.77 L190.67,265.43 L191.27,264.69 L191.88,265.22 L192.48,265.42 L193.08,265.21 L193.69,264.70 L194.29,265.27 L194.89,264.69 L195.50,264.43 L196.10,264.96 L196.71,265.08 L197.31,264.97 L197.91,264.75 L198.52,264.66 L199.12,264.82 L199.73,264.79 L200.33,265.41 L200.93,265.34 L201.54,265.22 L202.14,264.68 L202.75,265.17 L203.35,264.88 L203.95,265.49 L204.56,265.43 L205.16,265.20 L205.77,264.76 L206.37,264.74 L206.97,264.76 L207.58,265.18 L208.18,264.93 L208.79,264.99 L209.39,264.99 L209.99,265.37 L210.60,264.52 L211.20,265.28 L211.81,264.42 L212.41,264.47 L213.01,265.48 L213.62,265.00 L214.22,264.60 L214.82,264.44 L215.43,265.01 L216.03,265.20 L216.64,265.27 L217.24,264.46 L217.84,265.27 L218.45,264.86 L219.05,265.34 L219.66,264.92 L220.26,264.45 L220.86,265.35 L221.47,264.60 L222.07,264.94 L222.68,264.52 L223.28,264.73 L223.88,265.25 L224.49,264.51 L225.09,264.97 L225.70,265.47 L226.30,265.50 L226.90,264.96 L227.51,265.00 L228.11,265.17 L228.72,265.35 L229.32,265.12 L229.92,265.15 L230.53,264.58 L231.13,265.50 L231.74,264.67 L232.34,264.58 L232.94,265.37 L233.55,264.48 L234.15,264.72 L234.76,264.51 L235.36,265.18 L235.96,265.09 L236.57,265.07 L237.17,264.40 L237.77,264.85 L238.38,265.10 L238.98,265.03 L239.59,265.20 L240.19,265.45 L240.79,265.39 L241.40,264.58 L242.00,265.19 L242.61,264.47 L243.21,265.23 L243.81,265.21 L244.42,264.94 L245.02,265.29 L245.63,265.09 L246.23,264.45 L246.83,264.53 L247.44,264.61 L248.04,264.81 L248.65,264.50 L249.25,264.47 L249.85,264.90 L250.46,264.71 L251.06,265.45 L251.67,264.69 L252.27,265.00 L252.87,264.67 L253.48,264.79 L254.08,265.19 L254.69,265.45 L255.29,264.48 L255.89,265.36 L256.50,264.98 L257.10,265.12 L257.71,265.17 L258.31,264.69 L258.91,264.43 L259.52,265.21 L260.12,264.78 L260.73,265.17 L261.33,264.89 L261.93,265.07 L262.54,265.32 L263.14,265.32 L263.74,265.27 L264.35,264.50 L264.95,264.95 L265.56,265.26 L266.16,264.50 L266.76,264.40 L267.37,265.01 L267.97,265.35 L268.58,265.29 L269.18,265.40 L269.78,265.12 L270.39,265.40 L270.99,265.24 L271.60,265.22 L272.20,264.87 L272.80,264.92 L273.40,264.33 L274.00,263.68 L274.70,262.83 L275.40,262.01 L276.10,261.10 L276.80,260.22 L277.40,259.11 L278.00,258.30 L278.60,257.91 L279.20,256.29 L279.80,255.70 L280.60,253.79 L281.40,252.07 L282.20,249.05 L282.97,246.51 L283.73,243.84 L284.50,241.56 L285.27,238.09 L286.03,236.07 L286.80,232.30 L287.57,231.39 L288.33,227.29 L289.10,226.25 L289.85,227.66 L290.60,227.27 L291.40,223.29 L292.20,221.49 L292.95,223.29 L293.70,229.11 L294.47,235.47 L295.23,239.64 L296.00,244.19 L296.77,247.84 L297.53,250.16 L298.30,253.65 L299.07,256.12 L299.83,258.78 L300.60,261.18 L301.37,262.51 L302.13,263.67 L302.90,264.91 L303.55,265.06 L304.20,265.20 L304.85,265.35 L305.50,265.50 L305.50,265.50 L180.40,265.50Z" fill="#5d8dd1" opacity="0.5"/>
<path d="M180.40,265.50 L181.00,265.50 L181.61,265.35 L182.21,265.10 L182.82,265.38 L183.42,264.58 L184.02,264.89 L184.63,264.81 L185.23,264.81 L185.84,264.75 L186.44,264.96 L187.04,265.50 L187.65,264.62 L188.25,264.68 L188.86,264.95 L189.46,264.91 L190.06,264.77 L190.67,265.43 L191.27,264.69 L191.88,265.22 L192.48,265.42 L193.08,265.21 L193.69,264.70 L194.29,265.27 L194.89,264.69 L195.50,264.43 L196.10,264.96 L196.71,265.08 L197.31,264.97 L197.91,264.75 L198.52,264.66 L199.12,264.82 L199.73,264.79 L200.33,265.41 L200.93,265.34 L201.54,265.22 L202.14,264.68 L202.75,265.17 L203.35,264.88 L203.95,265.49 L204.56,265.43 L205.16,265.20 L205.77,264.76 L206.37,264.74 L206.97,264.76 L207.58,265.18 L208.18,264.93 L208.79,264.99 L209.39,264.99 L209.99,265.37 L210.60,264.52 L211.20,265.28 L211.81,264.42 L212.41,264.47 L213.01,265.48 L213.62,265.00 L214.22,264.60 L214.82,264.44 L215.43,265.01 L216.03,265.20 L216.64,265.27 L217.24,264.46 L217.84,265.27 L218.45,264.86 L219.05,265.34 L219.66,264.92 L220.26,264.45 L220.86,265.35 L221.47,264.60 L222.07,264.94 L222.68,264.52 L223.28,264.73 L223.88,265.25 L224.49,264.51 L225.09,264.97 L225.70,265.47 L226.30,265.50 L226.90,264.96 L227.51,265.00 L228.11,265.17 L228.72,265.35 L229.32,265.12 L229.92,265.15 L230.53,264.58 L231.13,265.50 L231.74,264.67 L232.34,264.58 L232.94,265.37 L233.55,264.48 L234.15,264.72 L234.76,264.51 L235.36,265.18 L235.96,265.09 L236.57,265.07 L237.17,264.40 L237.77,264.85 L238.38,265.10 L238.98,265.03 L239.59,265.20 L240.19,265.45 L240.79,265.39 L241.40,264.58 L242.00,265.19 L242.61,264.47 L243.21,265.23 L243.81,265.21 L244.42,264.94 L245.02,265.29 L245.63,265.09 L246.23,264.45 L246.83,264.53 L247.44,264.61 L248.04,264.81 L248.65,264.50 L249.25,264.47 L249.85,264.90 L250.46,264.71 L251.06,265.45 L251.67,264.69 L252.27,265.00 L252.87,264.67 L253.48,264.79 L254.08,265.19 L254.69,265.45 L255.29,264.48 L255.89,265.36 L256.50,264.98 L257.10,265.12 L257.71,265.17 L258.31,264.69 L258.91,264.43 L259.52,265.21 L260.12,264.78 L260.73,265.17 L261.33,264.89 L261.93,265.07 L262.54,265.32 L263.14,265.32 L263.74,265.27 L264.35,264.50 L264.95,264.95 L265.56,265.26 L266.16,264.50 L266.76,264.40 L267.37,265.01 L267.97,265.35 L268.58,265.29 L269.18,265.40 L269.78,265.12 L270.39,265.40 L270.99,265.24 L271.60,265.22 L272.20,264.87 L272.80,264.92 L273.40,264.33 L274.00,263.68 L274.70,262.83 L275.40,262.01 L276.10,261.10 L276.80,260.22 L277.40,259.11 L278.00,258.30 L278.60,257.91 L279.20,256.29 L279.80,255.70 L280.60,253.79 L281.40,252.07 L282.20,249.05 L282.97,246.51 L283.73,243.84 L284.50,241.56 L285.27,238.09 L286.03,236.07 L286.80,232.30 L287.57,231.39 L288.33,227.29 L289.10,226.25 L289.85,227.66 L290.60,227.27 L291.40,223.29 L292.20,221.49 L292.95,223.29 L293.70,229.11 L294.47,235.47 L295.23,239.64 L296.00,244.19 L296.77,247.84 L297.53,250.16 L298.30,253.65 L299.07,256.12 L299.83,258.78 L300.60,261.18 L301.37,262.51 L302.13,263.67 L302.90,264.91 L303.55,265.06 L304.20,265.20 L304.85,265.35 L305.50,265.50" fill="none" stroke="#1f3ce0" stroke-width="1.0" stroke-linejoin="round"/>
<path d="M180.40,289.00 L181.01,289.00 L181.62,288.73 L182.24,288.67 L182.85,288.98 L183.46,288.53 L184.08,288.86 L184.69,288.45 L185.30,288.61 L185.91,288.82 L186.53,288.92 L187.14,288.85 L187.75,288.62 L188.36,288.58 L188.97,288.93 L189.59,288.96 L190.20,288.69 L190.81,288.65 L191.43,288.77 L192.04,288.87 L192.65,288.64 L193.26,288.99 L193.88,288.82 L194.49,288.72 L195.10,288.42 L195.71,288.61 L196.32,288.47 L196.94,288.71 L197.55,288.86 L198.16,288.85 L198.78,288.42 L199.39,288.58 L200.00,288.82 L200.60,288.99 L201.20,288.70 L201.80,288.60 L202.40,288.75 L203.00,288.85 L203.60,288.60 L204.20,288.44 L204.80,288.86 L205.40,288.98 L206.00,288.80 L206.60,288.75 L207.20,288.59 L207.80,288.68 L208.40,288.69 L209.00,288.66 L209.60,288.62 L210.20,288.58 L210.80,288.61 L211.40,288.54 L212.00,288.56 L212.60,288.48 L213.20,288.46 L213.80,288.48 L214.40,288.41 L215.00,288.46 L215.60,288.39 L216.20,288.33 L216.80,288.31 L217.40,288.31 L218.00,288.32 L218.60,288.33 L219.20,288.20 L219.80,288.21 L220.40,288.16 L221.02,288.23 L221.64,288.06 L222.27,287.99 L222.89,287.95 L223.51,287.96 L224.13,288.02 L224.75,287.97 L225.37,287.90 L226.00,287.92 L226.62,287.86 L227.24,287.68 L227.86,287.60 L228.48,287.74 L229.10,287.65 L229.73,287.43 L230.35,287.55 L230.97,287.43 L231.59,287.38 L232.21,287.32 L232.83,287.23 L233.46,287.13 L234.08,287.17 L234.70,287.15 L235.32,287.13 L235.95,286.57 L236.57,286.69 L237.19,286.10 L237.82,285.93 L238.44,285.96 L239.06,285.73 L239.68,285.25 L240.31,284.73 L240.93,284.80 L241.55,284.48 L242.18,284.69 L242.80,283.83 L243.41,283.67 L244.02,283.89 L244.63,282.71 L245.24,282.80 L245.85,282.96 L246.46,282.62 L247.07,281.42 L247.68,281.09 L248.29,280.80 L248.90,281.70 L249.58,280.04 L250.27,280.15 L250.95,279.76 L251.63,278.06 L252.32,277.22 L253.00,277.99 L253.62,276.06 L254.24,273.94 L254.86,273.95 L255.48,271.56 L256.10,270.17 L256.80,268.36 L257.50,270.11 L258.27,267.85 L259.03,263.69 L259.80,262.31 L260.42,256.52 L261.04,256.68 L261.66,257.10 L262.28,259.01 L262.90,258.15 L263.52,253.92 L264.14,252.26 L264.76,252.61 L265.38,252.24 L266.00,254.39 L266.62,248.87 L267.24,252.67 L267.86,251.79 L268.48,251.95 L269.10,251.15 L269.87,248.46 L270.63,244.80 L271.40,243.16 L272.02,244.60 L272.64,248.91 L273.26,244.72 L273.88,246.74 L274.50,251.78 L275.10,248.54 L275.70,247.59 L276.30,247.70 L276.90,251.56 L277.50,250.32 L278.27,255.93 L279.03,256.51 L279.80,258.35 L280.42,254.94 L281.04,254.86 L281.66,255.92 L282.28,259.07 L282.90,261.10 L283.67,261.27 L284.43,261.83 L285.20,264.23 L285.80,266.42 L286.40,267.93 L287.00,269.49 L287.60,271.09 L288.28,271.45 L288.97,270.77 L289.65,273.93 L290.33,273.41 L291.02,275.15 L291.70,275.70 L292.38,277.53 L293.07,277.44 L293.75,278.60 L294.43,279.66 L295.12,280.59 L295.80,282.58 L296.48,283.04 L297.17,283.64 L297.85,284.57 L298.53,285.81 L299.22,286.35 L299.90,287.11 L300.58,287.58 L301.27,287.83 L301.95,288.18 L302.63,288.36 L303.32,288.70 L304.00,289.00 L304.75,289.00 L305.50,289.00 L305.50,289.00 L180.40,289.00Z" fill="#93476b" opacity="0.5"/>
<path d="M180.40,289.00 L181.01,289.00 L181.62,288.73 L182.24,288.67 L182.85,288.98 L183.46,288.53 L184.08,288.86 L184.69,288.45 L185.30,288.61 L185.91,288.82 L186.53,288.92 L187.14,288.85 L187.75,288.62 L188.36,288.58 L188.97,288.93 L189.59,288.96 L190.20,288.69 L190.81,288.65 L191.43,288.77 L192.04,288.87 L192.65,288.64 L193.26,288.99 L193.88,288.82 L194.49,288.72 L195.10,288.42 L195.71,288.61 L196.32,288.47 L196.94,288.71 L197.55,288.86 L198.16,288.85 L198.78,288.42 L199.39,288.58 L200.00,288.82 L200.60,288.99 L201.20,288.70 L201.80,288.60 L202.40,288.75 L203.00,288.85 L203.60,288.60 L204.20,288.44 L204.80,288.86 L205.40,288.98 L206.00,288.80 L206.60,288.75 L207.20,288.59 L207.80,288.68 L208.40,288.69 L209.00,288.66 L209.60,288.62 L210.20,288.58 L210.80,288.61 L211.40,288.54 L212.00,288.56 L212.60,288.48 L213.20,288.46 L213.80,288.48 L214.40,288.41 L215.00,288.46 L215.60,288.39 L216.20,288.33 L216.80,288.31 L217.40,288.31 L218.00,288.32 L218.60,288.33 L219.20,288.20 L219.80,288.21 L220.40,288.16 L221.02,288.23 L221.64,288.06 L222.27,287.99 L222.89,287.95 L223.51,287.96 L224.13,288.02 L224.75,287.97 L225.37,287.90 L226.00,287.92 L226.62,287.86 L227.24,287.68 L227.86,287.60 L228.48,287.74 L229.10,287.65 L229.73,287.43 L230.35,287.55 L230.97,287.43 L231.59,287.38 L232.21,287.32 L232.83,287.23 L233.46,287.13 L234.08,287.17 L234.70,287.15 L235.32,287.13 L235.95,286.57 L236.57,286.69 L237.19,286.10 L237.82,285.93 L238.44,285.96 L239.06,285.73 L239.68,285.25 L240.31,284.73 L240.93,284.80 L241.55,284.48 L242.18,284.69 L242.80,283.83 L243.41,283.67 L244.02,283.89 L244.63,282.71 L245.24,282.80 L245.85,282.96 L246.46,282.62 L247.07,281.42 L247.68,281.09 L248.29,280.80 L248.90,281.70 L249.58,280.04 L250.27,280.15 L250.95,279.76 L251.63,278.06 L252.32,277.22 L253.00,277.99 L253.62,276.06 L254.24,273.94 L254.86,273.95 L255.48,271.56 L256.10,270.17 L256.80,268.36 L257.50,270.11 L258.27,267.85 L259.03,263.69 L259.80,262.31 L260.42,256.52 L261.04,256.68 L261.66,257.10 L262.28,259.01 L262.90,258.15 L263.52,253.92 L264.14,252.26 L264.76,252.61 L265.38,252.24 L266.00,254.39 L266.62,248.87 L267.24,252.67 L267.86,251.79 L268.48,251.95 L269.10,251.15 L269.87,248.46 L270.63,244.80 L271.40,243.16 L272.02,244.60 L272.64,248.91 L273.26,244.72 L273.88,246.74 L274.50,251.78 L275.10,248.54 L275.70,247.59 L276.30,247.70 L276.90,251.56 L277.50,250.32 L278.27,255.93 L279.03,256.51 L279.80,258.35 L280.42,254.94 L281.04,254.86 L281.66,255.92 L282.28,259.07 L282.90,261.10 L283.67,261.27 L284.43,261.83 L285.20,264.23 L285.80,266.42 L286.40,267.93 L287.00,269.49 L287.60,271.09 L288.28,271.45 L288.97,270.77 L289.65,273.93 L290.33,273.41 L291.02,275.15 L291.70,275.70 L292.38,277.53 L293.07,277.44 L293.75,278.60 L294.43,279.66 L295.12,280.59 L295.80,282.58 L296.48,283.04 L297.17,283.64 L297.85,284.57 L298.53,285.81 L299.22,286.35 L299.90,287.11 L300.58,287.58 L301.27,287.83 L301.95,288.18 L302.63,288.36 L303.32,288.70 L304.00,289.00 L304.75,289.00 L305.50,289.00" fill="none" stroke="#6e0f1e" stroke-width="1.0" stroke-linejoin="round"/>
<path d="M180.40,312.40 L181.00,312.40 L181.60,312.40 L182.20,312.40 L182.80,312.40 L183.40,312.40 L184.01,312.40 L184.61,312.40 L185.21,312.40 L185.81,312.40 L186.41,312.40 L187.01,312.40 L187.61,312.40 L188.21,312.40 L188.81,312.40 L189.41,312.40 L190.01,312.40 L190.61,312.40 L191.22,312.40 L191.82,312.40 L192.42,312.40 L193.02,312.40 L193.62,312.40 L194.22,312.40 L194.82,312.40 L195.42,312.40 L196.02,312.40 L196.62,312.40 L197.22,312.40 L197.83,312.40 L198.43,312.40 L199.03,312.40 L199.63,312.40 L200.23,312.40 L200.83,312.40 L201.43,312.40 L202.03,312.40 L202.63,312.40 L203.23,312.40 L203.83,312.40 L204.44,312.40 L205.04,312.40 L205.64,312.40 L206.24,312.40 L206.84,312.40 L207.44,312.40 L208.04,312.40 L208.64,312.40 L209.24,312.40 L209.84,312.40 L210.44,312.40 L211.04,312.40 L211.65,312.40 L212.25,312.40 L212.85,312.40 L213.45,312.40 L214.05,312.40 L214.65,312.40 L215.25,312.40 L215.85,312.40 L216.45,312.40 L217.05,312.40 L217.65,312.40 L218.26,312.40 L218.86,312.40 L219.46,312.40 L220.06,312.40 L220.66,312.40 L221.26,312.40 L221.86,312.40 L222.46,312.40 L223.06,312.40 L223.66,312.40 L224.26,312.40 L224.86,312.40 L225.47,312.40 L226.07,312.40 L226.67,312.40 L227.27,312.40 L227.87,312.40 L228.47,312.40 L229.07,312.40 L229.67,312.40 L230.27,312.40 L230.87,312.40 L231.47,312.40 L232.08,312.40 L232.68,312.40 L233.28,312.40 L233.88,312.40 L234.48,312.40 L235.08,312.40 L235.68,312.40 L236.28,312.40 L236.88,312.40 L237.48,312.40 L238.08,312.40 L238.69,312.40 L239.29,312.40 L239.89,312.40 L240.49,312.40 L241.09,312.40 L241.69,312.40 L242.29,312.40 L242.89,312.40 L243.49,312.40 L244.09,312.40 L244.69,312.40 L245.29,312.40 L245.90,312.40 L246.50,312.40 L247.10,312.40 L247.70,312.40 L248.30,312.40 L248.90,312.40 L249.53,312.24 L250.16,312.09 L250.79,311.93 L251.42,311.78 L252.05,311.56 L252.68,311.41 L253.32,311.23 L253.95,311.07 L254.58,311.01 L255.21,310.80 L255.84,310.70 L256.47,310.44 L257.10,310.38 L257.71,309.78 L258.32,309.21 L258.93,308.87 L259.54,308.44 L260.15,307.57 L260.76,307.29 L261.37,306.80 L261.98,306.05 L262.59,305.62 L263.20,304.94 L263.81,304.36 L264.42,303.77 L265.03,303.46 L265.64,302.91 L266.25,301.85 L266.86,301.01 L267.47,300.73 L268.08,300.54 L268.69,299.31 L269.30,298.85 L269.98,296.96 L270.67,296.19 L271.35,294.09 L272.03,291.42 L272.72,289.73 L273.40,288.65 L274.08,287.67 L274.77,286.56 L275.45,283.72 L276.13,282.53 L276.82,282.74 L277.50,280.51 L278.17,278.72 L278.83,277.41 L279.50,278.32 L280.17,274.64 L280.83,274.22 L281.50,272.03 L282.12,271.24 L282.74,272.08 L283.36,271.67 L283.98,267.92 L284.60,266.14 L285.27,268.20 L285.93,265.48 L286.60,264.23 L287.22,269.13 L287.84,267.80 L288.46,270.35 L289.08,269.38 L289.70,272.20 L290.30,271.86 L290.90,272.13 L291.50,273.04 L292.10,276.47 L292.70,278.19 L293.32,280.89 L293.94,280.11 L294.56,283.58 L295.18,284.71 L295.80,286.91 L296.42,288.52 L297.04,291.33 L297.66,294.26 L298.28,297.33 L298.90,298.58 L299.50,301.13 L300.10,303.46 L300.70,305.56 L301.30,307.10 L301.90,309.18 L302.60,310.42 L303.30,311.42 L304.00,312.40 L304.75,312.40 L305.50,312.40 L305.50,312.40 L180.40,312.40Z" fill="#61c151" opacity="0.5"/>
<path d="M180.40,312.40 L181.00,312.40 L181.60,312.40 L182.20,312.40 L182.80,312.40 L183.40,312.40 L184.01,312.40 L184.61,312.40 L185.21,312.40 L185.81,312.40 L186.41,312.40 L187.01,312.40 L187.61,312.40 L188.21,312.40 L188.81,312.40 L189.41,312.40 L190.01,312.40 L190.61,312.40 L191.22,312.40 L191.82,312.40 L192.42,312.40 L193.02,312.40 L193.62,312.40 L194.22,312.40 L194.82,312.40 L195.42,312.40 L196.02,312.40 L196.62,312.40 L197.22,312.40 L197.83,312.40 L198.43,312.40 L199.03,312.40 L199.63,312.40 L200.23,312.40 L200.83,312.40 L201.43,312.40 L202.03,312.40 L202.63,312.40 L203.23,312.40 L203.83,312.40 L204.44,312.40 L205.04,312.40 L205.64,312.40 L206.24,312.40 L206.84,312.40 L207.44,312.40 L208.04,312.40 L208.64,312.40 L209.24,312.40 L209.84,312.40 L210.44,312.40 L211.04,312.40 L211.65,312.40 L212.25,312.40 L212.85,312.40 L213.45,312.40 L214.05,312.40 L214.65,312.40 L215.25,312.40 L215.85,312.40 L216.45,312.40 L217.05,312.40 L217.65,312.40 L218.26,312.40 L218.86,312.40 L219.46,312.40 L220.06,312.40 L220.66,312.40 L221.26,312.40 L221.86,312.40 L222.46,312.40 L223.06,312.40 L223.66,312.40 L224.26,312.40 L224.86,312.40 L225.47,312.40 L226.07,312.40 L226.67,312.40 L227.27,312.40 L227.87,312.40 L228.47,312.40 L229.07,312.40 L229.67,312.40 L230.27,312.40 L230.87,312.40 L231.47,312.40 L232.08,312.40 L232.68,312.40 L233.28,312.40 L233.88,312.40 L234.48,312.40 L235.08,312.40 L235.68,312.40 L236.28,312.40 L236.88,312.40 L237.48,312.40 L238.08,312.40 L238.69,312.40 L239.29,312.40 L239.89,312.40 L240.49,312.40 L241.09,312.40 L241.69,312.40 L242.29,312.40 L242.89,312.40 L243.49,312.40 L244.09,312.40 L244.69,312.40 L245.29,312.40 L245.90,312.40 L246.50,312.40 L247.10,312.40 L247.70,312.40 L248.30,312.40 L248.90,312.40 L249.53,312.24 L250.16,312.09 L250.79,311.93 L251.42,311.78 L252.05,311.56 L252.68,311.41 L253.32,311.23 L253.95,311.07 L254.58,311.01 L255.21,310.80 L255.84,310.70 L256.47,310.44 L257.10,310.38 L257.71,309.78 L258.32,309.21 L258.93,308.87 L259.54,308.44 L260.15,307.57 L260.76,307.29 L261.37,306.80 L261.98,306.05 L262.59,305.62 L263.20,304.94 L263.81,304.36 L264.42,303.77 L265.03,303.46 L265.64,302.91 L266.25,301.85 L266.86,301.01 L267.47,300.73 L268.08,300.54 L268.69,299.31 L269.30,298.85 L269.98,296.96 L270.67,296.19 L271.35,294.09 L272.03,291.42 L272.72,289.73 L273.40,288.65 L274.08,287.67 L274.77,286.56 L275.45,283.72 L276.13,282.53 L276.82,282.74 L277.50,280.51 L278.17,278.72 L278.83,277.41 L279.50,278.32 L280.17,274.64 L280.83,274.22 L281.50,272.03 L282.12,271.24 L282.74,272.08 L283.36,271.67 L283.98,267.92 L284.60,266.14 L285.27,268.20 L285.93,265.48 L286.60,264.23 L287.22,269.13 L287.84,267.80 L288.46,270.35 L289.08,269.38 L289.70,272.20 L290.30,271.86 L290.90,272.13 L291.50,273.04 L292.10,276.47 L292.70,278.19 L293.32,280.89 L293.94,280.11 L294.56,283.58 L295.18,284.71 L295.80,286.91 L296.42,288.52 L297.04,291.33 L297.66,294.26 L298.28,297.33 L298.90,298.58 L299.50,301.13 L300.10,303.46 L300.70,305.56 L301.30,307.10 L301.90,309.18 L302.60,310.42 L303.30,311.42 L304.00,312.40 L304.75,312.40 L305.50,312.40" fill="none" stroke="#1f9a10" stroke-width="1.0" stroke-linejoin="round"/>
<rect x="180.40" y="194.60" width="125.10" height="117.80" fill="none" stroke="#000" stroke-width="1.3" rx="0" />
<line x1="186.70" y1="312.40" x2="186.70" y2="315.00" stroke="#000" stroke-width="0.9" />
<line x1="192.10" y1="312.40" x2="192.10" y2="315.00" stroke="#000" stroke-width="0.9" />
<line x1="196.20" y1="312.40" x2="196.20" y2="315.00" stroke="#000" stroke-width="0.9" />
<line x1="200.20" y1="312.40" x2="200.20" y2="315.00" stroke="#000" stroke-width="0.9" />
<line x1="210.00" y1="312.40" x2="210.00" y2="315.00" stroke="#000" stroke-width="0.9" />
<line x1="213.30" y1="312.40" x2="213.30" y2="315.00" stroke="#000" stroke-width="0.9" />
<line x1="216.40" y1="312.40" x2="216.40" y2="315.00" stroke="#000" stroke-width="0.9" />
<line x1="219.00" y1="312.40" x2="219.00" y2="315.00" stroke="#000" stroke-width="0.9" />
<line x1="222.70" y1="312.40" x2="222.70" y2="315.00" stroke="#000" stroke-width="0.9" />
<line x1="266.20" y1="312.40" x2="266.20" y2="315.00" stroke="#000" stroke-width="0.9" />
<line x1="271.00" y1="312.40" x2="271.00" y2="315.00" stroke="#000" stroke-width="0.9" />
<line x1="274.70" y1="312.40" x2="274.70" y2="315.00" stroke="#000" stroke-width="0.9" />
<line x1="277.40" y1="312.40" x2="277.40" y2="315.00" stroke="#000" stroke-width="0.9" />
<line x1="280.10" y1="312.40" x2="280.10" y2="315.00" stroke="#000" stroke-width="0.9" />
<line x1="282.80" y1="312.40" x2="282.80" y2="315.00" stroke="#000" stroke-width="0.9" />
<line x1="285.10" y1="312.40" x2="285.10" y2="315.00" stroke="#000" stroke-width="0.9" />
<line x1="287.40" y1="312.40" x2="287.40" y2="315.00" stroke="#000" stroke-width="0.9" />
<line x1="299.90" y1="312.40" x2="299.90" y2="315.00" stroke="#000" stroke-width="0.9" />
<line x1="205.60" y1="312.40" x2="205.60" y2="316.30" stroke="#000" stroke-width="1.0" />
<line x1="255.50" y1="312.40" x2="255.50" y2="316.30" stroke="#000" stroke-width="1.0" />
<line x1="291.40" y1="312.40" x2="291.40" y2="316.30" stroke="#000" stroke-width="1.0" />
<text x="204.50" y="322.40" font-size="6.4" fill="#111" text-anchor="middle" stroke="#111" stroke-width="0.15">0</text>
<text x="281.60" y="323.60" font-size="7.6" fill="#111" textLength="7.60" lengthAdjust="spacingAndGlyphs" stroke="#111" stroke-width="0.15">10</text>
<text x="289.30" y="320.90" font-size="4.6" fill="#111" >4</text>
<text x="233.60" y="332.80" font-size="9.2" fill="#2a2a2a" textLength="18.10" lengthAdjust="spacingAndGlyphs" stroke="#2a2a2a" stroke-width="0.15">CD25</text>
<path d="M320.70,241.30 L321.30,241.30 L321.90,241.30 L322.50,241.30 L323.10,241.30 L323.71,241.30 L324.31,241.30 L324.91,241.30 L325.51,241.30 L326.11,241.30 L326.71,241.30 L327.31,241.30 L327.91,241.30 L328.52,241.30 L329.12,241.30 L329.72,241.30 L330.32,241.30 L330.92,241.30 L331.52,241.30 L332.12,241.30 L332.72,241.30 L333.33,241.30 L333.93,241.30 L334.53,241.30 L335.13,241.30 L335.73,241.30 L336.33,241.30 L336.93,241.30 L337.53,241.30 L338.14,241.30 L338.74,241.30 L339.34,241.30 L339.94,241.30 L340.54,241.30 L341.14,241.30 L341.74,241.30 L342.34,241.30 L342.95,241.30 L343.55,241.30 L344.15,241.30 L344.75,241.30 L345.35,241.30 L345.95,241.30 L346.55,241.30 L347.15,241.30 L347.75,241.30 L348.36,241.30 L348.96,241.30 L349.56,241.30 L350.16,241.30 L350.76,241.30 L351.36,241.30 L351.96,241.30 L352.56,241.30 L353.17,241.30 L353.77,241.30 L354.37,241.30 L354.97,241.30 L355.57,241.30 L356.17,241.30 L356.77,241.30 L357.37,241.30 L357.98,241.30 L358.58,241.30 L359.18,241.30 L359.78,241.30 L360.38,241.30 L360.98,241.30 L361.58,241.30 L362.18,241.30 L362.79,241.30 L363.39,241.30 L363.99,241.30 L364.59,241.30 L365.19,241.30 L365.79,241.30 L366.39,241.30 L366.99,241.30 L367.60,241.30 L368.20,241.30 L368.80,241.30 L369.40,241.30 L370.00,241.30 L370.62,241.28 L371.23,241.25 L371.85,241.23 L372.46,241.20 L373.08,241.18 L373.70,241.16 L374.31,241.13 L374.93,241.11 L375.54,241.08 L376.16,241.06 L376.78,241.04 L377.39,241.01 L378.01,240.99 L378.62,240.95 L379.24,240.96 L379.86,240.91 L380.47,240.91 L381.09,240.87 L381.70,240.86 L382.32,240.80 L382.94,240.81 L383.55,240.75 L384.17,240.74 L384.78,240.75 L385.40,240.72 L386.01,240.27 L386.62,239.87 L387.23,239.51 L387.84,239.14 L388.45,238.71 L389.06,238.23 L389.67,237.87 L390.28,237.68 L390.89,237.39 L391.50,236.55 L392.18,236.16 L392.85,235.63 L393.52,234.41 L394.20,234.39 L394.88,233.06 L395.55,232.85 L396.22,232.13 L396.90,231.55 L397.56,230.28 L398.21,229.55 L398.87,228.91 L399.53,227.80 L400.19,227.31 L400.84,226.07 L401.50,225.18 L402.15,223.03 L402.80,223.00 L403.45,221.42 L404.10,219.50 L404.75,219.59 L405.40,218.40 L406.02,215.47 L406.64,212.53 L407.26,211.50 L407.88,208.11 L408.50,206.10 L409.10,205.77 L409.70,202.72 L410.30,202.71 L410.90,201.49 L411.50,197.62 L412.12,200.04 L412.75,196.67 L413.38,199.46 L414.00,199.15 L414.73,197.46 L415.47,194.74 L416.20,196.82 L416.97,196.35 L417.73,199.59 L418.50,195.48 L419.27,199.82 L420.03,201.08 L420.80,200.28 L421.43,201.43 L422.07,199.14 L422.70,203.71 L423.33,202.13 L423.97,205.04 L424.60,205.58 L425.25,203.52 L425.90,207.48 L426.55,209.29 L427.20,207.14 L427.85,209.56 L428.50,212.32 L429.10,212.26 L429.70,216.63 L430.30,216.75 L430.90,220.23 L431.50,220.55 L432.12,223.56 L432.74,226.51 L433.36,227.41 L433.98,229.72 L434.60,232.21 L435.22,233.27 L435.84,234.31 L436.46,235.71 L437.08,236.99 L437.70,238.55 L438.32,239.03 L438.94,239.64 L439.56,240.09 L440.18,240.74 L440.80,241.30 L441.45,241.30 L442.10,241.30 L442.75,241.30 L443.40,241.30 L444.05,241.30 L444.70,241.30 L445.35,241.30 L446.00,241.30 L446.00,241.30 L320.70,241.30Z" fill="#9aafa3" opacity="1.0"/>
<path d="M320.70,241.30 L321.30,241.30 L321.90,241.30 L322.50,241.30 L323.10,241.30 L323.71,241.30 L324.31,241.30 L324.91,241.30 L325.51,241.30 L326.11,241.30 L326.71,241.30 L327.31,241.30 L327.91,241.30 L328.52,241.30 L329.12,241.30 L329.72,241.30 L330.32,241.30 L330.92,241.30 L331.52,241.30 L332.12,241.30 L332.72,241.30 L333.33,241.30 L333.93,241.30 L334.53,241.30 L335.13,241.30 L335.73,241.30 L336.33,241.30 L336.93,241.30 L337.53,241.30 L338.14,241.30 L338.74,241.30 L339.34,241.30 L339.94,241.30 L340.54,241.30 L341.14,241.30 L341.74,241.30 L342.34,241.30 L342.95,241.30 L343.55,241.30 L344.15,241.30 L344.75,241.30 L345.35,241.30 L345.95,241.30 L346.55,241.30 L347.15,241.30 L347.75,241.30 L348.36,241.30 L348.96,241.30 L349.56,241.30 L350.16,241.30 L350.76,241.30 L351.36,241.30 L351.96,241.30 L352.56,241.30 L353.17,241.30 L353.77,241.30 L354.37,241.30 L354.97,241.30 L355.57,241.30 L356.17,241.30 L356.77,241.30 L357.37,241.30 L357.98,241.30 L358.58,241.30 L359.18,241.30 L359.78,241.30 L360.38,241.30 L360.98,241.30 L361.58,241.30 L362.18,241.30 L362.79,241.30 L363.39,241.30 L363.99,241.30 L364.59,241.30 L365.19,241.30 L365.79,241.30 L366.39,241.30 L366.99,241.30 L367.60,241.30 L368.20,241.30 L368.80,241.30 L369.40,241.30 L370.00,241.30 L370.62,241.28 L371.23,241.25 L371.85,241.23 L372.46,241.20 L373.08,241.18 L373.70,241.16 L374.31,241.13 L374.93,241.11 L375.54,241.08 L376.16,241.06 L376.78,241.04 L377.39,241.01 L378.01,240.99 L378.62,240.95 L379.24,240.96 L379.86,240.91 L380.47,240.91 L381.09,240.87 L381.70,240.86 L382.32,240.80 L382.94,240.81 L383.55,240.75 L384.17,240.74 L384.78,240.75 L385.40,240.72 L386.01,240.27 L386.62,239.87 L387.23,239.51 L387.84,239.14 L388.45,238.71 L389.06,238.23 L389.67,237.87 L390.28,237.68 L390.89,237.39 L391.50,236.55 L392.18,236.16 L392.85,235.63 L393.52,234.41 L394.20,234.39 L394.88,233.06 L395.55,232.85 L396.22,232.13 L396.90,231.55 L397.56,230.28 L398.21,229.55 L398.87,228.91 L399.53,227.80 L400.19,227.31 L400.84,226.07 L401.50,225.18 L402.15,223.03 L402.80,223.00 L403.45,221.42 L404.10,219.50 L404.75,219.59 L405.40,218.40 L406.02,215.47 L406.64,212.53 L407.26,211.50 L407.88,208.11 L408.50,206.10 L409.10,205.77 L409.70,202.72 L410.30,202.71 L410.90,201.49 L411.50,197.62 L412.12,200.04 L412.75,196.67 L413.38,199.46 L414.00,199.15 L414.73,197.46 L415.47,194.74 L416.20,196.82 L416.97,196.35 L417.73,199.59 L418.50,195.48 L419.27,199.82 L420.03,201.08 L420.80,200.28 L421.43,201.43 L422.07,199.14 L422.70,203.71 L423.33,202.13 L423.97,205.04 L424.60,205.58 L425.25,203.52 L425.90,207.48 L426.55,209.29 L427.20,207.14 L427.85,209.56 L428.50,212.32 L429.10,212.26 L429.70,216.63 L430.30,216.75 L430.90,220.23 L431.50,220.55 L432.12,223.56 L432.74,226.51 L433.36,227.41 L433.98,229.72 L434.60,232.21 L435.22,233.27 L435.84,234.31 L436.46,235.71 L437.08,236.99 L437.70,238.55 L438.32,239.03 L438.94,239.64 L439.56,240.09 L440.18,240.74 L440.80,241.30 L441.45,241.30 L442.10,241.30 L442.75,241.30 L443.40,241.30 L444.05,241.30 L444.70,241.30 L445.35,241.30 L446.00,241.30" fill="none" stroke="#000" stroke-width="1.0" stroke-linejoin="round"/>
<path d="M320.70,265.50 L321.30,265.50 L321.91,265.37 L322.51,264.92 L323.12,264.80 L323.72,265.10 L324.33,264.54 L324.93,264.89 L325.54,264.86 L326.14,264.53 L326.75,265.38 L327.35,264.41 L327.96,264.81 L328.56,265.07 L329.17,264.62 L329.77,265.21 L330.37,264.41 L330.98,264.86 L331.58,265.10 L332.19,264.66 L332.79,265.01 L333.40,265.31 L334.00,264.68 L334.61,265.45 L335.21,264.60 L335.82,265.22 L336.42,264.80 L337.03,264.42 L337.63,264.86 L338.24,264.77 L338.84,265.16 L339.44,265.50 L340.05,265.46 L340.65,265.34 L341.26,264.82 L341.86,265.02 L342.47,264.94 L343.07,264.51 L343.68,265.35 L344.28,265.25 L344.89,264.78 L345.49,265.48 L346.10,265.50 L346.70,265.11 L347.31,265.38 L347.91,265.11 L348.51,265.25 L349.12,264.86 L349.72,264.85 L350.33,265.28 L350.93,264.81 L351.54,264.98 L352.14,265.35 L352.75,264.47 L353.35,265.23 L353.96,265.34 L354.56,265.39 L355.17,264.80 L355.77,264.54 L356.38,264.64 L356.98,265.06 L357.59,265.21 L358.19,265.49 L358.79,264.79 L359.40,264.88 L360.00,265.11 L360.61,264.79 L361.21,265.01 L361.82,264.47 L362.42,264.69 L363.03,265.23 L363.63,264.51 L364.24,265.45 L364.84,264.92 L365.45,265.05 L366.05,265.24 L366.66,265.44 L367.26,264.64 L367.86,265.49 L368.47,264.89 L369.07,264.46 L369.68,265.34 L370.28,265.28 L370.89,264.83 L371.49,264.94 L372.10,264.79 L372.70,264.61 L373.31,265.31 L373.91,265.16 L374.52,265.17 L375.12,265.45 L375.73,264.52 L376.33,264.64 L376.93,264.71 L377.54,265.49 L378.14,264.57 L378.75,264.68 L379.35,264.99 L379.96,264.68 L380.56,265.00 L381.17,265.25 L381.77,265.38 L382.38,265.24 L382.98,265.46 L383.59,265.13 L384.19,264.68 L384.80,264.74 L385.40,264.57 L386.00,265.19 L386.60,264.85 L387.20,264.56 L387.80,264.22 L388.40,263.97 L389.00,263.61 L389.68,262.98 L390.37,262.55 L391.05,262.15 L391.73,261.26 L392.42,261.06 L393.10,260.00 L393.71,259.22 L394.33,258.28 L394.94,257.83 L395.55,257.17 L396.16,256.09 L396.77,254.68 L397.39,254.52 L398.00,252.84 L398.64,251.65 L399.27,251.76 L399.91,250.27 L400.55,249.38 L401.19,248.32 L401.83,248.02 L402.46,245.85 L403.10,245.74 L403.85,240.90 L404.60,236.98 L405.22,233.92 L405.84,233.51 L406.46,231.37 L407.08,228.71 L407.70,226.70 L408.35,227.02 L409.00,222.84 L409.65,225.43 L410.30,219.94 L411.00,220.14 L411.70,221.37 L412.40,226.27 L413.10,224.16 L413.80,223.99 L414.45,224.12 L415.10,224.85 L415.75,228.48 L416.40,228.83 L417.05,229.73 L417.70,230.52 L418.32,229.24 L418.94,232.94 L419.56,233.61 L420.18,236.80 L420.80,238.29 L421.40,239.71 L422.00,238.34 L422.60,242.00 L423.20,243.32 L423.80,244.58 L424.45,243.70 L425.10,245.28 L425.75,246.40 L426.40,247.59 L427.05,250.47 L427.70,251.64 L428.32,252.85 L428.94,254.62 L429.56,255.87 L430.18,257.05 L430.80,258.48 L431.40,259.44 L432.00,260.79 L432.60,261.42 L433.20,262.41 L433.80,263.38 L434.45,263.65 L435.10,264.06 L435.75,264.42 L436.40,264.82 L437.05,265.14 L437.70,265.15 L438.34,264.44 L438.98,264.95 L439.62,264.56 L440.25,264.82 L440.89,265.47 L441.53,265.05 L442.17,265.02 L442.81,264.65 L443.45,265.50 L444.08,265.50 L444.72,265.50 L445.36,265.50 L446.00,265.50 L446.00,265.50 L320.70,265.50Z" fill="#5d8dd1" opacity="0.5"/>
<path d="M320.70,265.50 L321.30,265.50 L321.91,265.37 L322.51,264.92 L323.12,264.80 L323.72,265.10 L324.33,264.54 L324.93,264.89 L325.54,264.86 L326.14,264.53 L326.75,265.38 L327.35,264.41 L327.96,264.81 L328.56,265.07 L329.17,264.62 L329.77,265.21 L330.37,264.41 L330.98,264.86 L331.58,265.10 L332.19,264.66 L332.79,265.01 L333.40,265.31 L334.00,264.68 L334.61,265.45 L335.21,264.60 L335.82,265.22 L336.42,264.80 L337.03,264.42 L337.63,264.86 L338.24,264.77 L338.84,265.16 L339.44,265.50 L340.05,265.46 L340.65,265.34 L341.26,264.82 L341.86,265.02 L342.47,264.94 L343.07,264.51 L343.68,265.35 L344.28,265.25 L344.89,264.78 L345.49,265.48 L346.10,265.50 L346.70,265.11 L347.31,265.38 L347.91,265.11 L348.51,265.25 L349.12,264.86 L349.72,264.85 L350.33,265.28 L350.93,264.81 L351.54,264.98 L352.14,265.35 L352.75,264.47 L353.35,265.23 L353.96,265.34 L354.56,265.39 L355.17,264.80 L355.77,264.54 L356.38,264.64 L356.98,265.06 L357.59,265.21 L358.19,265.49 L358.79,264.79 L359.40,264.88 L360.00,265.11 L360.61,264.79 L361.21,265.01 L361.82,264.47 L362.42,264.69 L363.03,265.23 L363.63,264.51 L364.24,265.45 L364.84,264.92 L365.45,265.05 L366.05,265.24 L366.66,265.44 L367.26,264.64 L367.86,265.49 L368.47,264.89 L369.07,264.46 L369.68,265.34 L370.28,265.28 L370.89,264.83 L371.49,264.94 L372.10,264.79 L372.70,264.61 L373.31,265.31 L373.91,265.16 L374.52,265.17 L375.12,265.45 L375.73,264.52 L376.33,264.64 L376.93,264.71 L377.54,265.49 L378.14,264.57 L378.75,264.68 L379.35,264.99 L379.96,264.68 L380.56,265.00 L381.17,265.25 L381.77,265.38 L382.38,265.24 L382.98,265.46 L383.59,265.13 L384.19,264.68 L384.80,264.74 L385.40,264.57 L386.00,265.19 L386.60,264.85 L387.20,264.56 L387.80,264.22 L388.40,263.97 L389.00,263.61 L389.68,262.98 L390.37,262.55 L391.05,262.15 L391.73,261.26 L392.42,261.06 L393.10,260.00 L393.71,259.22 L394.33,258.28 L394.94,257.83 L395.55,257.17 L396.16,256.09 L396.77,254.68 L397.39,254.52 L398.00,252.84 L398.64,251.65 L399.27,251.76 L399.91,250.27 L400.55,249.38 L401.19,248.32 L401.83,248.02 L402.46,245.85 L403.10,245.74 L403.85,240.90 L404.60,236.98 L405.22,233.92 L405.84,233.51 L406.46,231.37 L407.08,228.71 L407.70,226.70 L408.35,227.02 L409.00,222.84 L409.65,225.43 L410.30,219.94 L411.00,220.14 L411.70,221.37 L412.40,226.27 L413.10,224.16 L413.80,223.99 L414.45,224.12 L415.10,224.85 L415.75,228.48 L416.40,228.83 L417.05,229.73 L417.70,230.52 L418.32,229.24 L418.94,232.94 L419.56,233.61 L420.18,236.80 L420.80,238.29 L421.40,239.71 L422.00,238.34 L422.60,242.00 L423.20,243.32 L423.80,244.58 L424.45,243.70 L425.10,245.28 L425.75,246.40 L426.40,247.59 L427.05,250.47 L427.70,251.64 L428.32,252.85 L428.94,254.62 L429.56,255.87 L430.18,257.05 L430.80,258.48 L431.40,259.44 L432.00,260.79 L432.60,261.42 L433.20,262.41 L433.80,263.38 L434.45,263.65 L435.10,264.06 L435.75,264.42 L436.40,264.82 L437.05,265.14 L437.70,265.15 L438.34,264.44 L438.98,264.95 L439.62,264.56 L440.25,264.82 L440.89,265.47 L441.53,265.05 L442.17,265.02 L442.81,264.65 L443.45,265.50 L444.08,265.50 L444.72,265.50 L445.36,265.50 L446.00,265.50" fill="none" stroke="#1f3ce0" stroke-width="1.0" stroke-linejoin="round"/>
<path d="M320.70,289.00 L321.31,289.00 L321.91,288.79 L322.52,288.58 L323.13,288.68 L323.74,288.87 L324.34,288.48 L324.95,288.95 L325.56,288.51 L326.17,288.90 L326.77,289.00 L327.38,288.88 L327.99,288.54 L328.60,288.41 L329.20,289.00 L329.81,288.71 L330.42,288.71 L331.03,288.52 L331.63,288.89 L332.24,288.70 L332.85,288.79 L333.46,288.50 L334.06,288.84 L334.67,288.43 L335.28,288.83 L335.89,288.87 L336.50,288.58 L337.10,288.70 L337.71,288.93 L338.32,288.62 L338.93,288.95 L339.53,288.53 L340.14,288.58 L340.75,288.53 L341.36,288.62 L341.96,288.79 L342.57,288.76 L343.18,288.76 L343.78,288.47 L344.39,288.95 L345.00,288.47 L345.62,288.98 L346.23,288.88 L346.85,288.84 L347.47,288.46 L348.09,288.70 L348.70,288.77 L349.32,288.72 L349.94,288.64 L350.56,288.61 L351.17,288.57 L351.79,288.54 L352.41,288.50 L353.03,288.45 L353.64,288.37 L354.26,288.33 L354.88,288.26 L355.50,288.31 L356.11,288.24 L356.73,288.21 L357.35,288.08 L357.97,288.08 L358.58,288.09 L359.20,288.01 L359.80,287.81 L360.40,287.75 L361.00,287.74 L361.60,287.46 L362.20,287.32 L362.80,287.23 L363.40,287.24 L364.00,287.17 L364.60,286.80 L365.20,286.68 L365.80,286.59 L366.40,286.50 L367.00,286.47 L367.60,286.17 L368.20,286.13 L368.80,285.94 L369.44,286.05 L370.08,285.60 L370.73,284.85 L371.37,285.15 L372.01,284.15 L372.65,284.05 L373.29,284.28 L373.93,283.79 L374.57,283.42 L375.22,282.78 L375.86,282.17 L376.50,282.37 L377.10,281.20 L377.70,280.81 L378.30,280.57 L378.90,279.52 L379.50,279.59 L380.10,279.78 L380.70,279.14 L381.30,278.30 L381.91,277.98 L382.52,277.05 L383.14,275.73 L383.75,276.19 L384.36,275.13 L384.98,275.39 L385.59,275.28 L386.20,273.41 L386.83,272.44 L387.47,271.65 L388.10,269.17 L388.73,267.04 L389.37,267.58 L390.00,266.92 L390.62,264.87 L391.24,262.91 L391.86,262.08 L392.48,259.56 L393.10,257.72 L393.76,255.08 L394.41,252.63 L395.07,253.12 L395.73,247.96 L396.39,248.61 L397.04,249.74 L397.70,247.75 L398.32,246.65 L398.94,243.21 L399.56,244.11 L400.18,243.90 L400.80,244.79 L401.46,243.40 L402.11,245.86 L402.77,248.21 L403.43,242.61 L404.09,246.65 L404.74,247.94 L405.40,245.24 L406.03,247.06 L406.67,251.66 L407.30,245.89 L407.93,250.54 L408.57,248.96 L409.20,254.16 L409.82,256.63 L410.44,255.50 L411.06,254.62 L411.68,258.87 L412.30,260.21 L412.92,262.90 L413.54,263.74 L414.16,266.11 L414.78,268.64 L415.40,269.28 L416.02,270.73 L416.65,274.15 L417.27,273.93 L417.90,276.91 L418.62,278.19 L419.35,280.71 L420.07,281.74 L420.80,284.53 L421.43,284.64 L422.07,285.11 L422.70,285.93 L423.33,286.66 L423.97,287.21 L424.60,287.99 L425.24,288.10 L425.89,288.25 L426.53,288.32 L427.18,288.42 L427.82,288.53 L428.47,288.68 L429.11,288.44 L429.76,288.68 L430.40,288.87 L431.00,288.52 L431.60,288.76 L432.20,288.87 L432.80,288.92 L433.40,288.53 L434.00,288.51 L434.60,288.62 L435.20,288.72 L435.80,288.66 L436.40,288.86 L437.00,288.42 L437.60,288.79 L438.20,288.62 L438.80,288.51 L439.40,288.51 L440.00,288.72 L440.60,288.82 L441.20,288.67 L441.80,288.92 L442.40,288.50 L443.00,289.00 L443.60,289.00 L444.20,289.00 L444.80,289.00 L445.40,289.00 L446.00,289.00 L446.00,289.00 L320.70,289.00Z" fill="#93476b" opacity="0.5"/>
<path d="M320.70,289.00 L321.31,289.00 L321.91,288.79 L322.52,288.58 L323.13,288.68 L323.74,288.87 L324.34,288.48 L324.95,288.95 L325.56,288.51 L326.17,288.90 L326.77,289.00 L327.38,288.88 L327.99,288.54 L328.60,288.41 L329.20,289.00 L329.81,288.71 L330.42,288.71 L331.03,288.52 L331.63,288.89 L332.24,288.70 L332.85,288.79 L333.46,288.50 L334.06,288.84 L334.67,288.43 L335.28,288.83 L335.89,288.87 L336.50,288.58 L337.10,288.70 L337.71,288.93 L338.32,288.62 L338.93,288.95 L339.53,288.53 L340.14,288.58 L340.75,288.53 L341.36,288.62 L341.96,288.79 L342.57,288.76 L343.18,288.76 L343.78,288.47 L344.39,288.95 L345.00,288.47 L345.62,288.98 L346.23,288.88 L346.85,288.84 L347.47,288.46 L348.09,288.70 L348.70,288.77 L349.32,288.72 L349.94,288.64 L350.56,288.61 L351.17,288.57 L351.79,288.54 L352.41,288.50 L353.03,288.45 L353.64,288.37 L354.26,288.33 L354.88,288.26 L355.50,288.31 L356.11,288.24 L356.73,288.21 L357.35,288.08 L357.97,288.08 L358.58,288.09 L359.20,288.01 L359.80,287.81 L360.40,287.75 L361.00,287.74 L361.60,287.46 L362.20,287.32 L362.80,287.23 L363.40,287.24 L364.00,287.17 L364.60,286.80 L365.20,286.68 L365.80,286.59 L366.40,286.50 L367.00,286.47 L367.60,286.17 L368.20,286.13 L368.80,285.94 L369.44,286.05 L370.08,285.60 L370.73,284.85 L371.37,285.15 L372.01,284.15 L372.65,284.05 L373.29,284.28 L373.93,283.79 L374.57,283.42 L375.22,282.78 L375.86,282.17 L376.50,282.37 L377.10,281.20 L377.70,280.81 L378.30,280.57 L378.90,279.52 L379.50,279.59 L380.10,279.78 L380.70,279.14 L381.30,278.30 L381.91,277.98 L382.52,277.05 L383.14,275.73 L383.75,276.19 L384.36,275.13 L384.98,275.39 L385.59,275.28 L386.20,273.41 L386.83,272.44 L387.47,271.65 L388.10,269.17 L388.73,267.04 L389.37,267.58 L390.00,266.92 L390.62,264.87 L391.24,262.91 L391.86,262.08 L392.48,259.56 L393.10,257.72 L393.76,255.08 L394.41,252.63 L395.07,253.12 L395.73,247.96 L396.39,248.61 L397.04,249.74 L397.70,247.75 L398.32,246.65 L398.94,243.21 L399.56,244.11 L400.18,243.90 L400.80,244.79 L401.46,243.40 L402.11,245.86 L402.77,248.21 L403.43,242.61 L404.09,246.65 L404.74,247.94 L405.40,245.24 L406.03,247.06 L406.67,251.66 L407.30,245.89 L407.93,250.54 L408.57,248.96 L409.20,254.16 L409.82,256.63 L410.44,255.50 L411.06,254.62 L411.68,258.87 L412.30,260.21 L412.92,262.90 L413.54,263.74 L414.16,266.11 L414.78,268.64 L415.40,269.28 L416.02,270.73 L416.65,274.15 L417.27,273.93 L417.90,276.91 L418.62,278.19 L419.35,280.71 L420.07,281.74 L420.80,284.53 L421.43,284.64 L422.07,285.11 L422.70,285.93 L423.33,286.66 L423.97,287.21 L424.60,287.99 L425.24,288.10 L425.89,288.25 L426.53,288.32 L427.18,288.42 L427.82,288.53 L428.47,288.68 L429.11,288.44 L429.76,288.68 L430.40,288.87 L431.00,288.52 L431.60,288.76 L432.20,288.87 L432.80,288.92 L433.40,288.53 L434.00,288.51 L434.60,288.62 L435.20,288.72 L435.80,288.66 L436.40,288.86 L437.00,288.42 L437.60,288.79 L438.20,288.62 L438.80,288.51 L439.40,288.51 L440.00,288.72 L440.60,288.82 L441.20,288.67 L441.80,288.92 L442.40,288.50 L443.00,289.00 L443.60,289.00 L444.20,289.00 L444.80,289.00 L445.40,289.00 L446.00,289.00" fill="none" stroke="#6e0f1e" stroke-width="1.0" stroke-linejoin="round"/>
<path d="M320.70,312.40 L321.31,312.40 L321.91,312.40 L322.52,312.40 L323.13,312.40 L323.74,312.40 L324.34,312.40 L324.95,312.40 L325.56,312.40 L326.17,312.40 L326.77,312.40 L327.38,312.40 L327.99,312.40 L328.60,312.40 L329.20,312.40 L329.81,312.40 L330.42,312.40 L331.03,312.40 L331.63,312.40 L332.24,312.40 L332.85,312.40 L333.46,312.40 L334.06,312.40 L334.67,312.40 L335.28,312.40 L335.89,312.40 L336.50,312.40 L337.10,312.40 L337.71,312.40 L338.32,312.40 L338.93,312.40 L339.53,312.40 L340.14,312.40 L340.75,312.40 L341.36,312.40 L341.96,312.40 L342.57,312.40 L343.18,312.40 L343.78,312.40 L344.39,312.40 L345.00,312.40 L345.60,312.38 L346.20,312.36 L346.80,312.34 L347.40,312.32 L348.00,312.30 L348.60,312.28 L349.20,312.26 L349.80,312.24 L350.40,312.22 L351.00,312.20 L351.60,312.18 L352.20,312.16 L352.80,312.14 L353.40,312.12 L354.00,312.10 L354.60,312.09 L355.20,312.05 L355.80,312.04 L356.40,312.01 L357.00,312.00 L357.60,311.97 L358.20,311.94 L358.80,311.95 L359.40,311.91 L360.00,311.89 L360.63,311.86 L361.26,311.84 L361.89,311.81 L362.51,311.79 L363.14,311.77 L363.77,311.72 L364.40,311.73 L365.03,311.70 L365.66,311.61 L366.29,311.64 L366.91,311.62 L367.54,311.58 L368.17,311.50 L368.80,311.53 L369.41,311.41 L370.01,311.23 L370.62,311.12 L371.23,311.13 L371.83,310.99 L372.44,310.82 L373.04,310.69 L373.65,310.59 L374.26,310.49 L374.86,310.49 L375.47,310.30 L376.07,310.15 L376.68,310.21 L377.29,310.08 L377.89,309.82 L378.50,309.90 L379.14,309.51 L379.78,309.26 L380.43,308.91 L381.07,308.69 L381.71,308.34 L382.35,308.05 L382.99,307.44 L383.63,307.37 L384.27,306.97 L384.92,306.77 L385.56,306.28 L386.20,306.24 L386.83,305.18 L387.47,304.10 L388.10,303.19 L388.73,302.22 L389.37,301.71 L390.00,300.36 L390.63,299.97 L391.27,298.68 L391.90,298.29 L392.55,297.01 L393.20,295.80 L393.85,295.10 L394.50,292.22 L395.15,292.58 L395.80,290.53 L396.43,289.61 L397.07,288.73 L397.70,288.06 L398.33,285.74 L398.97,284.71 L399.60,285.12 L400.25,281.42 L400.90,281.99 L401.55,280.88 L402.20,277.77 L402.85,278.59 L403.50,277.74 L404.10,277.93 L404.70,275.03 L405.30,276.73 L405.90,274.24 L406.50,273.42 L407.10,274.33 L407.70,270.14 L408.30,272.20 L408.93,271.30 L409.57,269.59 L410.20,271.29 L410.83,268.66 L411.47,268.61 L412.10,268.31 L412.75,270.37 L413.40,268.98 L414.05,270.93 L414.70,271.89 L415.35,273.41 L416.00,275.45 L416.63,274.72 L417.27,277.93 L417.90,277.72 L418.53,279.35 L419.17,279.89 L419.80,281.92 L420.45,284.87 L421.10,285.52 L421.75,287.45 L422.40,287.89 L423.05,289.49 L423.70,291.08 L424.33,293.28 L424.97,294.97 L425.60,296.81 L426.23,297.30 L426.87,299.87 L427.50,301.63 L428.13,302.51 L428.77,303.34 L429.40,304.85 L430.03,305.96 L430.67,307.38 L431.30,308.95 L432.02,309.73 L432.75,310.63 L433.48,311.53 L434.20,312.40 L434.82,312.40 L435.44,312.40 L436.06,312.40 L436.68,312.40 L437.31,312.40 L437.93,312.40 L438.55,312.40 L439.17,312.40 L439.79,312.40 L440.41,312.40 L441.03,312.40 L441.65,312.40 L442.27,312.40 L442.89,312.40 L443.52,312.40 L444.14,312.40 L444.76,312.40 L445.38,312.40 L446.00,312.40 L446.00,312.40 L320.70,312.40Z" fill="#61c151" opacity="0.5"/>
<path d="M320.70,312.40 L321.31,312.40 L321.91,312.40 L322.52,312.40 L323.13,312.40 L323.74,312.40 L324.34,312.40 L324.95,312.40 L325.56,312.40 L326.17,312.40 L326.77,312.40 L327.38,312.40 L327.99,312.40 L328.60,312.40 L329.20,312.40 L329.81,312.40 L330.42,312.40 L331.03,312.40 L331.63,312.40 L332.24,312.40 L332.85,312.40 L333.46,312.40 L334.06,312.40 L334.67,312.40 L335.28,312.40 L335.89,312.40 L336.50,312.40 L337.10,312.40 L337.71,312.40 L338.32,312.40 L338.93,312.40 L339.53,312.40 L340.14,312.40 L340.75,312.40 L341.36,312.40 L341.96,312.40 L342.57,312.40 L343.18,312.40 L343.78,312.40 L344.39,312.40 L345.00,312.40 L345.60,312.38 L346.20,312.36 L346.80,312.34 L347.40,312.32 L348.00,312.30 L348.60,312.28 L349.20,312.26 L349.80,312.24 L350.40,312.22 L351.00,312.20 L351.60,312.18 L352.20,312.16 L352.80,312.14 L353.40,312.12 L354.00,312.10 L354.60,312.09 L355.20,312.05 L355.80,312.04 L356.40,312.01 L357.00,312.00 L357.60,311.97 L358.20,311.94 L358.80,311.95 L359.40,311.91 L360.00,311.89 L360.63,311.86 L361.26,311.84 L361.89,311.81 L362.51,311.79 L363.14,311.77 L363.77,311.72 L364.40,311.73 L365.03,311.70 L365.66,311.61 L366.29,311.64 L366.91,311.62 L367.54,311.58 L368.17,311.50 L368.80,311.53 L369.41,311.41 L370.01,311.23 L370.62,311.12 L371.23,311.13 L371.83,310.99 L372.44,310.82 L373.04,310.69 L373.65,310.59 L374.26,310.49 L374.86,310.49 L375.47,310.30 L376.07,310.15 L376.68,310.21 L377.29,310.08 L377.89,309.82 L378.50,309.90 L379.14,309.51 L379.78,309.26 L380.43,308.91 L381.07,308.69 L381.71,308.34 L382.35,308.05 L382.99,307.44 L383.63,307.37 L384.27,306.97 L384.92,306.77 L385.56,306.28 L386.20,306.24 L386.83,305.18 L387.47,304.10 L388.10,303.19 L388.73,302.22 L389.37,301.71 L390.00,300.36 L390.63,299.97 L391.27,298.68 L391.90,298.29 L392.55,297.01 L393.20,295.80 L393.85,295.10 L394.50,292.22 L395.15,292.58 L395.80,290.53 L396.43,289.61 L397.07,288.73 L397.70,288.06 L398.33,285.74 L398.97,284.71 L399.60,285.12 L400.25,281.42 L400.90,281.99 L401.55,280.88 L402.20,277.77 L402.85,278.59 L403.50,277.74 L404.10,277.93 L404.70,275.03 L405.30,276.73 L405.90,274.24 L406.50,273.42 L407.10,274.33 L407.70,270.14 L408.30,272.20 L408.93,271.30 L409.57,269.59 L410.20,271.29 L410.83,268.66 L411.47,268.61 L412.10,268.31 L412.75,270.37 L413.40,268.98 L414.05,270.93 L414.70,271.89 L415.35,273.41 L416.00,275.45 L416.63,274.72 L417.27,277.93 L417.90,277.72 L418.53,279.35 L419.17,279.89 L419.80,281.92 L420.45,284.87 L421.10,285.52 L421.75,287.45 L422.40,287.89 L423.05,289.49 L423.70,291.08 L424.33,293.28 L424.97,294.97 L425.60,296.81 L426.23,297.30 L426.87,299.87 L427.50,301.63 L428.13,302.51 L428.77,303.34 L429.40,304.85 L430.03,305.96 L430.67,307.38 L431.30,308.95 L432.02,309.73 L432.75,310.63 L433.48,311.53 L434.20,312.40 L434.82,312.40 L435.44,312.40 L436.06,312.40 L436.68,312.40 L437.31,312.40 L437.93,312.40 L438.55,312.40 L439.17,312.40 L439.79,312.40 L440.41,312.40 L441.03,312.40 L441.65,312.40 L442.27,312.40 L442.89,312.40 L443.52,312.40 L444.14,312.40 L444.76,312.40 L445.38,312.40 L446.00,312.40" fill="none" stroke="#1f9a10" stroke-width="1.0" stroke-linejoin="round"/>
<rect x="320.70" y="194.60" width="125.30" height="117.80" fill="none" stroke="#000" stroke-width="1.3" rx="0" />
<line x1="328.10" y1="312.40" x2="328.10" y2="315.00" stroke="#000" stroke-width="0.9" />
<line x1="332.80" y1="312.40" x2="332.80" y2="315.00" stroke="#000" stroke-width="0.9" />
<line x1="336.80" y1="312.40" x2="336.80" y2="315.00" stroke="#000" stroke-width="0.9" />
<line x1="341.60" y1="312.40" x2="341.60" y2="315.00" stroke="#000" stroke-width="0.9" />
<line x1="352.70" y1="312.40" x2="352.70" y2="315.00" stroke="#000" stroke-width="0.9" />
<line x1="357.00" y1="312.40" x2="357.00" y2="315.00" stroke="#000" stroke-width="0.9" />
<line x1="360.80" y1="312.40" x2="360.80" y2="315.00" stroke="#000" stroke-width="0.9" />
<line x1="364.40" y1="312.40" x2="364.40" y2="315.00" stroke="#000" stroke-width="0.9" />
<line x1="381.00" y1="312.40" x2="381.00" y2="315.00" stroke="#000" stroke-width="0.9" />
<line x1="385.70" y1="312.40" x2="385.70" y2="315.00" stroke="#000" stroke-width="0.9" />
<line x1="393.50" y1="312.40" x2="393.50" y2="315.00" stroke="#000" stroke-width="0.9" />
<line x1="396.80" y1="312.40" x2="396.80" y2="315.00" stroke="#000" stroke-width="0.9" />
<line x1="400.20" y1="312.40" x2="400.20" y2="315.00" stroke="#000" stroke-width="0.9" />
<line x1="413.00" y1="312.40" x2="413.00" y2="315.00" stroke="#000" stroke-width="0.9" />
<line x1="417.70" y1="312.40" x2="417.70" y2="315.00" stroke="#000" stroke-width="0.9" />
<line x1="421.00" y1="312.40" x2="421.00" y2="315.00" stroke="#000" stroke-width="0.9" />
<line x1="423.70" y1="312.40" x2="423.70" y2="315.00" stroke="#000" stroke-width="0.9" />
<line x1="426.40" y1="312.40" x2="426.40" y2="315.00" stroke="#000" stroke-width="0.9" />
<line x1="429.10" y1="312.40" x2="429.10" y2="315.00" stroke="#000" stroke-width="0.9" />
<line x1="431.10" y1="312.40" x2="431.10" y2="315.00" stroke="#000" stroke-width="0.9" />
<line x1="441.90" y1="312.40" x2="441.90" y2="315.00" stroke="#000" stroke-width="0.9" />
<line x1="347.30" y1="312.40" x2="347.30" y2="316.30" stroke="#000" stroke-width="1.0" />
<line x1="369.10" y1="312.40" x2="369.10" y2="316.30" stroke="#000" stroke-width="1.0" />
<line x1="403.60" y1="312.40" x2="403.60" y2="316.30" stroke="#000" stroke-width="1.0" />
<line x1="433.80" y1="312.40" x2="433.80" y2="316.30" stroke="#000" stroke-width="1.0" />
<text x="346.30" y="322.40" font-size="6.4" fill="#111" text-anchor="middle" stroke="#111" stroke-width="0.15">0</text>
<text x="398.70" y="323.60" font-size="7.6" fill="#111" textLength="7.60" lengthAdjust="spacingAndGlyphs" stroke="#111" stroke-width="0.15">10</text>
<text x="406.40" y="320.90" font-size="4.6" fill="#111" >4</text>
<text x="376.10" y="332.80" font-size="9.2" fill="#2a2a2a" textLength="15.70" lengthAdjust="spacingAndGlyphs" stroke="#2a2a2a" stroke-width="0.15">ICOS</text>
<text x="8.00" y="346.60" font-size="10.9" fill="#000" font-weight="bold" >C</text>
<rect x="41.60" y="354.00" width="124.80" height="12.40" fill="#c6dcea" stroke="none" stroke-width="1" rx="0" />
<text x="82.90" y="364.70" font-size="9.6" fill="#2a2a2a" textLength="41.50" lengthAdjust="spacingAndGlyphs" >Suppression</text>
<text x="34.40" y="481.10" font-size="7.7" fill="#111" text-anchor="end" textLength="4.37" lengthAdjust="spacingAndGlyphs" stroke="#111" stroke-width="0.25">0</text>
<line x1="38.70" y1="478.40" x2="42.30" y2="478.40" stroke="#222" stroke-width="1.0" />
<text x="34.40" y="452.60" font-size="7.7" fill="#111" text-anchor="end" textLength="8.74" lengthAdjust="spacingAndGlyphs" stroke="#111" stroke-width="0.25">10</text>
<line x1="38.70" y1="449.90" x2="42.30" y2="449.90" stroke="#222" stroke-width="1.0" />
<text x="34.40" y="424.10" font-size="7.7" fill="#111" text-anchor="end" textLength="8.74" lengthAdjust="spacingAndGlyphs" stroke="#111" stroke-width="0.25">20</text>
<line x1="38.70" y1="421.40" x2="42.30" y2="421.40" stroke="#222" stroke-width="1.0" />
<text x="34.40" y="395.60" font-size="7.7" fill="#111" text-anchor="end" textLength="8.74" lengthAdjust="spacingAndGlyphs" stroke="#111" stroke-width="0.25">30</text>
<line x1="38.70" y1="392.90" x2="42.30" y2="392.90" stroke="#222" stroke-width="1.0" />
<text x="16.50" y="423.70" font-size="9.0" fill="#222" text-anchor="middle" textLength="55.30" lengthAdjust="spacingAndGlyphs" transform="rotate(-90 16.50 423.70)" stroke="#222" stroke-width="0.18">Suppression (%)</text>
<rect x="48.10" y="475.80" width="23.10" height="2.20" fill="#a9c9bc" stroke="none" stroke-width="1" rx="0" />
<line x1="48.10" y1="479.00" x2="71.20" y2="479.00" stroke="#000" stroke-width="1.6" />
<circle cx="59.20" cy="474.30" r="2.05" fill="#bcd8ca" stroke="#1a1a1a" stroke-width="1.0"/>
<circle cx="61.60" cy="477.20" r="2.05" fill="#bcd8ca" stroke="#1a1a1a" stroke-width="1.0"/>
<circle cx="57.80" cy="480.20" r="2.05" fill="#bcd8ca" stroke="#1a1a1a" stroke-width="1.0"/>
<circle cx="59.60" cy="475.40" r="2.05" fill="#bcd8ca" stroke="#1a1a1a" stroke-width="1.0"/>
<line x1="89.80" y1="402.80" x2="89.80" y2="429.60" stroke="#222" stroke-width="0.9" />
<line x1="89.80" y1="449.70" x2="89.80" y2="453.50" stroke="#222" stroke-width="0.9" />
<rect x="77.70" y="429.60" width="23.30" height="20.10" fill="#1b3db5" stroke="#111" stroke-width="1.1" rx="0" />
<line x1="77.70" y1="435.20" x2="101.00" y2="435.20" stroke="#000" stroke-width="1.8" />
<circle cx="90.10" cy="402.80" r="2.05" fill="#1a45d0" stroke="#1a1a1a" stroke-width="1.0"/>
<circle cx="87.80" cy="427.80" r="2.05" fill="#1a45d0" stroke="#1a1a1a" stroke-width="1.0"/>
<circle cx="90.10" cy="433.20" r="2.05" fill="#1a45d0" stroke="#1a1a1a" stroke-width="1.0"/>
<circle cx="88.50" cy="438.80" r="2.05" fill="#1a45d0" stroke="#1a1a1a" stroke-width="1.0"/>
<circle cx="88.50" cy="453.50" r="2.05" fill="#1a45d0" stroke="#1a1a1a" stroke-width="1.0"/>
<circle cx="89.10" cy="460.10" r="2.05" fill="#1a45d0" stroke="#1a1a1a" stroke-width="1.0"/>
<line x1="118.30" y1="397.50" x2="118.30" y2="406.10" stroke="#222" stroke-width="0.9" />
<line x1="118.30" y1="449.50" x2="118.30" y2="463.90" stroke="#222" stroke-width="0.9" />
<rect x="107.40" y="406.10" width="22.20" height="43.40" fill="#a3101c" stroke="#111" stroke-width="1.1" rx="0" />
<line x1="107.40" y1="428.70" x2="129.60" y2="428.70" stroke="#000" stroke-width="1.8" />
<circle cx="116.60" cy="397.50" r="2.05" fill="#b0101e" stroke="#1a1a1a" stroke-width="1.0"/>
<circle cx="118.60" cy="405.00" r="2.05" fill="#b0101e" stroke="#1a1a1a" stroke-width="1.0"/>
<circle cx="118.00" cy="411.90" r="2.05" fill="#b0101e" stroke="#1a1a1a" stroke-width="1.0"/>
<circle cx="117.50" cy="445.50" r="2.05" fill="#b0101e" stroke="#1a1a1a" stroke-width="1.0"/>
<circle cx="118.60" cy="451.80" r="2.05" fill="#b0101e" stroke="#1a1a1a" stroke-width="1.0"/>
<circle cx="118.90" cy="463.90" r="2.05" fill="#b0101e" stroke="#1a1a1a" stroke-width="1.0"/>
<line x1="147.60" y1="401.20" x2="147.60" y2="418.70" stroke="#222" stroke-width="0.9" />
<line x1="147.60" y1="468.30" x2="147.60" y2="476.30" stroke="#222" stroke-width="0.9" />
<rect x="136.20" y="418.70" width="22.80" height="49.60" fill="#66e020" stroke="#111" stroke-width="1.1" rx="0" />
<line x1="136.20" y1="457.60" x2="159.00" y2="457.60" stroke="#000" stroke-width="1.8" />
<circle cx="146.00" cy="401.20" r="2.05" fill="#66e020" stroke="#1a1a1a" stroke-width="1.0"/>
<circle cx="146.90" cy="406.40" r="2.05" fill="#66e020" stroke="#1a1a1a" stroke-width="1.0"/>
<circle cx="146.00" cy="452.70" r="2.05" fill="#66e020" stroke="#1a1a1a" stroke-width="1.0"/>
<circle cx="149.80" cy="464.20" r="2.05" fill="#66e020" stroke="#1a1a1a" stroke-width="1.0"/>
<circle cx="149.20" cy="470.00" r="2.05" fill="#66e020" stroke="#1a1a1a" stroke-width="1.0"/>
<circle cx="149.80" cy="476.30" r="2.05" fill="#66e020" stroke="#1a1a1a" stroke-width="1.0"/>
<rect x="42.30" y="367.90" width="123.40" height="120.70" fill="none" stroke="#111" stroke-width="1.4" rx="0" />
<line x1="59.30" y1="488.60" x2="59.30" y2="491.60" stroke="#222" stroke-width="1.0" />
<line x1="89.60" y1="488.60" x2="89.60" y2="491.60" stroke="#222" stroke-width="1.0" />
<line x1="118.20" y1="488.60" x2="118.20" y2="491.60" stroke="#222" stroke-width="1.0" />
<line x1="148.40" y1="488.60" x2="148.40" y2="491.60" stroke="#222" stroke-width="1.0" />
<path d="M58.8,382.0 L58.8,379.5 L148.6,379.5 L148.6,382.0" fill="none" stroke="#222" stroke-width="1"/>
<text x="93.40" y="377.60" font-size="7.0" fill="#1a1a1a" textLength="23.10" lengthAdjust="spacingAndGlyphs" stroke="#1a1a1a" stroke-width="0.2">0.0087</text>
<path d="M58.8,391.0 L58.8,388.6 L117.8,388.6 L117.8,391.0" fill="none" stroke="#222" stroke-width="1"/>
<text x="76.70" y="387.80" font-size="7.0" fill="#1a1a1a" textLength="22.90" lengthAdjust="spacingAndGlyphs" stroke="#1a1a1a" stroke-width="0.2">0.0022</text>
<path d="M58.8,399.8 L58.8,397.2 L90.2,397.2 L90.2,399.8" fill="none" stroke="#222" stroke-width="1"/>
<text x="63.20" y="396.30" font-size="7.0" fill="#1a1a1a" textLength="22.50" lengthAdjust="spacingAndGlyphs" stroke="#1a1a1a" stroke-width="0.2">0.0022</text>
<text x="63.60" y="498.00" font-size="10.9" fill="#111" text-anchor="end" transform="rotate(-45 63.60 498.00)" stroke="#111" stroke-width="0.35">Control</text>
<text x="95.20" y="497.30" font-size="9.0" fill="#2446c4" text-anchor="end" textLength="21.80" lengthAdjust="spacingAndGlyphs" transform="rotate(-45 95.20 497.30)" stroke="#2446c4" stroke-width="0.3">iNKT1</text>
<text x="121.20" y="496.00" font-size="9.0" fill="#b01a30" text-anchor="end" transform="rotate(-45 121.20 496.00)" stroke="#b01a30" stroke-width="0.3">iNKT2</text>
<text x="151.40" y="496.00" font-size="9.0" fill="#7ee83e" text-anchor="end" transform="rotate(-45 151.40 496.00)" stroke="#7ee83e" stroke-width="0.3">iNKT17</text>
<rect x="214.70" y="354.00" width="126.20" height="12.40" fill="#c6dcea" stroke="none" stroke-width="1" rx="0" />
<text x="248.30" y="364.70" font-size="9.6" fill="#2a2a2a" textLength="57.20" lengthAdjust="spacingAndGlyphs" >CD25 Expression</text>
<text x="212.90" y="485.80" font-size="7.7" fill="#111" text-anchor="end" textLength="4.37" lengthAdjust="spacingAndGlyphs" stroke="#111" stroke-width="0.25">0</text>
<line x1="211.80" y1="483.10" x2="215.40" y2="483.10" stroke="#222" stroke-width="1.0" />
<text x="212.90" y="459.90" font-size="7.7" fill="#111" text-anchor="end" textLength="21.84" lengthAdjust="spacingAndGlyphs" stroke="#111" stroke-width="0.25">25000</text>
<line x1="211.80" y1="457.20" x2="215.40" y2="457.20" stroke="#222" stroke-width="1.0" />
<text x="212.90" y="434.00" font-size="7.7" fill="#111" text-anchor="end" textLength="21.84" lengthAdjust="spacingAndGlyphs" stroke="#111" stroke-width="0.25">50000</text>
<line x1="211.80" y1="431.30" x2="215.40" y2="431.30" stroke="#222" stroke-width="1.0" />
<text x="212.90" y="408.10" font-size="7.7" fill="#111" text-anchor="end" textLength="21.84" lengthAdjust="spacingAndGlyphs" stroke="#111" stroke-width="0.25">75000</text>
<line x1="211.80" y1="405.40" x2="215.40" y2="405.40" stroke="#222" stroke-width="1.0" />
<text x="212.90" y="382.20" font-size="7.7" fill="#111" text-anchor="end" textLength="26.21" lengthAdjust="spacingAndGlyphs" stroke="#111" stroke-width="0.25">100000</text>
<line x1="211.80" y1="379.50" x2="215.40" y2="379.50" stroke="#222" stroke-width="1.0" />
<text x="185.30" y="424.00" font-size="9.0" fill="#222" text-anchor="middle" textLength="39.50" lengthAdjust="spacingAndGlyphs" transform="rotate(-90 185.30 424.00)" stroke="#222" stroke-width="0.18">CD25 (MFI)</text>
<line x1="233.60" y1="393.30" x2="233.60" y2="400.40" stroke="#222" stroke-width="0.9" />
<line x1="233.60" y1="415.80" x2="233.60" y2="425.90" stroke="#222" stroke-width="0.9" />
<rect x="221.50" y="400.40" width="23.10" height="15.40" fill="#a9bfb6" stroke="#111" stroke-width="1.1" rx="0" />
<line x1="221.50" y1="406.50" x2="244.60" y2="406.50" stroke="#000" stroke-width="1.8" />
<circle cx="232.30" cy="393.30" r="2.05" fill="#bcd8ca" stroke="#1a1a1a" stroke-width="1.0"/>
<circle cx="231.40" cy="405.90" r="2.05" fill="#bcd8ca" stroke="#1a1a1a" stroke-width="1.0"/>
<circle cx="233.80" cy="425.90" r="2.05" fill="#bcd8ca" stroke="#1a1a1a" stroke-width="1.0"/>
<rect x="251.40" y="401.90" width="22.40" height="4.00" fill="#1b3db5" stroke="#111" stroke-width="1.1" rx="0" />
<line x1="251.40" y1="404.00" x2="273.80" y2="404.00" stroke="#000" stroke-width="1.4" />
<circle cx="262.50" cy="401.50" r="2.05" fill="#1a45d0" stroke="#1a1a1a" stroke-width="1.0"/>
<circle cx="264.00" cy="404.00" r="2.05" fill="#1a45d0" stroke="#1a1a1a" stroke-width="1.0"/>
<circle cx="261.50" cy="407.60" r="2.05" fill="#1a45d0" stroke="#1a1a1a" stroke-width="1.0"/>
<rect x="281.80" y="462.60" width="20.80" height="1.60" fill="#a3101c" stroke="#111" stroke-width="1.1" rx="0" />
<line x1="281.80" y1="463.40" x2="302.60" y2="463.40" stroke="#000" stroke-width="1.4" />
<circle cx="290.30" cy="462.00" r="2.05" fill="#b0101e" stroke="#1a1a1a" stroke-width="1.0"/>
<circle cx="291.20" cy="463.60" r="2.05" fill="#b0101e" stroke="#1a1a1a" stroke-width="1.0"/>
<line x1="321.00" y1="410.50" x2="321.00" y2="413.30" stroke="#222" stroke-width="0.9" />
<line x1="321.00" y1="423.50" x2="321.00" y2="431.20" stroke="#222" stroke-width="0.9" />
<rect x="309.80" y="413.30" width="22.50" height="10.20" fill="#66e020" stroke="#111" stroke-width="1.1" rx="0" />
<line x1="309.80" y1="415.20" x2="332.30" y2="415.20" stroke="#000" stroke-width="1.4" />
<circle cx="322.20" cy="410.50" r="2.05" fill="#66e020" stroke="#1a1a1a" stroke-width="1.0"/>
<circle cx="320.00" cy="415.80" r="2.05" fill="#66e020" stroke="#1a1a1a" stroke-width="1.0"/>
<circle cx="322.20" cy="431.20" r="2.05" fill="#66e020" stroke="#1a1a1a" stroke-width="1.0"/>
<rect x="215.40" y="367.90" width="124.80" height="120.70" fill="none" stroke="#111" stroke-width="1.4" rx="0" />
<line x1="233.60" y1="488.60" x2="233.60" y2="491.60" stroke="#222" stroke-width="1.0" />
<line x1="262.30" y1="488.60" x2="262.30" y2="491.60" stroke="#222" stroke-width="1.0" />
<line x1="291.80" y1="488.60" x2="291.80" y2="491.60" stroke="#222" stroke-width="1.0" />
<line x1="320.60" y1="488.60" x2="320.60" y2="491.60" stroke="#222" stroke-width="1.0" />
<path d="M232.9,384.4 L232.9,381.3 L292.3,381.3 L292.3,384.4" fill="none" stroke="#222" stroke-width="1"/>
<text x="251.40" y="379.80" font-size="7.0" fill="#1a1a1a" textLength="18.80" lengthAdjust="spacingAndGlyphs" stroke="#1a1a1a" stroke-width="0.2">0.029</text>
<text x="237.90" y="498.00" font-size="10.9" fill="#111" text-anchor="end" transform="rotate(-45 237.90 498.00)" stroke="#111" stroke-width="0.35">Control</text>
<text x="267.90" y="497.30" font-size="9.0" fill="#2446c4" text-anchor="end" textLength="21.80" lengthAdjust="spacingAndGlyphs" transform="rotate(-45 267.90 497.30)" stroke="#2446c4" stroke-width="0.3">iNKT1</text>
<text x="294.80" y="496.00" font-size="9.0" fill="#b01a30" text-anchor="end" transform="rotate(-45 294.80 496.00)" stroke="#b01a30" stroke-width="0.3">iNKT2</text>
<text x="323.60" y="496.00" font-size="9.0" fill="#7ee83e" text-anchor="end" transform="rotate(-45 323.60 496.00)" stroke="#7ee83e" stroke-width="0.3">iNKT17</text>
<rect x="389.10" y="354.00" width="124.60" height="12.40" fill="#c6dcea" stroke="none" stroke-width="1" rx="0" />
<text x="424.60" y="364.70" font-size="9.6" fill="#2a2a2a" textLength="53.90" lengthAdjust="spacingAndGlyphs" >ICOS Expression</text>
<text x="386.80" y="485.70" font-size="7.7" fill="#111" text-anchor="end" textLength="4.37" lengthAdjust="spacingAndGlyphs" stroke="#111" stroke-width="0.25">0</text>
<line x1="386.20" y1="483.00" x2="389.80" y2="483.00" stroke="#222" stroke-width="1.0" />
<text x="386.80" y="452.70" font-size="7.7" fill="#111" text-anchor="end" textLength="21.84" lengthAdjust="spacingAndGlyphs" stroke="#111" stroke-width="0.25">10000</text>
<line x1="386.20" y1="450.00" x2="389.80" y2="450.00" stroke="#222" stroke-width="1.0" />
<text x="386.80" y="419.70" font-size="7.7" fill="#111" text-anchor="end" textLength="21.84" lengthAdjust="spacingAndGlyphs" stroke="#111" stroke-width="0.25">20000</text>
<line x1="386.20" y1="417.00" x2="389.80" y2="417.00" stroke="#222" stroke-width="1.0" />
<text x="386.80" y="386.70" font-size="7.7" fill="#111" text-anchor="end" textLength="21.84" lengthAdjust="spacingAndGlyphs" stroke="#111" stroke-width="0.25">30000</text>
<line x1="386.20" y1="384.00" x2="389.80" y2="384.00" stroke="#222" stroke-width="1.0" />
<text x="362.10" y="423.30" font-size="9.0" fill="#222" text-anchor="middle" textLength="36.80" lengthAdjust="spacingAndGlyphs" transform="rotate(-90 362.10 423.30)" stroke="#222" stroke-width="0.18">ICOS (MFI)</text>
<line x1="406.00" y1="391.80" x2="406.00" y2="393.60" stroke="#222" stroke-width="0.9" />
<line x1="406.00" y1="408.10" x2="406.00" y2="417.90" stroke="#222" stroke-width="0.9" />
<rect x="394.50" y="393.60" width="23.30" height="14.50" fill="#a9bfb6" stroke="#111" stroke-width="1.1" rx="0" />
<line x1="394.50" y1="397.30" x2="417.80" y2="397.30" stroke="#000" stroke-width="1.4" />
<circle cx="405.50" cy="391.80" r="2.05" fill="#bcd8ca" stroke="#1a1a1a" stroke-width="1.0"/>
<circle cx="404.00" cy="397.30" r="2.05" fill="#bcd8ca" stroke="#1a1a1a" stroke-width="1.0"/>
<circle cx="407.70" cy="417.90" r="2.05" fill="#bcd8ca" stroke="#1a1a1a" stroke-width="1.0"/>
<rect x="424.00" y="425.60" width="23.10" height="4.00" fill="#1b3db5" stroke="#111" stroke-width="1.1" rx="0" />
<line x1="424.00" y1="428.00" x2="447.10" y2="428.00" stroke="#000" stroke-width="1.4" />
<circle cx="433.80" cy="423.50" r="2.05" fill="#1a45d0" stroke="#1a1a1a" stroke-width="1.0"/>
<circle cx="436.30" cy="428.70" r="2.05" fill="#1a45d0" stroke="#1a1a1a" stroke-width="1.0"/>
<rect x="453.50" y="454.80" width="22.70" height="1.80" fill="#a3101c" stroke="#111" stroke-width="1.1" rx="0" />
<line x1="453.50" y1="455.70" x2="476.20" y2="455.70" stroke="#000" stroke-width="1.4" />
<circle cx="464.30" cy="455.70" r="2.05" fill="#b0101e" stroke="#1a1a1a" stroke-width="1.0"/>
<line x1="494.30" y1="431.20" x2="494.30" y2="432.10" stroke="#222" stroke-width="0.9" />
<line x1="494.30" y1="436.40" x2="494.30" y2="440.40" stroke="#222" stroke-width="0.9" />
<rect x="483.00" y="432.10" width="23.20" height="4.30" fill="#66e020" stroke="#111" stroke-width="1.1" rx="0" />
<line x1="483.00" y1="434.20" x2="506.20" y2="434.20" stroke="#000" stroke-width="1.4" />
<circle cx="492.90" cy="431.20" r="2.05" fill="#66e020" stroke="#1a1a1a" stroke-width="1.0"/>
<circle cx="489.80" cy="434.80" r="2.05" fill="#66e020" stroke="#1a1a1a" stroke-width="1.0"/>
<circle cx="495.40" cy="440.40" r="2.05" fill="#66e020" stroke="#1a1a1a" stroke-width="1.0"/>
<rect x="389.80" y="367.90" width="123.20" height="120.70" fill="none" stroke="#111" stroke-width="1.4" rx="0" />
<line x1="406.40" y1="488.60" x2="406.40" y2="491.60" stroke="#222" stroke-width="1.0" />
<line x1="436.30" y1="488.60" x2="436.30" y2="491.60" stroke="#222" stroke-width="1.0" />
<line x1="465.70" y1="488.60" x2="465.70" y2="491.60" stroke="#222" stroke-width="1.0" />
<line x1="494.80" y1="488.60" x2="494.80" y2="491.60" stroke="#222" stroke-width="1.0" />
<path d="M405.5,378.8 L405.5,375.8 L494.5,375.8 L494.5,378.8" fill="none" stroke="#222" stroke-width="1"/>
<text x="444.60" y="375.00" font-size="7.0" fill="#1a1a1a" textLength="14.40" lengthAdjust="spacingAndGlyphs" stroke="#1a1a1a" stroke-width="0.2">0.04</text>
<path d="M405.5,387.4 L405.5,384.4 L465.2,384.4 L465.2,387.4" fill="none" stroke="#222" stroke-width="1"/>
<text x="426.20" y="383.40" font-size="7.0" fill="#1a1a1a" textLength="18.40" lengthAdjust="spacingAndGlyphs" stroke="#1a1a1a" stroke-width="0.2">0.021</text>
<text x="410.70" y="498.00" font-size="10.9" fill="#111" text-anchor="end" transform="rotate(-45 410.70 498.00)" stroke="#111" stroke-width="0.35">Control</text>
<text x="441.90" y="497.30" font-size="9.0" fill="#2446c4" text-anchor="end" textLength="21.80" lengthAdjust="spacingAndGlyphs" transform="rotate(-45 441.90 497.30)" stroke="#2446c4" stroke-width="0.3">iNKT1</text>
<text x="468.70" y="496.00" font-size="9.0" fill="#b01a30" text-anchor="end" transform="rotate(-45 468.70 496.00)" stroke="#b01a30" stroke-width="0.3">iNKT2</text>
<text x="497.80" y="496.00" font-size="9.0" fill="#7ee83e" text-anchor="end" transform="rotate(-45 497.80 496.00)" stroke="#7ee83e" stroke-width="0.3">iNKT17</text>
<rect x="0.00" y="0.00" width="1.30" height="531.00" fill="#000" stroke="none" stroke-width="1" rx="0" />
<rect x="0.00" y="0.00" width="520.00" height="1.50" fill="#000" stroke="none" stroke-width="1" rx="0" />
<rect x="518.30" y="0.00" width="1.70" height="531.00" fill="#000" stroke="none" stroke-width="1" rx="0" />
<rect x="0.00" y="529.20" width="520.00" height="1.80" fill="#000" stroke="none" stroke-width="1" rx="0" />
</svg></body></html>
